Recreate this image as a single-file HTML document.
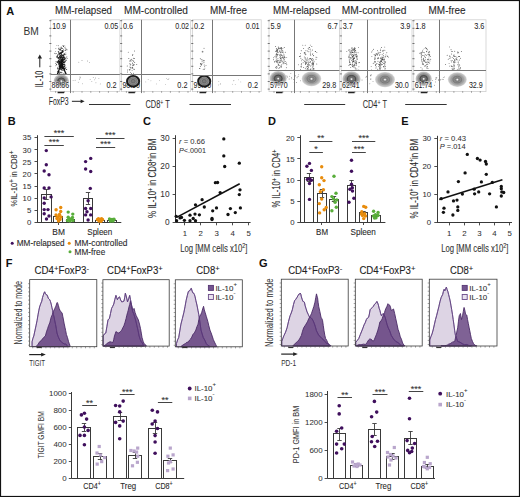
<!DOCTYPE html>
<html><head><meta charset="utf-8"><style>
html,body{margin:0;padding:0;background:#fff;}
svg{display:block;font-family:"Liberation Sans", sans-serif;}
</style></head><body>
<svg width="520" height="497" viewBox="0 0 520 497">
<defs>
<radialGradient id="gL"><stop offset="0" stop-color="#8a8a8a"/><stop offset="0.4" stop-color="#666"/><stop offset="0.75" stop-color="#9a9a9a"/><stop offset="1" stop-color="#d8d8d8"/></radialGradient>
<radialGradient id="gL2"><stop offset="0" stop-color="#999"/><stop offset="0.4" stop-color="#8a8a8a"/><stop offset="0.75" stop-color="#b0b0b0"/><stop offset="1" stop-color="#dcdcdc"/></radialGradient>
<radialGradient id="gD"><stop offset="0" stop-color="#777"/><stop offset="0.5" stop-color="#8a8a8a"/><stop offset="1" stop-color="#9a9a9a"/></radialGradient>
</defs>
<rect x="0" y="0" width="520" height="497" fill="#fff"/>
<text x="6.3" y="14.8" font-size="11" fill="#111" text-anchor="start" font-weight="bold" >A</text>
<text x="7.8" y="124.6" font-size="11" fill="#111" text-anchor="start" font-weight="bold" >B</text>
<text x="143" y="125.4" font-size="11" fill="#111" text-anchor="start" font-weight="bold" >C</text>
<text x="268" y="125.4" font-size="11" fill="#111" text-anchor="start" font-weight="bold" >D</text>
<text x="401.2" y="124.6" font-size="11" fill="#111" text-anchor="start" font-weight="bold" >E</text>
<text x="5.8" y="267" font-size="11" fill="#111" text-anchor="start" font-weight="bold" >F</text>
<text x="259" y="266.8" font-size="11" fill="#111" text-anchor="start" font-weight="bold" >G</text>
<text x="83.5" y="14.2" font-size="10.2" fill="#2a2a2a" text-anchor="middle" stroke="#2a2a2a" stroke-width="0.1" textLength="57" lengthAdjust="spacingAndGlyphs" >MM-relapsed</text>
<text x="156" y="14.2" font-size="10.2" fill="#2a2a2a" text-anchor="middle" stroke="#2a2a2a" stroke-width="0.1" textLength="64" lengthAdjust="spacingAndGlyphs" >MM-controlled</text>
<text x="228.6" y="14.2" font-size="10.2" fill="#2a2a2a" text-anchor="middle" stroke="#2a2a2a" stroke-width="0.1" textLength="37" lengthAdjust="spacingAndGlyphs" >MM-free</text>
<text x="301.7" y="14.2" font-size="10.2" fill="#2a2a2a" text-anchor="middle" stroke="#2a2a2a" stroke-width="0.1" textLength="57.3" lengthAdjust="spacingAndGlyphs" >MM-relapsed</text>
<text x="374.1" y="14.2" font-size="10.2" fill="#2a2a2a" text-anchor="middle" stroke="#2a2a2a" stroke-width="0.1" textLength="64.7" lengthAdjust="spacingAndGlyphs" >MM-controlled</text>
<text x="447.1" y="14.2" font-size="10.2" fill="#2a2a2a" text-anchor="middle" stroke="#2a2a2a" stroke-width="0.1" textLength="37.1" lengthAdjust="spacingAndGlyphs" >MM-free</text>
<text x="23.4" y="35.1" font-size="10.4" fill="#333" text-anchor="start" textLength="15.3" lengthAdjust="spacingAndGlyphs" >BM</text>
<text x="42.9" y="87.2" font-size="10" fill="#2a2a2a" text-anchor="start" stroke="#2a2a2a" stroke-width="0.05" textLength="16.6" lengthAdjust="spacingAndGlyphs" transform="rotate(-90 42.9 87.2)" >IL-10</text>
<line x1="39.8" y1="67.3" x2="39.8" y2="57.5" stroke="#222" stroke-width="1"/>
<path d="M37.6 58.6 L39.8 54.6 L42 58.6 Z" fill="#222"/>
<text x="48.7" y="104.5" font-size="10" fill="#2a2a2a" text-anchor="start" stroke="#2a2a2a" stroke-width="0.05" textLength="19.9" lengthAdjust="spacingAndGlyphs" >FoxP3</text>
<line x1="71.9" y1="101.3" x2="82" y2="101.3" stroke="#222" stroke-width="1"/>
<path d="M80.6 99.4 L84.6 101.3 L80.6 103.2 Z" fill="#222"/>
<line x1="89" y1="104.5" x2="130.4" y2="104.5" stroke="#333" stroke-width="1"/>
<line x1="189.5" y1="104.5" x2="231" y2="104.5" stroke="#333" stroke-width="1"/>
<line x1="304.2" y1="104.5" x2="345.2" y2="104.5" stroke="#333" stroke-width="1"/>
<line x1="405.2" y1="104.5" x2="446.7" y2="104.5" stroke="#333" stroke-width="1"/>
<text x="145.4" y="107.7" font-size="10" fill="#2a2a2a" text-anchor="start" stroke="#2a2a2a" stroke-width="0.05" textLength="24.4" lengthAdjust="spacingAndGlyphs" >CD8<tspan font-size="7" dy="-2.6">+</tspan><tspan dy="2.6"> T</tspan></text>
<text x="362.7" y="107.7" font-size="10" fill="#2a2a2a" text-anchor="start" stroke="#2a2a2a" stroke-width="0.05" textLength="24.2" lengthAdjust="spacingAndGlyphs" >CD4<tspan font-size="7" dy="-2.6">+</tspan><tspan dy="2.6"> T</tspan></text>
<rect x="50.6" y="19.8" width="69.3" height="71.8" fill="none" stroke="#cfcfcf" stroke-width="0.8"/>
<line x1="49.3" y1="89.1" x2="51.4" y2="89.1" stroke="#444" stroke-width="0.7"/>
<line x1="49.3" y1="81.5" x2="51.4" y2="81.5" stroke="#444" stroke-width="0.7"/>
<line x1="49.3" y1="73.9" x2="51.4" y2="73.9" stroke="#444" stroke-width="0.7"/>
<line x1="49.3" y1="66.3" x2="51.4" y2="66.3" stroke="#444" stroke-width="0.7"/>
<line x1="49.3" y1="58.7" x2="51.4" y2="58.7" stroke="#444" stroke-width="0.7"/>
<line x1="49.3" y1="51.1" x2="51.4" y2="51.1" stroke="#444" stroke-width="0.7"/>
<line x1="49.3" y1="43.5" x2="51.4" y2="43.5" stroke="#444" stroke-width="0.7"/>
<line x1="49.3" y1="35.9" x2="51.4" y2="35.9" stroke="#444" stroke-width="0.7"/>
<line x1="49.3" y1="28.3" x2="51.4" y2="28.3" stroke="#444" stroke-width="0.7"/>
<line x1="49.3" y1="20.7" x2="51.4" y2="20.7" stroke="#444" stroke-width="0.7"/>
<line x1="55.6" y1="91" x2="55.6" y2="92.9" stroke="#777" stroke-width="0.6"/>
<line x1="64.4" y1="91" x2="64.4" y2="92.9" stroke="#777" stroke-width="0.6"/>
<line x1="73.2" y1="91" x2="73.2" y2="92.9" stroke="#777" stroke-width="0.6"/>
<line x1="82" y1="91" x2="82" y2="92.9" stroke="#777" stroke-width="0.6"/>
<line x1="90.8" y1="91" x2="90.8" y2="92.9" stroke="#777" stroke-width="0.6"/>
<line x1="99.6" y1="91" x2="99.6" y2="92.9" stroke="#777" stroke-width="0.6"/>
<line x1="108.4" y1="91" x2="108.4" y2="92.9" stroke="#777" stroke-width="0.6"/>
<line x1="117.2" y1="91" x2="117.2" y2="92.9" stroke="#777" stroke-width="0.6"/>
<line x1="57.6" y1="92.5" x2="64.1" y2="92.5" stroke="#222" stroke-width="1.5"/>
<g fill="#333"><circle cx="60.73" cy="59.58" r="0.42"/><circle cx="60.82" cy="53.79" r="0.42"/><circle cx="58.71" cy="54.51" r="0.42"/><circle cx="64.84" cy="58.97" r="0.42"/><circle cx="64.61" cy="57.74" r="0.42"/><circle cx="62.68" cy="57.3" r="0.42"/><circle cx="56.5" cy="61.99" r="0.42"/><circle cx="63.02" cy="59.49" r="0.42"/><circle cx="58.83" cy="52.72" r="0.42"/><circle cx="62.42" cy="55.68" r="0.42"/><circle cx="63.06" cy="51.5" r="0.42"/><circle cx="62.43" cy="58.76" r="0.42"/><circle cx="59.52" cy="68.02" r="0.42"/><circle cx="63.17" cy="64.38" r="0.42"/><circle cx="59.64" cy="50.82" r="0.42"/><circle cx="60.47" cy="55.26" r="0.42"/><circle cx="63.4" cy="57.74" r="0.42"/><circle cx="60.16" cy="49.3" r="0.42"/><circle cx="59.94" cy="64.55" r="0.42"/><circle cx="59.08" cy="57.71" r="0.42"/><circle cx="62.78" cy="45.57" r="0.42"/><circle cx="61.65" cy="65.14" r="0.42"/><circle cx="55.46" cy="53.75" r="0.42"/><circle cx="61.18" cy="50.28" r="0.42"/><circle cx="62.99" cy="55.56" r="0.42"/><circle cx="57.11" cy="61.79" r="0.42"/><circle cx="63.51" cy="62.62" r="0.42"/><circle cx="65.82" cy="58.54" r="0.42"/><circle cx="61.86" cy="46.91" r="0.42"/><circle cx="63.35" cy="51.72" r="0.42"/><circle cx="60.14" cy="47.15" r="0.42"/><circle cx="58.6" cy="52.28" r="0.42"/><circle cx="57.13" cy="57.68" r="0.42"/><circle cx="65.83" cy="60.05" r="0.42"/><circle cx="62.57" cy="50.85" r="0.42"/><circle cx="58.14" cy="62.84" r="0.42"/><circle cx="64.81" cy="57.1" r="0.42"/><circle cx="62.24" cy="59.04" r="0.42"/><circle cx="66.28" cy="60.33" r="0.42"/><circle cx="63.06" cy="59.83" r="0.42"/><circle cx="56.8" cy="64.97" r="0.42"/><circle cx="64.37" cy="59.71" r="0.42"/><circle cx="55.58" cy="51.56" r="0.42"/><circle cx="60.95" cy="63.14" r="0.42"/><circle cx="57.57" cy="67.27" r="0.42"/><circle cx="63.16" cy="54.95" r="0.42"/><circle cx="62.47" cy="60.55" r="0.42"/><circle cx="61.86" cy="64.02" r="0.42"/><circle cx="59.52" cy="53.1" r="0.42"/><circle cx="64.63" cy="56.19" r="0.42"/><circle cx="58.86" cy="62.63" r="0.42"/><circle cx="65.9" cy="52.89" r="0.42"/><circle cx="57.36" cy="55.06" r="0.42"/><circle cx="61.05" cy="53.91" r="0.42"/><circle cx="65.71" cy="48.81" r="0.42"/><circle cx="65.28" cy="47.12" r="0.42"/><circle cx="59.14" cy="60.42" r="0.42"/><circle cx="64.89" cy="62.01" r="0.42"/><circle cx="62.54" cy="57" r="0.42"/><circle cx="61.96" cy="60.03" r="0.42"/><circle cx="60.97" cy="57.94" r="0.42"/><circle cx="63.22" cy="56.01" r="0.42"/><circle cx="63.79" cy="59.96" r="0.42"/><circle cx="67.53" cy="58.27" r="0.42"/><circle cx="60.22" cy="53.39" r="0.42"/><circle cx="61.46" cy="62.47" r="0.42"/><circle cx="60.49" cy="58.7" r="0.42"/><circle cx="58.13" cy="57.71" r="0.42"/><circle cx="62.7" cy="57.67" r="0.42"/><circle cx="60.21" cy="60.59" r="0.42"/><circle cx="62.35" cy="52.35" r="0.42"/><circle cx="59.84" cy="55.3" r="0.42"/><circle cx="60.82" cy="55.56" r="0.42"/><circle cx="64.53" cy="47.82" r="0.42"/><circle cx="61.3" cy="62.67" r="0.42"/><circle cx="64.07" cy="66.44" r="0.42"/><circle cx="56.4" cy="53.53" r="0.42"/><circle cx="60.48" cy="60.36" r="0.42"/><circle cx="64.77" cy="45.87" r="0.42"/><circle cx="63.55" cy="45.56" r="0.42"/><circle cx="62.03" cy="64.36" r="0.42"/><circle cx="61.05" cy="57.34" r="0.42"/><circle cx="63.89" cy="56.99" r="0.42"/><circle cx="61.23" cy="66.73" r="0.42"/><circle cx="64.65" cy="53.94" r="0.42"/><circle cx="64.24" cy="54.14" r="0.42"/><circle cx="61.9" cy="60.94" r="0.42"/><circle cx="62.17" cy="60.47" r="0.42"/><circle cx="56.92" cy="45.43" r="0.42"/><circle cx="63.34" cy="49.26" r="0.42"/><circle cx="58.42" cy="45.71" r="0.42"/><circle cx="65.3" cy="61.23" r="0.42"/><circle cx="65.92" cy="49.44" r="0.42"/><circle cx="61.5" cy="48.02" r="0.42"/><circle cx="63.8" cy="67.13" r="0.42"/><circle cx="58.83" cy="66.92" r="0.42"/><circle cx="64.46" cy="54.76" r="0.42"/><circle cx="55.58" cy="65.85" r="0.42"/><circle cx="61.21" cy="51.78" r="0.42"/><circle cx="62.7" cy="58.87" r="0.42"/><circle cx="65.99" cy="48.86" r="0.42"/><circle cx="64.91" cy="66.41" r="0.42"/><circle cx="65.86" cy="54.74" r="0.42"/><circle cx="59.27" cy="63.13" r="0.42"/><circle cx="61.85" cy="56.87" r="0.42"/><circle cx="65.77" cy="54.16" r="0.42"/><circle cx="54.61" cy="53.29" r="0.42"/><circle cx="55.94" cy="61.73" r="0.42"/><circle cx="62.45" cy="51.72" r="0.42"/><circle cx="61.47" cy="61.83" r="0.42"/><circle cx="61.74" cy="65.29" r="0.42"/><circle cx="61.32" cy="63.28" r="0.42"/><circle cx="65.97" cy="67.27" r="0.42"/><circle cx="59.48" cy="62.16" r="0.42"/><circle cx="55.87" cy="48.42" r="0.42"/><circle cx="55.61" cy="63.48" r="0.42"/><circle cx="57.8" cy="55.91" r="0.42"/><circle cx="60.92" cy="55.8" r="0.42"/><circle cx="59.73" cy="57.64" r="0.42"/><circle cx="66.87" cy="56.31" r="0.42"/></g>
<g fill="#111"><circle cx="62.36" cy="68.5" r="0.5"/><circle cx="60.9" cy="53.81" r="0.5"/><circle cx="60.19" cy="68.98" r="0.5"/><circle cx="58.01" cy="58.11" r="0.5"/><circle cx="63.31" cy="67.15" r="0.5"/><circle cx="61.32" cy="67.23" r="0.5"/><circle cx="61.63" cy="54.34" r="0.5"/><circle cx="58.17" cy="57.85" r="0.5"/><circle cx="63.15" cy="58.32" r="0.5"/><circle cx="59.5" cy="56.99" r="0.5"/><circle cx="58.24" cy="61.24" r="0.5"/><circle cx="58.94" cy="64.37" r="0.5"/><circle cx="56.58" cy="64.13" r="0.5"/><circle cx="60.02" cy="49.38" r="0.5"/><circle cx="62.75" cy="60.21" r="0.5"/><circle cx="56.84" cy="56.31" r="0.5"/><circle cx="61.88" cy="59.02" r="0.5"/><circle cx="62.86" cy="66.86" r="0.5"/><circle cx="62.63" cy="64.12" r="0.5"/><circle cx="63.97" cy="66.29" r="0.5"/><circle cx="62.2" cy="48.45" r="0.5"/><circle cx="63.09" cy="70.51" r="0.5"/><circle cx="60.71" cy="58.95" r="0.5"/><circle cx="65.18" cy="50.57" r="0.5"/><circle cx="59.44" cy="66.48" r="0.5"/><circle cx="65.07" cy="61.22" r="0.5"/><circle cx="62.42" cy="67.87" r="0.5"/><circle cx="59.49" cy="61.42" r="0.5"/><circle cx="61.89" cy="67.37" r="0.5"/><circle cx="61.23" cy="60.73" r="0.5"/><circle cx="59.27" cy="59.67" r="0.5"/><circle cx="63.08" cy="62.66" r="0.5"/><circle cx="59.59" cy="56.53" r="0.5"/><circle cx="66.63" cy="69.41" r="0.5"/><circle cx="62.54" cy="65.12" r="0.5"/><circle cx="64.67" cy="64.78" r="0.5"/><circle cx="61.17" cy="65.4" r="0.5"/><circle cx="57.41" cy="68.72" r="0.5"/><circle cx="61.95" cy="57.44" r="0.5"/><circle cx="63.95" cy="73.76" r="0.5"/><circle cx="58.5" cy="57.67" r="0.5"/><circle cx="61.88" cy="63.19" r="0.5"/><circle cx="60.5" cy="55.67" r="0.5"/><circle cx="65.54" cy="68.74" r="0.5"/><circle cx="58.91" cy="53.26" r="0.5"/><circle cx="64.71" cy="68.43" r="0.5"/><circle cx="64.94" cy="67.27" r="0.5"/><circle cx="59.56" cy="63.69" r="0.5"/><circle cx="56.98" cy="57.14" r="0.5"/><circle cx="61.18" cy="65.4" r="0.5"/><circle cx="59.84" cy="61.19" r="0.5"/><circle cx="62.22" cy="64.45" r="0.5"/><circle cx="62.58" cy="63.36" r="0.5"/><circle cx="60.65" cy="67.13" r="0.5"/><circle cx="61.4" cy="56.63" r="0.5"/><circle cx="60.05" cy="62" r="0.5"/><circle cx="61.08" cy="63.02" r="0.5"/><circle cx="61.3" cy="63.14" r="0.5"/><circle cx="61.03" cy="53.82" r="0.5"/><circle cx="62.14" cy="68.85" r="0.5"/><circle cx="62.17" cy="60.77" r="0.5"/><circle cx="62.19" cy="55.72" r="0.5"/><circle cx="57.51" cy="62.39" r="0.5"/><circle cx="59.44" cy="66.81" r="0.5"/><circle cx="59.22" cy="72.26" r="0.5"/><circle cx="60.54" cy="53.1" r="0.5"/><circle cx="59.77" cy="65.39" r="0.5"/><circle cx="62.29" cy="63.15" r="0.5"/><circle cx="64.27" cy="66.59" r="0.5"/><circle cx="61.26" cy="65.88" r="0.5"/><circle cx="64.61" cy="68.31" r="0.5"/><circle cx="63.35" cy="54.96" r="0.5"/><circle cx="61" cy="66.74" r="0.5"/><circle cx="60.71" cy="68.95" r="0.5"/><circle cx="62.49" cy="67.9" r="0.5"/><circle cx="63.78" cy="60.6" r="0.5"/><circle cx="60.61" cy="67.68" r="0.5"/><circle cx="63.26" cy="62.04" r="0.5"/><circle cx="58.97" cy="63.22" r="0.5"/><circle cx="62.02" cy="69.34" r="0.5"/><circle cx="62.87" cy="62.16" r="0.5"/><circle cx="63.01" cy="65.51" r="0.5"/><circle cx="61.71" cy="62.36" r="0.5"/><circle cx="60.81" cy="66.46" r="0.5"/><circle cx="59.19" cy="57.91" r="0.5"/><circle cx="61.31" cy="52.48" r="0.5"/><circle cx="60.43" cy="48.94" r="0.5"/><circle cx="59.93" cy="65.69" r="0.5"/><circle cx="62.43" cy="61.65" r="0.5"/><circle cx="60.84" cy="52.79" r="0.5"/><circle cx="64.96" cy="65.35" r="0.5"/><circle cx="63.49" cy="56.26" r="0.5"/><circle cx="60.93" cy="50.17" r="0.5"/><circle cx="62.86" cy="68.08" r="0.5"/><circle cx="57.51" cy="61.66" r="0.5"/><circle cx="62.56" cy="50.55" r="0.5"/><circle cx="57.65" cy="55.08" r="0.5"/><circle cx="60.04" cy="52.88" r="0.5"/><circle cx="61.36" cy="63.62" r="0.5"/><circle cx="62.57" cy="66.56" r="0.5"/><circle cx="64.31" cy="69.57" r="0.5"/><circle cx="58.68" cy="58.71" r="0.5"/><circle cx="59.18" cy="55" r="0.5"/><circle cx="61.14" cy="62.04" r="0.5"/><circle cx="62.28" cy="51.69" r="0.5"/><circle cx="58.82" cy="61.85" r="0.5"/><circle cx="60.9" cy="59.98" r="0.5"/><circle cx="61.17" cy="57.06" r="0.5"/><circle cx="62.7" cy="64.3" r="0.5"/><circle cx="61.12" cy="57.63" r="0.5"/><circle cx="59.34" cy="62.24" r="0.5"/><circle cx="58.29" cy="63.3" r="0.5"/><circle cx="61.59" cy="53.05" r="0.5"/><circle cx="60.8" cy="59.96" r="0.5"/><circle cx="62.22" cy="65.98" r="0.5"/><circle cx="61.23" cy="56.47" r="0.5"/><circle cx="61.01" cy="61.57" r="0.5"/><circle cx="62.77" cy="63.91" r="0.5"/><circle cx="59.85" cy="53.2" r="0.5"/><circle cx="60.55" cy="57.19" r="0.5"/><circle cx="59.08" cy="61.25" r="0.5"/><circle cx="60.32" cy="62.69" r="0.5"/><circle cx="62.35" cy="59.32" r="0.5"/><circle cx="65.95" cy="59.91" r="0.5"/><circle cx="63.5" cy="62.79" r="0.5"/><circle cx="63.53" cy="46.56" r="0.5"/><circle cx="59.8" cy="63.61" r="0.5"/><circle cx="61.95" cy="70.32" r="0.5"/><circle cx="62.83" cy="68.16" r="0.5"/><circle cx="62.32" cy="60.99" r="0.5"/><circle cx="62.32" cy="54.99" r="0.5"/><circle cx="63.66" cy="55.39" r="0.5"/><circle cx="60.85" cy="62.13" r="0.5"/><circle cx="63.63" cy="62.17" r="0.5"/><circle cx="59.68" cy="63.68" r="0.5"/><circle cx="62.46" cy="66.62" r="0.5"/><circle cx="59.75" cy="73.39" r="0.5"/><circle cx="64.63" cy="62.12" r="0.5"/><circle cx="61.84" cy="59.21" r="0.5"/><circle cx="64.13" cy="57.42" r="0.5"/><circle cx="62.65" cy="58.88" r="0.5"/><circle cx="59.91" cy="66.67" r="0.5"/><circle cx="63.97" cy="61.93" r="0.5"/><circle cx="59.95" cy="67.27" r="0.5"/><circle cx="61.2" cy="64.02" r="0.5"/><circle cx="64.35" cy="69.36" r="0.5"/><circle cx="61.31" cy="67.11" r="0.5"/><circle cx="60.01" cy="61.71" r="0.5"/><circle cx="57.8" cy="73.61" r="0.5"/><circle cx="64.03" cy="54.1" r="0.5"/><circle cx="58.29" cy="51.46" r="0.5"/><circle cx="63.65" cy="59.01" r="0.5"/><circle cx="61.18" cy="59.97" r="0.5"/><circle cx="61.06" cy="54.93" r="0.5"/><circle cx="61.35" cy="52.65" r="0.5"/><circle cx="61.16" cy="64.01" r="0.5"/><circle cx="62.24" cy="60.49" r="0.5"/><circle cx="59.49" cy="63.04" r="0.5"/><circle cx="60.33" cy="72.18" r="0.5"/><circle cx="62.84" cy="61.25" r="0.5"/><circle cx="60.36" cy="57.43" r="0.5"/><circle cx="59.43" cy="59.71" r="0.5"/><circle cx="61.89" cy="65.35" r="0.5"/><circle cx="59.89" cy="62.08" r="0.5"/><circle cx="66.89" cy="49.86" r="0.5"/><circle cx="60.26" cy="63.1" r="0.5"/><circle cx="61.61" cy="64.65" r="0.5"/><circle cx="60.82" cy="64.38" r="0.5"/><circle cx="61.41" cy="67.01" r="0.5"/><circle cx="57.51" cy="56.25" r="0.5"/><circle cx="61.3" cy="55.29" r="0.5"/><circle cx="59.21" cy="66.08" r="0.5"/><circle cx="60" cy="66.13" r="0.5"/><circle cx="62.79" cy="63.99" r="0.5"/><circle cx="62.32" cy="61.32" r="0.5"/><circle cx="58.48" cy="61.8" r="0.5"/><circle cx="62.21" cy="58.56" r="0.5"/><circle cx="61.1" cy="66.87" r="0.5"/><circle cx="59.54" cy="66.16" r="0.5"/><circle cx="65.03" cy="58.4" r="0.5"/><circle cx="61.59" cy="61.02" r="0.5"/><circle cx="64.38" cy="64.06" r="0.5"/><circle cx="63.1" cy="57.51" r="0.5"/><circle cx="61.27" cy="61.94" r="0.5"/><circle cx="57.75" cy="71.37" r="0.5"/><circle cx="63.1" cy="50.63" r="0.5"/><circle cx="62.79" cy="61.15" r="0.5"/><circle cx="62.2" cy="64.38" r="0.5"/><circle cx="58.3" cy="60.62" r="0.5"/><circle cx="64.29" cy="58.26" r="0.5"/><circle cx="59.25" cy="53.16" r="0.5"/><circle cx="58.86" cy="64.18" r="0.5"/><circle cx="64.69" cy="64.79" r="0.5"/><circle cx="60.26" cy="57.62" r="0.5"/><circle cx="62.36" cy="65.57" r="0.5"/><circle cx="59.27" cy="54.4" r="0.5"/><circle cx="61.88" cy="63.61" r="0.5"/><circle cx="58.69" cy="60.69" r="0.5"/><circle cx="60.21" cy="64.99" r="0.5"/><circle cx="61.07" cy="61.44" r="0.5"/><circle cx="60.59" cy="68.85" r="0.5"/><circle cx="64.08" cy="59.61" r="0.5"/><circle cx="62.99" cy="57.08" r="0.5"/><circle cx="61.44" cy="66.87" r="0.5"/><circle cx="64.33" cy="59.51" r="0.5"/><circle cx="61.15" cy="63.28" r="0.5"/><circle cx="58.3" cy="62.1" r="0.5"/><circle cx="59.95" cy="64.41" r="0.5"/><circle cx="59.04" cy="49.15" r="0.5"/><circle cx="61.38" cy="63.69" r="0.5"/><circle cx="60.2" cy="67.78" r="0.5"/><circle cx="60.75" cy="58.06" r="0.5"/><circle cx="62.26" cy="51.81" r="0.5"/><circle cx="59.95" cy="61.86" r="0.5"/><circle cx="63" cy="60.94" r="0.5"/><circle cx="61.92" cy="57.74" r="0.5"/><circle cx="61.9" cy="72.81" r="0.5"/><circle cx="60.01" cy="62.11" r="0.5"/><circle cx="61.65" cy="68.66" r="0.5"/><circle cx="58.83" cy="48.35" r="0.5"/><circle cx="62.51" cy="67.17" r="0.5"/><circle cx="61.71" cy="63.65" r="0.5"/><circle cx="63.16" cy="64.4" r="0.5"/><circle cx="64.63" cy="53.95" r="0.5"/><circle cx="62.92" cy="59.58" r="0.5"/><circle cx="61.29" cy="60.35" r="0.5"/><circle cx="60.3" cy="56.55" r="0.5"/><circle cx="60.04" cy="66.16" r="0.5"/><circle cx="61.37" cy="62.43" r="0.5"/><circle cx="60.95" cy="67.94" r="0.5"/><circle cx="62.29" cy="61.08" r="0.5"/><circle cx="62.63" cy="61.01" r="0.5"/><circle cx="58.99" cy="71.46" r="0.5"/><circle cx="62.23" cy="55.78" r="0.5"/><circle cx="63.46" cy="64.24" r="0.5"/><circle cx="58.17" cy="72.46" r="0.5"/><circle cx="61.97" cy="67.79" r="0.5"/><circle cx="61.7" cy="61.03" r="0.5"/><circle cx="58.2" cy="68.32" r="0.5"/><circle cx="61.36" cy="60.14" r="0.5"/><circle cx="62" cy="62.51" r="0.5"/><circle cx="62.65" cy="59.59" r="0.5"/><circle cx="61.23" cy="48.1" r="0.5"/><circle cx="60.45" cy="66.39" r="0.5"/><circle cx="63.97" cy="59.63" r="0.5"/><circle cx="61.06" cy="72.29" r="0.5"/><circle cx="60.65" cy="66.77" r="0.5"/><circle cx="64.66" cy="62.26" r="0.5"/><circle cx="63.75" cy="57.38" r="0.5"/><circle cx="61.72" cy="61.5" r="0.5"/><circle cx="61.53" cy="69.34" r="0.5"/><circle cx="66.08" cy="57.67" r="0.5"/><circle cx="60.15" cy="65.23" r="0.5"/><circle cx="59.19" cy="65.23" r="0.5"/><circle cx="62.44" cy="60.2" r="0.5"/><circle cx="62.36" cy="51.93" r="0.5"/><circle cx="62.82" cy="51.96" r="0.5"/><circle cx="59.91" cy="58.38" r="0.5"/><circle cx="60.5" cy="67.58" r="0.5"/><circle cx="61.46" cy="59.42" r="0.5"/></g>
<path d="M57.3 74.6 L61.3 63.5 L66.2 74.3" stroke="#111" stroke-width="1.3" fill="none"/>
<ellipse cx="61.3" cy="81.1" rx="7.8" ry="6.8" fill="url(#gL)"/>
<ellipse cx="61.3" cy="81.1" rx="6.63" ry="5.78" fill="none" stroke="#bbb" stroke-width="0.5"/>
<ellipse cx="61.3" cy="81.1" rx="5.07" ry="4.42" fill="none" stroke="#999" stroke-width="0.5"/>
<ellipse cx="61.3" cy="81.1" rx="3.51" ry="3.06" fill="none" stroke="#444" stroke-width="0.9"/>
<ellipse cx="61.3" cy="81.1" rx="1.95" ry="1.7" fill="none" stroke="#666" stroke-width="0.5"/>
<circle cx="61.3" cy="81.1" r="0.9" fill="#f4f4f4"/>
<g fill="#666"><circle cx="78.31" cy="82.15" r="0.42"/><circle cx="79.91" cy="76.99" r="0.42"/><circle cx="73.08" cy="80.64" r="0.42"/><circle cx="82.42" cy="83.85" r="0.42"/><circle cx="100.27" cy="83.91" r="0.42"/><circle cx="80.48" cy="77.13" r="0.42"/><circle cx="75.09" cy="80.24" r="0.42"/><circle cx="94.71" cy="79.85" r="0.42"/><circle cx="79.49" cy="79.63" r="0.42"/><circle cx="91.85" cy="81.56" r="0.42"/><circle cx="95.94" cy="82.85" r="0.42"/><circle cx="93.26" cy="77.41" r="0.42"/><circle cx="98.91" cy="78.7" r="0.42"/><circle cx="90.14" cy="79.3" r="0.42"/><circle cx="95.62" cy="77.99" r="0.42"/><circle cx="79.92" cy="78.34" r="0.42"/></g>
<g fill="#666"><circle cx="78.8" cy="62.2" r="0.42"/><circle cx="87.5" cy="61" r="0.42"/><circle cx="89.6" cy="62.6" r="0.42"/><circle cx="82" cy="60.5" r="0.42"/></g>
<line x1="50.6" y1="74.5" x2="119.9" y2="74.5" stroke="#777" stroke-width="1"/>
<line x1="70.5" y1="19.8" x2="70.5" y2="93.1" stroke="#777" stroke-width="1"/>
<text x="52.2" y="29.1" font-size="8.6" fill="#222" text-anchor="start" stroke="#222" stroke-width="0.02" textLength="13.9" lengthAdjust="spacingAndGlyphs" >10.9</text>
<text x="118.3" y="29.1" font-size="8.6" fill="#222" text-anchor="end" stroke="#222" stroke-width="0.02" textLength="13.9" lengthAdjust="spacingAndGlyphs" >0.05</text>
<text x="51.6" y="88" font-size="8.6" fill="#222" text-anchor="start" textLength="17.6" lengthAdjust="spacingAndGlyphs" stroke="#fff" stroke-width="1.2" paint-order="stroke" stroke-opacity="0.8">88.86</text>
<text x="116.7" y="88" font-size="8.6" fill="#222" text-anchor="end" stroke="#222" stroke-width="0.02" textLength="10.2" lengthAdjust="spacingAndGlyphs" >0.2</text>
<rect x="121.4" y="19.8" width="69.3" height="71.8" fill="none" stroke="#cfcfcf" stroke-width="0.8"/>
<line x1="120.1" y1="89.1" x2="122.2" y2="89.1" stroke="#444" stroke-width="0.7"/>
<line x1="120.1" y1="81.5" x2="122.2" y2="81.5" stroke="#444" stroke-width="0.7"/>
<line x1="120.1" y1="73.9" x2="122.2" y2="73.9" stroke="#444" stroke-width="0.7"/>
<line x1="120.1" y1="66.3" x2="122.2" y2="66.3" stroke="#444" stroke-width="0.7"/>
<line x1="120.1" y1="58.7" x2="122.2" y2="58.7" stroke="#444" stroke-width="0.7"/>
<line x1="120.1" y1="51.1" x2="122.2" y2="51.1" stroke="#444" stroke-width="0.7"/>
<line x1="120.1" y1="43.5" x2="122.2" y2="43.5" stroke="#444" stroke-width="0.7"/>
<line x1="120.1" y1="35.9" x2="122.2" y2="35.9" stroke="#444" stroke-width="0.7"/>
<line x1="120.1" y1="28.3" x2="122.2" y2="28.3" stroke="#444" stroke-width="0.7"/>
<line x1="120.1" y1="20.7" x2="122.2" y2="20.7" stroke="#444" stroke-width="0.7"/>
<line x1="126.4" y1="91" x2="126.4" y2="92.9" stroke="#777" stroke-width="0.6"/>
<line x1="135.2" y1="91" x2="135.2" y2="92.9" stroke="#777" stroke-width="0.6"/>
<line x1="144" y1="91" x2="144" y2="92.9" stroke="#777" stroke-width="0.6"/>
<line x1="152.8" y1="91" x2="152.8" y2="92.9" stroke="#777" stroke-width="0.6"/>
<line x1="161.6" y1="91" x2="161.6" y2="92.9" stroke="#777" stroke-width="0.6"/>
<line x1="170.4" y1="91" x2="170.4" y2="92.9" stroke="#777" stroke-width="0.6"/>
<line x1="179.2" y1="91" x2="179.2" y2="92.9" stroke="#777" stroke-width="0.6"/>
<line x1="188" y1="91" x2="188" y2="92.9" stroke="#777" stroke-width="0.6"/>
<line x1="128.4" y1="92.5" x2="134.9" y2="92.5" stroke="#222" stroke-width="1.5"/>
<text x="122.4" y="88" font-size="8.6" fill="#222" text-anchor="start" stroke="#222" stroke-width="0.02" textLength="17.6" lengthAdjust="spacingAndGlyphs" >98.90</text>
<g fill="#222"><circle cx="129.72" cy="61.06" r="0.45"/><circle cx="129.86" cy="63.77" r="0.45"/><circle cx="132.85" cy="54.49" r="0.45"/><circle cx="132.71" cy="63.82" r="0.45"/><circle cx="127.22" cy="66.04" r="0.45"/><circle cx="134.47" cy="50.93" r="0.45"/><circle cx="133.54" cy="65.46" r="0.45"/><circle cx="132.74" cy="67.09" r="0.45"/><circle cx="134.73" cy="62.43" r="0.45"/><circle cx="133.7" cy="61.13" r="0.45"/><circle cx="133.35" cy="58.3" r="0.45"/><circle cx="132.67" cy="62.89" r="0.45"/><circle cx="128.85" cy="58.47" r="0.45"/><circle cx="132.06" cy="70.58" r="0.45"/><circle cx="132.62" cy="67.67" r="0.45"/><circle cx="131.5" cy="73.46" r="0.45"/><circle cx="130.66" cy="60.15" r="0.45"/><circle cx="133.73" cy="64.45" r="0.45"/><circle cx="130.93" cy="59.97" r="0.45"/><circle cx="130.98" cy="68.36" r="0.45"/><circle cx="132.45" cy="55.53" r="0.45"/><circle cx="132.62" cy="65.25" r="0.45"/><circle cx="129.2" cy="69.41" r="0.45"/><circle cx="130.93" cy="61.65" r="0.45"/><circle cx="133.51" cy="73.24" r="0.45"/><circle cx="129.95" cy="67.07" r="0.45"/><circle cx="130.41" cy="72.36" r="0.45"/><circle cx="130.05" cy="69.68" r="0.45"/><circle cx="130.56" cy="67.5" r="0.45"/><circle cx="131.38" cy="59.32" r="0.45"/><circle cx="136.77" cy="64.56" r="0.45"/><circle cx="127.65" cy="69.98" r="0.45"/><circle cx="127.47" cy="72.06" r="0.45"/><circle cx="130.21" cy="65.01" r="0.45"/><circle cx="134.63" cy="64.83" r="0.45"/><circle cx="128.26" cy="52.13" r="0.45"/><circle cx="134.44" cy="69.18" r="0.45"/><circle cx="129.64" cy="70.02" r="0.45"/><circle cx="132.79" cy="68.53" r="0.45"/><circle cx="133.76" cy="69.13" r="0.45"/><circle cx="132.01" cy="67.45" r="0.45"/><circle cx="130.81" cy="64.25" r="0.45"/><circle cx="133.73" cy="60.9" r="0.45"/><circle cx="134.35" cy="58.48" r="0.45"/><circle cx="132.24" cy="60.31" r="0.45"/></g>
<ellipse cx="133.1" cy="81.2" rx="6.1" ry="5.3" fill="url(#gD)" stroke="#1a1a1a" stroke-width="1.9"/>
<ellipse cx="133.1" cy="81.2" rx="3.96" ry="3.44" fill="none" stroke="#666" stroke-width="0.6"/>
<ellipse cx="133.1" cy="81.2" rx="1.95" ry="1.7" fill="none" stroke="#555" stroke-width="0.6"/>
<g fill="#777"><circle cx="167.39" cy="79.55" r="0.38"/><circle cx="156.33" cy="83.92" r="0.38"/><circle cx="168.65" cy="79.28" r="0.38"/><circle cx="150.93" cy="80.8" r="0.38"/><circle cx="159.62" cy="80.69" r="0.38"/><circle cx="148.17" cy="79.73" r="0.38"/><circle cx="165.62" cy="84.28" r="0.38"/><circle cx="145.79" cy="81.94" r="0.38"/><circle cx="166.57" cy="78.27" r="0.38"/><circle cx="168.91" cy="78.82" r="0.38"/></g>
<line x1="121.4" y1="74.5" x2="190.7" y2="74.5" stroke="#777" stroke-width="1"/>
<line x1="141.5" y1="19.8" x2="141.5" y2="93.1" stroke="#777" stroke-width="1"/>
<text x="123" y="29.1" font-size="8.6" fill="#222" text-anchor="start" stroke="#222" stroke-width="0.02" textLength="10.2" lengthAdjust="spacingAndGlyphs" >0.6</text>
<text x="189.1" y="29.1" font-size="8.6" fill="#222" text-anchor="end" stroke="#222" stroke-width="0.02" textLength="13.9" lengthAdjust="spacingAndGlyphs" >0.02</text>
<text x="187.5" y="88" font-size="8.6" fill="#222" text-anchor="end" stroke="#222" stroke-width="0.02" textLength="10.2" lengthAdjust="spacingAndGlyphs" >0.2</text>
<rect x="192.5" y="19.8" width="68.7" height="71.8" fill="none" stroke="#cfcfcf" stroke-width="0.8"/>
<line x1="191.2" y1="89.1" x2="193.3" y2="89.1" stroke="#444" stroke-width="0.7"/>
<line x1="191.2" y1="81.5" x2="193.3" y2="81.5" stroke="#444" stroke-width="0.7"/>
<line x1="191.2" y1="73.9" x2="193.3" y2="73.9" stroke="#444" stroke-width="0.7"/>
<line x1="191.2" y1="66.3" x2="193.3" y2="66.3" stroke="#444" stroke-width="0.7"/>
<line x1="191.2" y1="58.7" x2="193.3" y2="58.7" stroke="#444" stroke-width="0.7"/>
<line x1="191.2" y1="51.1" x2="193.3" y2="51.1" stroke="#444" stroke-width="0.7"/>
<line x1="191.2" y1="43.5" x2="193.3" y2="43.5" stroke="#444" stroke-width="0.7"/>
<line x1="191.2" y1="35.9" x2="193.3" y2="35.9" stroke="#444" stroke-width="0.7"/>
<line x1="191.2" y1="28.3" x2="193.3" y2="28.3" stroke="#444" stroke-width="0.7"/>
<line x1="191.2" y1="20.7" x2="193.3" y2="20.7" stroke="#444" stroke-width="0.7"/>
<line x1="197.5" y1="91" x2="197.5" y2="92.9" stroke="#777" stroke-width="0.6"/>
<line x1="206.3" y1="91" x2="206.3" y2="92.9" stroke="#777" stroke-width="0.6"/>
<line x1="215.1" y1="91" x2="215.1" y2="92.9" stroke="#777" stroke-width="0.6"/>
<line x1="223.9" y1="91" x2="223.9" y2="92.9" stroke="#777" stroke-width="0.6"/>
<line x1="232.7" y1="91" x2="232.7" y2="92.9" stroke="#777" stroke-width="0.6"/>
<line x1="241.5" y1="91" x2="241.5" y2="92.9" stroke="#777" stroke-width="0.6"/>
<line x1="250.3" y1="91" x2="250.3" y2="92.9" stroke="#777" stroke-width="0.6"/>
<line x1="259.1" y1="91" x2="259.1" y2="92.9" stroke="#777" stroke-width="0.6"/>
<line x1="199.5" y1="92.5" x2="206" y2="92.5" stroke="#222" stroke-width="1.5"/>
<text x="193.5" y="88" font-size="8.6" fill="#222" text-anchor="start" stroke="#222" stroke-width="0.02" textLength="17.6" lengthAdjust="spacingAndGlyphs" >99.00</text>
<g fill="#222"><circle cx="200.24" cy="58.82" r="0.45"/><circle cx="201.27" cy="59.71" r="0.45"/><circle cx="199.92" cy="68.45" r="0.45"/><circle cx="199.56" cy="68.62" r="0.45"/><circle cx="200.26" cy="66.47" r="0.45"/><circle cx="206" cy="65.42" r="0.45"/><circle cx="200.95" cy="64.34" r="0.45"/><circle cx="203.06" cy="51.86" r="0.45"/><circle cx="201.24" cy="65.14" r="0.45"/><circle cx="201.57" cy="64.56" r="0.45"/><circle cx="204.46" cy="69.37" r="0.45"/><circle cx="204.87" cy="68.12" r="0.45"/><circle cx="202.01" cy="63.87" r="0.45"/><circle cx="202.05" cy="61.81" r="0.45"/><circle cx="202.27" cy="51.93" r="0.45"/><circle cx="201.9" cy="63.83" r="0.45"/><circle cx="200.36" cy="63.83" r="0.45"/><circle cx="203.94" cy="62.85" r="0.45"/><circle cx="202.2" cy="51.22" r="0.45"/><circle cx="203.95" cy="61.88" r="0.45"/><circle cx="204.02" cy="48.3" r="0.45"/><circle cx="204.74" cy="66.6" r="0.45"/><circle cx="202.75" cy="59.89" r="0.45"/><circle cx="204.23" cy="60.6" r="0.45"/><circle cx="203.24" cy="60.43" r="0.45"/><circle cx="203.19" cy="69.28" r="0.45"/><circle cx="200.6" cy="63.77" r="0.45"/><circle cx="204.18" cy="65.02" r="0.45"/></g>
<ellipse cx="204.2" cy="81.2" rx="6.1" ry="5.3" fill="url(#gD)" stroke="#1a1a1a" stroke-width="1.9"/>
<ellipse cx="204.2" cy="81.2" rx="3.96" ry="3.44" fill="none" stroke="#666" stroke-width="0.6"/>
<ellipse cx="204.2" cy="81.2" rx="1.95" ry="1.7" fill="none" stroke="#555" stroke-width="0.6"/>
<g fill="#777"><circle cx="220.18" cy="84.55" r="0.38"/><circle cx="235.21" cy="84.27" r="0.38"/><circle cx="220.39" cy="83.49" r="0.38"/><circle cx="218.84" cy="81.72" r="0.38"/><circle cx="233.95" cy="80.52" r="0.38"/><circle cx="240.82" cy="81.89" r="0.38"/><circle cx="232.32" cy="84.18" r="0.38"/><circle cx="218.53" cy="84.95" r="0.38"/><circle cx="233.76" cy="80.76" r="0.38"/><circle cx="238.63" cy="79.85" r="0.38"/></g>
<line x1="192.5" y1="75.5" x2="261.2" y2="75.5" stroke="#777" stroke-width="1"/>
<line x1="212.5" y1="19.8" x2="212.5" y2="93.1" stroke="#777" stroke-width="1"/>
<text x="194.1" y="29.1" font-size="8.6" fill="#222" text-anchor="start" stroke="#222" stroke-width="0.02" textLength="10.2" lengthAdjust="spacingAndGlyphs" >0.2</text>
<text x="259.6" y="29.1" font-size="8.6" fill="#222" text-anchor="end" stroke="#222" stroke-width="0.02" textLength="13.9" lengthAdjust="spacingAndGlyphs" >0.01</text>
<text x="258" y="88" font-size="8.6" fill="#222" text-anchor="end" stroke="#222" stroke-width="0.02" textLength="10.2" lengthAdjust="spacingAndGlyphs" >0.2</text>
<rect x="269" y="19.8" width="70.4" height="71.8" fill="none" stroke="#cfcfcf" stroke-width="0.8"/>
<line x1="267.7" y1="89.1" x2="269.8" y2="89.1" stroke="#444" stroke-width="0.7"/>
<line x1="267.7" y1="81.5" x2="269.8" y2="81.5" stroke="#444" stroke-width="0.7"/>
<line x1="267.7" y1="73.9" x2="269.8" y2="73.9" stroke="#444" stroke-width="0.7"/>
<line x1="267.7" y1="66.3" x2="269.8" y2="66.3" stroke="#444" stroke-width="0.7"/>
<line x1="267.7" y1="58.7" x2="269.8" y2="58.7" stroke="#444" stroke-width="0.7"/>
<line x1="267.7" y1="51.1" x2="269.8" y2="51.1" stroke="#444" stroke-width="0.7"/>
<line x1="267.7" y1="43.5" x2="269.8" y2="43.5" stroke="#444" stroke-width="0.7"/>
<line x1="267.7" y1="35.9" x2="269.8" y2="35.9" stroke="#444" stroke-width="0.7"/>
<line x1="267.7" y1="28.3" x2="269.8" y2="28.3" stroke="#444" stroke-width="0.7"/>
<line x1="267.7" y1="20.7" x2="269.8" y2="20.7" stroke="#444" stroke-width="0.7"/>
<line x1="274" y1="91" x2="274" y2="92.9" stroke="#777" stroke-width="0.6"/>
<line x1="282.8" y1="91" x2="282.8" y2="92.9" stroke="#777" stroke-width="0.6"/>
<line x1="291.6" y1="91" x2="291.6" y2="92.9" stroke="#777" stroke-width="0.6"/>
<line x1="300.4" y1="91" x2="300.4" y2="92.9" stroke="#777" stroke-width="0.6"/>
<line x1="309.2" y1="91" x2="309.2" y2="92.9" stroke="#777" stroke-width="0.6"/>
<line x1="318" y1="91" x2="318" y2="92.9" stroke="#777" stroke-width="0.6"/>
<line x1="326.8" y1="91" x2="326.8" y2="92.9" stroke="#777" stroke-width="0.6"/>
<line x1="335.6" y1="91" x2="335.6" y2="92.9" stroke="#777" stroke-width="0.6"/>
<line x1="276" y1="92.5" x2="282.5" y2="92.5" stroke="#222" stroke-width="1.5"/>
<g fill="#222"><circle cx="284.59" cy="56.41" r="0.45"/><circle cx="276.2" cy="66.82" r="0.45"/><circle cx="277.96" cy="58.66" r="0.45"/><circle cx="279.96" cy="54.64" r="0.45"/><circle cx="281.14" cy="51.81" r="0.45"/><circle cx="275.57" cy="51.31" r="0.45"/><circle cx="279.92" cy="57.41" r="0.45"/><circle cx="281.95" cy="57.9" r="0.45"/><circle cx="277.22" cy="51.68" r="0.45"/><circle cx="281.7" cy="60.97" r="0.45"/><circle cx="279.58" cy="55.69" r="0.45"/><circle cx="283.28" cy="57.12" r="0.45"/><circle cx="282.58" cy="61.37" r="0.45"/><circle cx="280.75" cy="66.8" r="0.45"/><circle cx="278" cy="54.31" r="0.45"/><circle cx="277.17" cy="51.02" r="0.45"/><circle cx="285.45" cy="70.19" r="0.45"/><circle cx="280.08" cy="61.26" r="0.45"/><circle cx="284.11" cy="63.06" r="0.45"/><circle cx="284.22" cy="47.53" r="0.45"/><circle cx="277.76" cy="60.39" r="0.45"/><circle cx="285.02" cy="57.78" r="0.45"/><circle cx="277" cy="54.34" r="0.45"/><circle cx="277.69" cy="50.56" r="0.45"/><circle cx="285.25" cy="52.31" r="0.45"/><circle cx="284.15" cy="59.52" r="0.45"/><circle cx="277.86" cy="60.08" r="0.45"/><circle cx="285.68" cy="61.67" r="0.45"/><circle cx="284.42" cy="57.74" r="0.45"/><circle cx="281.81" cy="55.49" r="0.45"/><circle cx="281.49" cy="66.75" r="0.45"/><circle cx="274.99" cy="56.53" r="0.45"/><circle cx="280.84" cy="52.72" r="0.45"/><circle cx="278.92" cy="62.9" r="0.45"/><circle cx="286.75" cy="57.58" r="0.45"/><circle cx="279.88" cy="48.61" r="0.45"/><circle cx="279.8" cy="48.78" r="0.45"/><circle cx="280.25" cy="60.5" r="0.45"/><circle cx="280.11" cy="59.1" r="0.45"/><circle cx="277.02" cy="67.72" r="0.45"/><circle cx="279.34" cy="51.27" r="0.45"/><circle cx="276.47" cy="54.34" r="0.45"/><circle cx="281.02" cy="48.14" r="0.45"/><circle cx="279.52" cy="67.7" r="0.45"/><circle cx="282.39" cy="55.86" r="0.45"/><circle cx="280.45" cy="56.1" r="0.45"/><circle cx="279.83" cy="62.49" r="0.45"/><circle cx="279.92" cy="50.33" r="0.45"/><circle cx="282.28" cy="52.42" r="0.45"/><circle cx="276.34" cy="48.57" r="0.45"/><circle cx="273.43" cy="59.73" r="0.45"/><circle cx="274.81" cy="61.63" r="0.45"/><circle cx="277.29" cy="54.25" r="0.45"/><circle cx="281.16" cy="67.17" r="0.45"/><circle cx="286.79" cy="64.74" r="0.45"/><circle cx="280.5" cy="58.38" r="0.45"/><circle cx="286.31" cy="67.71" r="0.45"/><circle cx="278.91" cy="60.43" r="0.45"/><circle cx="281" cy="57.39" r="0.45"/><circle cx="278.25" cy="47.05" r="0.45"/><circle cx="284.28" cy="61.02" r="0.45"/><circle cx="275.78" cy="67.47" r="0.45"/><circle cx="286.44" cy="63.07" r="0.45"/><circle cx="281.86" cy="60.17" r="0.45"/><circle cx="280.71" cy="58.28" r="0.45"/><circle cx="275.65" cy="46.54" r="0.45"/><circle cx="278.05" cy="52.46" r="0.45"/><circle cx="281.29" cy="59" r="0.45"/><circle cx="280.11" cy="51.93" r="0.45"/><circle cx="278.45" cy="64.14" r="0.45"/><circle cx="282.67" cy="57.76" r="0.45"/><circle cx="278.87" cy="68.65" r="0.45"/><circle cx="277.92" cy="61.86" r="0.45"/><circle cx="284.04" cy="55.01" r="0.45"/><circle cx="282.89" cy="48.63" r="0.45"/><circle cx="283.54" cy="58.5" r="0.45"/><circle cx="274.45" cy="62.02" r="0.45"/><circle cx="276.88" cy="66.61" r="0.45"/><circle cx="277.62" cy="55.76" r="0.45"/><circle cx="280.99" cy="54.51" r="0.45"/><circle cx="280.91" cy="52.85" r="0.45"/><circle cx="282.35" cy="57.04" r="0.45"/><circle cx="284.06" cy="57.24" r="0.45"/><circle cx="273.76" cy="57.72" r="0.45"/><circle cx="281.64" cy="65.03" r="0.45"/><circle cx="276.21" cy="68.6" r="0.45"/><circle cx="279.49" cy="62.1" r="0.45"/><circle cx="278.72" cy="48.63" r="0.45"/><circle cx="283.84" cy="63.8" r="0.45"/><circle cx="285.38" cy="63.43" r="0.45"/><circle cx="277.72" cy="51.94" r="0.45"/><circle cx="277.15" cy="61.37" r="0.45"/><circle cx="281.15" cy="54.98" r="0.45"/><circle cx="280.6" cy="55.91" r="0.45"/><circle cx="280.74" cy="62.64" r="0.45"/></g>
<g fill="#222"><circle cx="312.8" cy="53.86" r="0.45"/><circle cx="300.47" cy="69.71" r="0.45"/><circle cx="308.57" cy="67.29" r="0.45"/><circle cx="299.78" cy="56.53" r="0.45"/><circle cx="308.14" cy="48.19" r="0.45"/><circle cx="305.42" cy="64.43" r="0.45"/><circle cx="303.68" cy="48.49" r="0.45"/><circle cx="310.6" cy="66.05" r="0.45"/><circle cx="308.97" cy="49.24" r="0.45"/><circle cx="311.91" cy="64.94" r="0.45"/><circle cx="310.77" cy="55.35" r="0.45"/><circle cx="309.52" cy="64.93" r="0.45"/><circle cx="305.21" cy="45.17" r="0.45"/><circle cx="309.64" cy="62.61" r="0.45"/><circle cx="308.07" cy="65.67" r="0.45"/><circle cx="305.07" cy="58.38" r="0.45"/><circle cx="306.47" cy="63.29" r="0.45"/><circle cx="315.98" cy="57.12" r="0.45"/><circle cx="311.95" cy="63.4" r="0.45"/><circle cx="316.85" cy="57.65" r="0.45"/><circle cx="307.44" cy="51.03" r="0.45"/><circle cx="310.36" cy="69.09" r="0.45"/><circle cx="310.66" cy="62.17" r="0.45"/><circle cx="307" cy="60.27" r="0.45"/><circle cx="300.87" cy="66.87" r="0.45"/><circle cx="305.95" cy="50.72" r="0.45"/><circle cx="304.24" cy="52.82" r="0.45"/><circle cx="312.28" cy="66.94" r="0.45"/><circle cx="301.21" cy="65.95" r="0.45"/><circle cx="312.44" cy="54.65" r="0.45"/><circle cx="300.57" cy="53.41" r="0.45"/><circle cx="304.83" cy="61.57" r="0.45"/><circle cx="309.17" cy="47.49" r="0.45"/><circle cx="312.53" cy="49.95" r="0.45"/><circle cx="304.54" cy="52.59" r="0.45"/><circle cx="305.29" cy="68.74" r="0.45"/><circle cx="312.26" cy="63.51" r="0.45"/><circle cx="309.6" cy="47.39" r="0.45"/><circle cx="305.4" cy="54.86" r="0.45"/><circle cx="303.11" cy="62.82" r="0.45"/><circle cx="304.29" cy="53.68" r="0.45"/><circle cx="310.98" cy="68.98" r="0.45"/><circle cx="308.87" cy="51.68" r="0.45"/><circle cx="314.08" cy="61.23" r="0.45"/><circle cx="312.64" cy="70.09" r="0.45"/><circle cx="313.63" cy="55.69" r="0.45"/><circle cx="313.26" cy="64.82" r="0.45"/><circle cx="300.31" cy="55.96" r="0.45"/><circle cx="300.88" cy="58.18" r="0.45"/><circle cx="310.89" cy="50.99" r="0.45"/><circle cx="309.88" cy="70.03" r="0.45"/><circle cx="301.38" cy="66.95" r="0.45"/><circle cx="306.95" cy="61.02" r="0.45"/><circle cx="307.23" cy="66.49" r="0.45"/><circle cx="313.19" cy="59.65" r="0.45"/><circle cx="301.2" cy="64.56" r="0.45"/><circle cx="305.65" cy="63.72" r="0.45"/><circle cx="313.69" cy="55.62" r="0.45"/><circle cx="305.31" cy="62.25" r="0.45"/><circle cx="313.95" cy="68.43" r="0.45"/><circle cx="310.59" cy="49.1" r="0.45"/><circle cx="301.7" cy="60.86" r="0.45"/><circle cx="303.69" cy="67.53" r="0.45"/><circle cx="311.85" cy="46.46" r="0.45"/><circle cx="303.91" cy="60.25" r="0.45"/><circle cx="305.53" cy="57.84" r="0.45"/><circle cx="310.35" cy="52.93" r="0.45"/><circle cx="310.33" cy="54.23" r="0.45"/><circle cx="305.28" cy="63.03" r="0.45"/><circle cx="305.13" cy="61.15" r="0.45"/><circle cx="316" cy="59.2" r="0.45"/><circle cx="307.27" cy="64.51" r="0.45"/><circle cx="306.17" cy="67.12" r="0.45"/><circle cx="301.59" cy="63.64" r="0.45"/><circle cx="305.44" cy="53.01" r="0.45"/><circle cx="316.85" cy="52.62" r="0.45"/><circle cx="316.78" cy="63.94" r="0.45"/><circle cx="315.27" cy="51.67" r="0.45"/><circle cx="313.99" cy="69.93" r="0.45"/><circle cx="307.42" cy="58.03" r="0.45"/><circle cx="305.89" cy="54.28" r="0.45"/><circle cx="310.23" cy="61.48" r="0.45"/><circle cx="306.36" cy="62.55" r="0.45"/><circle cx="315.3" cy="51.47" r="0.45"/><circle cx="301.23" cy="50.77" r="0.45"/><circle cx="302.81" cy="45.15" r="0.45"/><circle cx="310.26" cy="45.08" r="0.45"/><circle cx="310.49" cy="69.9" r="0.45"/><circle cx="299.92" cy="56.63" r="0.45"/><circle cx="298.41" cy="64.84" r="0.45"/><circle cx="304.31" cy="57.01" r="0.45"/><circle cx="308.27" cy="63.09" r="0.45"/><circle cx="306.27" cy="59.11" r="0.45"/><circle cx="305.27" cy="59.86" r="0.45"/><circle cx="302.14" cy="59.48" r="0.45"/></g>
<g fill="#222"><circle cx="276.16" cy="54.73" r="0.45"/><circle cx="281.53" cy="49.58" r="0.45"/><circle cx="278.23" cy="48.75" r="0.45"/><circle cx="276.7" cy="61.34" r="0.45"/><circle cx="277.31" cy="50.06" r="0.45"/><circle cx="276.44" cy="50.01" r="0.45"/><circle cx="278.66" cy="64.79" r="0.45"/><circle cx="276.12" cy="57.77" r="0.45"/><circle cx="278.88" cy="47.79" r="0.45"/><circle cx="282.2" cy="50.63" r="0.45"/><circle cx="276.1" cy="55.15" r="0.45"/><circle cx="275.77" cy="60.92" r="0.45"/><circle cx="281.6" cy="50.11" r="0.45"/><circle cx="276.31" cy="62.11" r="0.45"/><circle cx="276.72" cy="56.5" r="0.45"/><circle cx="280.83" cy="48.77" r="0.45"/><circle cx="278.18" cy="65.13" r="0.45"/><circle cx="281.63" cy="48.45" r="0.45"/><circle cx="282.86" cy="51.02" r="0.45"/><circle cx="279.08" cy="65.57" r="0.45"/><circle cx="282.95" cy="52.18" r="0.45"/><circle cx="281.55" cy="47.83" r="0.45"/><circle cx="276.49" cy="50.31" r="0.45"/><circle cx="276.57" cy="51.5" r="0.45"/><circle cx="277.19" cy="49.46" r="0.45"/><circle cx="283.27" cy="62.5" r="0.45"/><circle cx="281.24" cy="47.66" r="0.45"/><circle cx="277.67" cy="62.66" r="0.45"/><circle cx="276.28" cy="54.08" r="0.45"/><circle cx="276.25" cy="61.83" r="0.45"/><circle cx="277.64" cy="49.92" r="0.45"/><circle cx="276.6" cy="53.37" r="0.45"/><circle cx="280.48" cy="48.03" r="0.45"/><circle cx="276.72" cy="60.02" r="0.45"/></g>
<ellipse cx="280" cy="57" rx="3.8" ry="8.8" fill="none" stroke="#999" stroke-width="0.4"/>
<g fill="#222"><circle cx="312.75" cy="58.45" r="0.45"/><circle cx="310.17" cy="58.78" r="0.45"/><circle cx="311.98" cy="60.15" r="0.45"/><circle cx="308.36" cy="70.04" r="0.45"/><circle cx="308.03" cy="66.07" r="0.45"/><circle cx="313.42" cy="65.9" r="0.45"/><circle cx="312.55" cy="62.31" r="0.45"/><circle cx="308.93" cy="64.26" r="0.45"/><circle cx="312.96" cy="60.44" r="0.45"/><circle cx="307.16" cy="66.78" r="0.45"/><circle cx="310.58" cy="58.5" r="0.45"/><circle cx="313.57" cy="69.17" r="0.45"/><circle cx="307.06" cy="69.15" r="0.45"/><circle cx="307.39" cy="68.53" r="0.45"/><circle cx="308.37" cy="64.09" r="0.45"/><circle cx="307.21" cy="68.94" r="0.45"/><circle cx="309.9" cy="58.52" r="0.45"/><circle cx="312.54" cy="64.12" r="0.45"/><circle cx="311.36" cy="59.87" r="0.45"/><circle cx="313.77" cy="62.78" r="0.45"/><circle cx="311.18" cy="59.07" r="0.45"/><circle cx="313.32" cy="68.54" r="0.45"/><circle cx="308.01" cy="59.21" r="0.45"/><circle cx="312.84" cy="64.23" r="0.45"/><circle cx="310.3" cy="58.52" r="0.45"/><circle cx="311.39" cy="59.8" r="0.45"/><circle cx="313.06" cy="63.81" r="0.45"/><circle cx="307.98" cy="62.15" r="0.45"/><circle cx="313.22" cy="63.93" r="0.45"/><circle cx="313.58" cy="63.48" r="0.45"/></g>
<path d="M308.4 70.6 L308.4 62 Q310.6 55 312.8 62 L312.8 70.6" fill="none" stroke="#999" stroke-width="0.5"/>
<ellipse cx="278.2" cy="78.6" rx="8.6" ry="7.6" fill="url(#gL)"/>
<ellipse cx="278.2" cy="78.6" rx="7.31" ry="6.46" fill="none" stroke="#bbb" stroke-width="0.5"/>
<ellipse cx="278.2" cy="78.6" rx="5.59" ry="4.94" fill="none" stroke="#999" stroke-width="0.5"/>
<ellipse cx="278.2" cy="78.6" rx="3.87" ry="3.42" fill="none" stroke="#444" stroke-width="0.9"/>
<ellipse cx="278.2" cy="78.6" rx="2.15" ry="1.9" fill="none" stroke="#666" stroke-width="0.5"/>
<circle cx="278.2" cy="78.6" r="0.9" fill="#f4f4f4"/>
<ellipse cx="311.5" cy="78.8" rx="9.8" ry="7.4" fill="url(#gL2)"/>
<ellipse cx="311.5" cy="78.8" rx="8.33" ry="6.29" fill="none" stroke="#bbb" stroke-width="0.5"/>
<ellipse cx="311.5" cy="78.8" rx="6.37" ry="4.81" fill="none" stroke="#999" stroke-width="0.5"/>
<ellipse cx="311.5" cy="78.8" rx="4.41" ry="3.33" fill="none" stroke="#777" stroke-width="0.9"/>
<ellipse cx="311.5" cy="78.8" rx="2.45" ry="1.85" fill="none" stroke="#666" stroke-width="0.5"/>
<circle cx="311.5" cy="78.8" r="0.9" fill="#f4f4f4"/>
<g fill="#444"><circle cx="291.52" cy="77.63" r="0.42"/><circle cx="298.71" cy="74.85" r="0.42"/><circle cx="290.86" cy="73.43" r="0.42"/><circle cx="293.44" cy="79.36" r="0.42"/><circle cx="287.66" cy="77.02" r="0.42"/><circle cx="296.44" cy="82.46" r="0.42"/><circle cx="297.06" cy="77.74" r="0.42"/><circle cx="289.69" cy="76.16" r="0.42"/><circle cx="291.74" cy="78.87" r="0.42"/><circle cx="294.2" cy="82.67" r="0.42"/><circle cx="295.55" cy="75.82" r="0.42"/><circle cx="300.58" cy="80.87" r="0.42"/><circle cx="294.8" cy="76.7" r="0.42"/><circle cx="286.92" cy="75.94" r="0.42"/><circle cx="298.05" cy="76.49" r="0.42"/><circle cx="289.12" cy="78.99" r="0.42"/></g>
<line x1="269" y1="70.5" x2="339.4" y2="70.5" stroke="#777" stroke-width="1"/>
<line x1="294.5" y1="19.8" x2="294.5" y2="93.1" stroke="#777" stroke-width="1"/>
<text x="270.6" y="29.1" font-size="8.6" fill="#222" text-anchor="start" stroke="#222" stroke-width="0.02" textLength="10.2" lengthAdjust="spacingAndGlyphs" >5.9</text>
<text x="337.8" y="29.1" font-size="8.6" fill="#222" text-anchor="end" stroke="#222" stroke-width="0.02" textLength="10.2" lengthAdjust="spacingAndGlyphs" >6.7</text>
<text x="270" y="88" font-size="8.6" fill="#222" text-anchor="start" textLength="17.6" lengthAdjust="spacingAndGlyphs" stroke="#fff" stroke-width="1.2" paint-order="stroke" stroke-opacity="0.8">57.70</text>
<text x="336.2" y="88" font-size="8.6" fill="#222" text-anchor="end" stroke="#222" stroke-width="0.02" textLength="13.9" lengthAdjust="spacingAndGlyphs" >29.8</text>
<rect x="341.1" y="19.8" width="70.9" height="71.8" fill="none" stroke="#cfcfcf" stroke-width="0.8"/>
<line x1="339.8" y1="89.1" x2="341.9" y2="89.1" stroke="#444" stroke-width="0.7"/>
<line x1="339.8" y1="81.5" x2="341.9" y2="81.5" stroke="#444" stroke-width="0.7"/>
<line x1="339.8" y1="73.9" x2="341.9" y2="73.9" stroke="#444" stroke-width="0.7"/>
<line x1="339.8" y1="66.3" x2="341.9" y2="66.3" stroke="#444" stroke-width="0.7"/>
<line x1="339.8" y1="58.7" x2="341.9" y2="58.7" stroke="#444" stroke-width="0.7"/>
<line x1="339.8" y1="51.1" x2="341.9" y2="51.1" stroke="#444" stroke-width="0.7"/>
<line x1="339.8" y1="43.5" x2="341.9" y2="43.5" stroke="#444" stroke-width="0.7"/>
<line x1="339.8" y1="35.9" x2="341.9" y2="35.9" stroke="#444" stroke-width="0.7"/>
<line x1="339.8" y1="28.3" x2="341.9" y2="28.3" stroke="#444" stroke-width="0.7"/>
<line x1="339.8" y1="20.7" x2="341.9" y2="20.7" stroke="#444" stroke-width="0.7"/>
<line x1="346.1" y1="91" x2="346.1" y2="92.9" stroke="#777" stroke-width="0.6"/>
<line x1="354.9" y1="91" x2="354.9" y2="92.9" stroke="#777" stroke-width="0.6"/>
<line x1="363.7" y1="91" x2="363.7" y2="92.9" stroke="#777" stroke-width="0.6"/>
<line x1="372.5" y1="91" x2="372.5" y2="92.9" stroke="#777" stroke-width="0.6"/>
<line x1="381.3" y1="91" x2="381.3" y2="92.9" stroke="#777" stroke-width="0.6"/>
<line x1="390.1" y1="91" x2="390.1" y2="92.9" stroke="#777" stroke-width="0.6"/>
<line x1="398.9" y1="91" x2="398.9" y2="92.9" stroke="#777" stroke-width="0.6"/>
<line x1="407.7" y1="91" x2="407.7" y2="92.9" stroke="#777" stroke-width="0.6"/>
<line x1="348.1" y1="92.5" x2="354.6" y2="92.5" stroke="#222" stroke-width="1.5"/>
<g fill="#222"><circle cx="353.68" cy="61.55" r="0.45"/><circle cx="355" cy="67.57" r="0.45"/><circle cx="350.21" cy="64.34" r="0.45"/><circle cx="349.74" cy="62.2" r="0.45"/><circle cx="353.47" cy="58.82" r="0.45"/><circle cx="356" cy="56.87" r="0.45"/><circle cx="356.46" cy="63.57" r="0.45"/><circle cx="353.33" cy="52.75" r="0.45"/><circle cx="350.49" cy="53.04" r="0.45"/><circle cx="352.25" cy="56.81" r="0.45"/><circle cx="355.36" cy="50.55" r="0.45"/><circle cx="350.63" cy="54.61" r="0.45"/><circle cx="353.51" cy="49.23" r="0.45"/><circle cx="358.06" cy="52.78" r="0.45"/><circle cx="352.88" cy="59.08" r="0.45"/><circle cx="353.51" cy="61.51" r="0.45"/><circle cx="353.8" cy="58.22" r="0.45"/><circle cx="346.84" cy="51.65" r="0.45"/><circle cx="353.88" cy="55.54" r="0.45"/><circle cx="350.27" cy="52.64" r="0.45"/><circle cx="358.81" cy="69.98" r="0.45"/><circle cx="352.71" cy="66.66" r="0.45"/><circle cx="351.35" cy="50.44" r="0.45"/><circle cx="351.11" cy="58.41" r="0.45"/><circle cx="353.06" cy="59.07" r="0.45"/><circle cx="352.79" cy="63.98" r="0.45"/><circle cx="358.58" cy="47.67" r="0.45"/><circle cx="353.42" cy="55.01" r="0.45"/><circle cx="354.58" cy="58.44" r="0.45"/><circle cx="351.7" cy="51.34" r="0.45"/><circle cx="348.38" cy="50.13" r="0.45"/><circle cx="355.13" cy="61.08" r="0.45"/><circle cx="352.83" cy="60.86" r="0.45"/><circle cx="350.97" cy="57.53" r="0.45"/><circle cx="353.03" cy="61.16" r="0.45"/><circle cx="352.68" cy="55.93" r="0.45"/><circle cx="352.47" cy="52.16" r="0.45"/><circle cx="355.13" cy="63.28" r="0.45"/><circle cx="358.93" cy="66.87" r="0.45"/><circle cx="355.37" cy="48.17" r="0.45"/><circle cx="350.11" cy="59.02" r="0.45"/><circle cx="354.52" cy="49.34" r="0.45"/><circle cx="351.67" cy="54" r="0.45"/><circle cx="353.09" cy="59.52" r="0.45"/><circle cx="351.98" cy="47.72" r="0.45"/><circle cx="356.88" cy="68.97" r="0.45"/><circle cx="352.56" cy="64.69" r="0.45"/><circle cx="354.32" cy="61.95" r="0.45"/><circle cx="354.44" cy="51.28" r="0.45"/><circle cx="354.74" cy="64.58" r="0.45"/><circle cx="359.27" cy="62.57" r="0.45"/><circle cx="351.82" cy="52.5" r="0.45"/><circle cx="350.3" cy="57.87" r="0.45"/><circle cx="352.79" cy="62.03" r="0.45"/><circle cx="355.06" cy="60.57" r="0.45"/><circle cx="353.78" cy="55.43" r="0.45"/><circle cx="352.51" cy="50.82" r="0.45"/><circle cx="353.47" cy="56.82" r="0.45"/><circle cx="353.92" cy="50.59" r="0.45"/><circle cx="353.03" cy="57.36" r="0.45"/><circle cx="354.83" cy="49.03" r="0.45"/><circle cx="354.24" cy="64.37" r="0.45"/><circle cx="354.81" cy="54.24" r="0.45"/><circle cx="351.33" cy="55.23" r="0.45"/><circle cx="355.23" cy="68.65" r="0.45"/><circle cx="352.39" cy="52.18" r="0.45"/><circle cx="354.1" cy="58.53" r="0.45"/><circle cx="349.99" cy="51.47" r="0.45"/><circle cx="352.57" cy="62.04" r="0.45"/><circle cx="349.08" cy="49.36" r="0.45"/><circle cx="354.5" cy="47.81" r="0.45"/><circle cx="353.25" cy="59.64" r="0.45"/><circle cx="352.54" cy="49.36" r="0.45"/><circle cx="352.71" cy="54.51" r="0.45"/><circle cx="353.98" cy="50.71" r="0.45"/><circle cx="352.34" cy="57.06" r="0.45"/><circle cx="355.98" cy="52.44" r="0.45"/><circle cx="354.65" cy="52.75" r="0.45"/><circle cx="355.26" cy="70.03" r="0.45"/><circle cx="351.62" cy="60.32" r="0.45"/><circle cx="349.93" cy="64.3" r="0.45"/><circle cx="356.77" cy="57.26" r="0.45"/><circle cx="349.27" cy="60.02" r="0.45"/><circle cx="356.58" cy="65.17" r="0.45"/><circle cx="350.72" cy="67.66" r="0.45"/><circle cx="348.98" cy="65.49" r="0.45"/><circle cx="358.92" cy="62.71" r="0.45"/><circle cx="356.48" cy="54.5" r="0.45"/><circle cx="348.98" cy="56.23" r="0.45"/><circle cx="352.26" cy="56.64" r="0.45"/><circle cx="355.13" cy="55.92" r="0.45"/><circle cx="353.51" cy="60.18" r="0.45"/><circle cx="354.32" cy="57.63" r="0.45"/><circle cx="352.24" cy="52.31" r="0.45"/><circle cx="357.2" cy="58.13" r="0.45"/></g>
<g fill="#222"><circle cx="375.15" cy="54.78" r="0.45"/><circle cx="379.39" cy="55.66" r="0.45"/><circle cx="384.88" cy="50.29" r="0.45"/><circle cx="382.21" cy="60.08" r="0.45"/><circle cx="374.7" cy="59.36" r="0.45"/><circle cx="379.58" cy="62.76" r="0.45"/><circle cx="377.97" cy="61.27" r="0.45"/><circle cx="372.51" cy="50.87" r="0.45"/><circle cx="383.53" cy="66.81" r="0.45"/><circle cx="379.94" cy="54.51" r="0.45"/><circle cx="376.4" cy="64.04" r="0.45"/><circle cx="382.94" cy="51.26" r="0.45"/><circle cx="371.51" cy="69.89" r="0.45"/><circle cx="380.69" cy="52.28" r="0.45"/><circle cx="380.25" cy="65.76" r="0.45"/><circle cx="385.13" cy="61.99" r="0.45"/><circle cx="380.02" cy="66.85" r="0.45"/><circle cx="377.12" cy="53.71" r="0.45"/><circle cx="378.33" cy="58.45" r="0.45"/><circle cx="375.13" cy="62.63" r="0.45"/><circle cx="382.44" cy="59.54" r="0.45"/><circle cx="387.65" cy="56.54" r="0.45"/><circle cx="385.88" cy="54.9" r="0.45"/><circle cx="380.89" cy="57.68" r="0.45"/><circle cx="377.77" cy="54.42" r="0.45"/><circle cx="378.44" cy="53.6" r="0.45"/><circle cx="377.53" cy="55.07" r="0.45"/><circle cx="375.24" cy="57.98" r="0.45"/><circle cx="383.53" cy="57.12" r="0.45"/><circle cx="377.78" cy="69.18" r="0.45"/><circle cx="384.4" cy="65.91" r="0.45"/><circle cx="385.2" cy="56.55" r="0.45"/><circle cx="379.42" cy="67.35" r="0.45"/><circle cx="377.51" cy="58.1" r="0.45"/><circle cx="381.7" cy="61.8" r="0.45"/><circle cx="378.76" cy="66.38" r="0.45"/><circle cx="379.2" cy="64.44" r="0.45"/><circle cx="384.82" cy="63.94" r="0.45"/><circle cx="383.3" cy="50.3" r="0.45"/><circle cx="374.1" cy="54.36" r="0.45"/><circle cx="382.14" cy="70.26" r="0.45"/><circle cx="374.5" cy="61.3" r="0.45"/><circle cx="376.16" cy="53.51" r="0.45"/><circle cx="378.76" cy="64.19" r="0.45"/><circle cx="380.96" cy="67.85" r="0.45"/><circle cx="375.56" cy="65.67" r="0.45"/><circle cx="384.19" cy="59.52" r="0.45"/><circle cx="382.15" cy="54.78" r="0.45"/><circle cx="375.1" cy="55.96" r="0.45"/><circle cx="380.91" cy="61.34" r="0.45"/><circle cx="383.35" cy="53.16" r="0.45"/><circle cx="384.12" cy="61.82" r="0.45"/><circle cx="373.18" cy="63.51" r="0.45"/><circle cx="382.49" cy="62.4" r="0.45"/><circle cx="387.13" cy="55.89" r="0.45"/><circle cx="382.3" cy="64.61" r="0.45"/><circle cx="375.95" cy="68" r="0.45"/><circle cx="373.47" cy="49.25" r="0.45"/><circle cx="382.35" cy="50.83" r="0.45"/><circle cx="380.31" cy="50.5" r="0.45"/><circle cx="381.54" cy="47.51" r="0.45"/><circle cx="382.02" cy="57" r="0.45"/><circle cx="380.29" cy="58.49" r="0.45"/><circle cx="380.59" cy="49.09" r="0.45"/><circle cx="375.79" cy="55.59" r="0.45"/><circle cx="376.57" cy="54.42" r="0.45"/><circle cx="375.24" cy="61.45" r="0.45"/><circle cx="379.37" cy="52.84" r="0.45"/><circle cx="375.57" cy="65.05" r="0.45"/><circle cx="377.03" cy="63.39" r="0.45"/><circle cx="375.12" cy="59.02" r="0.45"/><circle cx="381.54" cy="64.85" r="0.45"/><circle cx="383.61" cy="66.76" r="0.45"/><circle cx="378.32" cy="57.42" r="0.45"/><circle cx="383.49" cy="55.81" r="0.45"/><circle cx="384.76" cy="47.08" r="0.45"/><circle cx="382.94" cy="57.7" r="0.45"/><circle cx="371.15" cy="66.35" r="0.45"/><circle cx="381.4" cy="59.16" r="0.45"/><circle cx="375.16" cy="55.51" r="0.45"/><circle cx="386.8" cy="52.8" r="0.45"/><circle cx="374.6" cy="58.01" r="0.45"/><circle cx="378.23" cy="52.16" r="0.45"/><circle cx="376.21" cy="66.86" r="0.45"/><circle cx="377.55" cy="50.8" r="0.45"/><circle cx="383.54" cy="63.23" r="0.45"/><circle cx="375.31" cy="64.62" r="0.45"/><circle cx="371.72" cy="52.07" r="0.45"/><circle cx="385.07" cy="57.08" r="0.45"/><circle cx="374.14" cy="62.85" r="0.45"/><circle cx="384.13" cy="58.83" r="0.45"/><circle cx="371.87" cy="56.4" r="0.45"/><circle cx="381.88" cy="64.77" r="0.45"/><circle cx="388.34" cy="57.1" r="0.45"/><circle cx="377.83" cy="58.71" r="0.45"/></g>
<g fill="#222"><circle cx="355.71" cy="50.43" r="0.45"/><circle cx="357.29" cy="56.04" r="0.45"/><circle cx="354.97" cy="65.18" r="0.45"/><circle cx="349.02" cy="57.08" r="0.45"/><circle cx="349.79" cy="50.1" r="0.45"/><circle cx="356.8" cy="56.51" r="0.45"/><circle cx="349.6" cy="61.26" r="0.45"/><circle cx="351.87" cy="48.63" r="0.45"/><circle cx="354.45" cy="49.01" r="0.45"/><circle cx="353.58" cy="65.51" r="0.45"/><circle cx="352.13" cy="65.37" r="0.45"/><circle cx="356.44" cy="56.56" r="0.45"/><circle cx="356.26" cy="64.07" r="0.45"/><circle cx="356.28" cy="62.81" r="0.45"/><circle cx="349.25" cy="54.99" r="0.45"/><circle cx="354.37" cy="48.6" r="0.45"/><circle cx="353.07" cy="48.93" r="0.45"/><circle cx="350.66" cy="64.56" r="0.45"/><circle cx="356.69" cy="61.81" r="0.45"/><circle cx="350.1" cy="64.5" r="0.45"/><circle cx="357.18" cy="59.53" r="0.45"/><circle cx="356.13" cy="55.05" r="0.45"/><circle cx="354.03" cy="66.38" r="0.45"/><circle cx="354.92" cy="51.06" r="0.45"/><circle cx="354.28" cy="49.53" r="0.45"/><circle cx="355.55" cy="54.8" r="0.45"/><circle cx="352.46" cy="66.6" r="0.45"/><circle cx="353.24" cy="67" r="0.45"/><circle cx="349.02" cy="57.45" r="0.45"/><circle cx="354.55" cy="65.28" r="0.45"/><circle cx="356.67" cy="56.15" r="0.45"/><circle cx="355.42" cy="62.82" r="0.45"/><circle cx="349.85" cy="62.27" r="0.45"/><circle cx="354.51" cy="49.36" r="0.45"/></g>
<ellipse cx="352.9" cy="57" rx="3.8" ry="8.8" fill="none" stroke="#999" stroke-width="0.4"/>
<g fill="#222"><circle cx="380.05" cy="64.25" r="0.45"/><circle cx="379.38" cy="68.82" r="0.45"/><circle cx="379.89" cy="64.7" r="0.45"/><circle cx="380.75" cy="61.34" r="0.45"/><circle cx="382.54" cy="57.86" r="0.45"/><circle cx="379.49" cy="65.61" r="0.45"/><circle cx="381.8" cy="59.38" r="0.45"/><circle cx="385.21" cy="68.74" r="0.45"/><circle cx="382.69" cy="59.42" r="0.45"/><circle cx="381.09" cy="61.36" r="0.45"/><circle cx="381.41" cy="60.44" r="0.45"/><circle cx="380.42" cy="62.95" r="0.45"/><circle cx="382.34" cy="58.48" r="0.45"/><circle cx="384.31" cy="63.3" r="0.45"/><circle cx="383.05" cy="59.42" r="0.45"/><circle cx="380.14" cy="68.45" r="0.45"/><circle cx="380.88" cy="60.2" r="0.45"/><circle cx="382.8" cy="59.37" r="0.45"/><circle cx="381.21" cy="61.17" r="0.45"/><circle cx="380.89" cy="63.44" r="0.45"/><circle cx="379.81" cy="62.05" r="0.45"/><circle cx="385.62" cy="62.01" r="0.45"/><circle cx="379.83" cy="65.9" r="0.45"/><circle cx="383.96" cy="59.98" r="0.45"/><circle cx="381.37" cy="58.27" r="0.45"/><circle cx="380.73" cy="61.7" r="0.45"/><circle cx="383.88" cy="59.84" r="0.45"/><circle cx="385.41" cy="66.41" r="0.45"/><circle cx="379.91" cy="69.17" r="0.45"/><circle cx="380" cy="64.16" r="0.45"/></g>
<path d="M380.4 70.6 L380.4 62 Q382.6 55 384.8 62 L384.8 70.6" fill="none" stroke="#999" stroke-width="0.5"/>
<ellipse cx="351.5" cy="79.1" rx="9.2" ry="7.8" fill="url(#gL)"/>
<ellipse cx="351.5" cy="79.1" rx="7.82" ry="6.63" fill="none" stroke="#bbb" stroke-width="0.5"/>
<ellipse cx="351.5" cy="79.1" rx="5.98" ry="5.07" fill="none" stroke="#999" stroke-width="0.5"/>
<ellipse cx="351.5" cy="79.1" rx="4.14" ry="3.51" fill="none" stroke="#444" stroke-width="0.9"/>
<ellipse cx="351.5" cy="79.1" rx="2.3" ry="1.95" fill="none" stroke="#666" stroke-width="0.5"/>
<circle cx="351.5" cy="79.1" r="0.9" fill="#f4f4f4"/>
<ellipse cx="385" cy="79.6" rx="10" ry="7.6" fill="url(#gL2)"/>
<ellipse cx="385" cy="79.6" rx="8.5" ry="6.46" fill="none" stroke="#bbb" stroke-width="0.5"/>
<ellipse cx="385" cy="79.6" rx="6.5" ry="4.94" fill="none" stroke="#999" stroke-width="0.5"/>
<ellipse cx="385" cy="79.6" rx="4.5" ry="3.42" fill="none" stroke="#777" stroke-width="0.9"/>
<ellipse cx="385" cy="79.6" rx="2.5" ry="1.9" fill="none" stroke="#666" stroke-width="0.5"/>
<circle cx="385" cy="79.6" r="0.9" fill="#f4f4f4"/>
<g fill="#444"><circle cx="370.95" cy="79.03" r="0.42"/><circle cx="365.97" cy="77.3" r="0.42"/><circle cx="370.37" cy="75.75" r="0.42"/><circle cx="366.96" cy="76.63" r="0.42"/><circle cx="362.03" cy="80.01" r="0.42"/><circle cx="367.5" cy="78.59" r="0.42"/><circle cx="371.1" cy="74.77" r="0.42"/><circle cx="367.33" cy="79.22" r="0.42"/><circle cx="370.93" cy="75.79" r="0.42"/><circle cx="370.46" cy="79.05" r="0.42"/><circle cx="373.02" cy="81.35" r="0.42"/><circle cx="369.8" cy="83.87" r="0.42"/><circle cx="367.59" cy="77.44" r="0.42"/><circle cx="366.24" cy="76.15" r="0.42"/><circle cx="367.48" cy="73.8" r="0.42"/><circle cx="367.26" cy="79.56" r="0.42"/></g>
<line x1="341.1" y1="70.5" x2="412" y2="70.5" stroke="#777" stroke-width="1"/>
<line x1="367.5" y1="19.8" x2="367.5" y2="93.1" stroke="#777" stroke-width="1"/>
<text x="342.7" y="29.1" font-size="8.6" fill="#222" text-anchor="start" stroke="#222" stroke-width="0.02" textLength="10.2" lengthAdjust="spacingAndGlyphs" >3.7</text>
<text x="410.4" y="29.1" font-size="8.6" fill="#222" text-anchor="end" stroke="#222" stroke-width="0.02" textLength="10.2" lengthAdjust="spacingAndGlyphs" >3.9</text>
<text x="342.1" y="88" font-size="8.6" fill="#222" text-anchor="start" textLength="17.6" lengthAdjust="spacingAndGlyphs" stroke="#fff" stroke-width="1.2" paint-order="stroke" stroke-opacity="0.8">62.41</text>
<text x="408.8" y="88" font-size="8.6" fill="#222" text-anchor="end" stroke="#222" stroke-width="0.02" textLength="13.9" lengthAdjust="spacingAndGlyphs" >30.0</text>
<rect x="413.7" y="19.8" width="72.3" height="71.8" fill="none" stroke="#cfcfcf" stroke-width="0.8"/>
<line x1="412.4" y1="89.1" x2="414.5" y2="89.1" stroke="#444" stroke-width="0.7"/>
<line x1="412.4" y1="81.5" x2="414.5" y2="81.5" stroke="#444" stroke-width="0.7"/>
<line x1="412.4" y1="73.9" x2="414.5" y2="73.9" stroke="#444" stroke-width="0.7"/>
<line x1="412.4" y1="66.3" x2="414.5" y2="66.3" stroke="#444" stroke-width="0.7"/>
<line x1="412.4" y1="58.7" x2="414.5" y2="58.7" stroke="#444" stroke-width="0.7"/>
<line x1="412.4" y1="51.1" x2="414.5" y2="51.1" stroke="#444" stroke-width="0.7"/>
<line x1="412.4" y1="43.5" x2="414.5" y2="43.5" stroke="#444" stroke-width="0.7"/>
<line x1="412.4" y1="35.9" x2="414.5" y2="35.9" stroke="#444" stroke-width="0.7"/>
<line x1="412.4" y1="28.3" x2="414.5" y2="28.3" stroke="#444" stroke-width="0.7"/>
<line x1="412.4" y1="20.7" x2="414.5" y2="20.7" stroke="#444" stroke-width="0.7"/>
<line x1="418.7" y1="91" x2="418.7" y2="92.9" stroke="#777" stroke-width="0.6"/>
<line x1="427.5" y1="91" x2="427.5" y2="92.9" stroke="#777" stroke-width="0.6"/>
<line x1="436.3" y1="91" x2="436.3" y2="92.9" stroke="#777" stroke-width="0.6"/>
<line x1="445.1" y1="91" x2="445.1" y2="92.9" stroke="#777" stroke-width="0.6"/>
<line x1="453.9" y1="91" x2="453.9" y2="92.9" stroke="#777" stroke-width="0.6"/>
<line x1="462.7" y1="91" x2="462.7" y2="92.9" stroke="#777" stroke-width="0.6"/>
<line x1="471.5" y1="91" x2="471.5" y2="92.9" stroke="#777" stroke-width="0.6"/>
<line x1="480.3" y1="91" x2="480.3" y2="92.9" stroke="#777" stroke-width="0.6"/>
<line x1="420.7" y1="92.5" x2="427.2" y2="92.5" stroke="#222" stroke-width="1.5"/>
<g fill="#222"><circle cx="428.4" cy="54.4" r="0.45"/><circle cx="429.7" cy="52.12" r="0.45"/><circle cx="422.66" cy="51.06" r="0.45"/><circle cx="429.93" cy="60.88" r="0.45"/><circle cx="421.62" cy="60.91" r="0.45"/><circle cx="426.69" cy="55.29" r="0.45"/><circle cx="425.22" cy="54.76" r="0.45"/><circle cx="424.86" cy="66.41" r="0.45"/><circle cx="429.73" cy="54.96" r="0.45"/><circle cx="422.76" cy="55.45" r="0.45"/><circle cx="428.02" cy="59.57" r="0.45"/><circle cx="423.28" cy="59.65" r="0.45"/><circle cx="424.49" cy="60.77" r="0.45"/><circle cx="425.34" cy="62.56" r="0.45"/><circle cx="421.61" cy="56.21" r="0.45"/><circle cx="427.95" cy="54.26" r="0.45"/><circle cx="427.8" cy="64.51" r="0.45"/><circle cx="422.13" cy="68.93" r="0.45"/><circle cx="419.87" cy="53.21" r="0.45"/><circle cx="427.51" cy="66.71" r="0.45"/><circle cx="422.19" cy="52.15" r="0.45"/><circle cx="427.19" cy="61.08" r="0.45"/><circle cx="423.73" cy="60.92" r="0.45"/><circle cx="427.62" cy="59.25" r="0.45"/><circle cx="426.81" cy="68.03" r="0.45"/><circle cx="423.63" cy="58.18" r="0.45"/><circle cx="423.49" cy="64.53" r="0.45"/><circle cx="423.86" cy="60.45" r="0.45"/><circle cx="425.58" cy="57.48" r="0.45"/><circle cx="430.6" cy="56.38" r="0.45"/><circle cx="429.65" cy="63" r="0.45"/><circle cx="429.34" cy="55.8" r="0.45"/><circle cx="428.09" cy="62.49" r="0.45"/><circle cx="423.2" cy="58.95" r="0.45"/><circle cx="424.74" cy="56.74" r="0.45"/><circle cx="429.27" cy="51.78" r="0.45"/><circle cx="423.72" cy="52.33" r="0.45"/><circle cx="425.2" cy="61.1" r="0.45"/><circle cx="430.72" cy="59.24" r="0.45"/><circle cx="426.62" cy="51.68" r="0.45"/><circle cx="426.98" cy="66.83" r="0.45"/><circle cx="427.96" cy="68.46" r="0.45"/><circle cx="424.18" cy="61.25" r="0.45"/><circle cx="426.46" cy="51.14" r="0.45"/><circle cx="422.34" cy="63.98" r="0.45"/><circle cx="420.94" cy="67.36" r="0.45"/><circle cx="425.21" cy="59.17" r="0.45"/><circle cx="420.94" cy="52.7" r="0.45"/><circle cx="421.3" cy="57.31" r="0.45"/><circle cx="426.67" cy="62.29" r="0.45"/><circle cx="423.98" cy="55.5" r="0.45"/><circle cx="424.41" cy="52.85" r="0.45"/></g>
<g fill="#222"><circle cx="454.75" cy="60.14" r="0.45"/><circle cx="451.07" cy="60.81" r="0.45"/><circle cx="453.64" cy="58.45" r="0.45"/><circle cx="454.75" cy="51.32" r="0.45"/><circle cx="452.37" cy="69.8" r="0.45"/><circle cx="449.17" cy="58.28" r="0.45"/><circle cx="451.23" cy="65.84" r="0.45"/><circle cx="449.61" cy="46.88" r="0.45"/><circle cx="455.85" cy="56.45" r="0.45"/><circle cx="452.37" cy="66.78" r="0.45"/><circle cx="449.99" cy="56.31" r="0.45"/><circle cx="454.32" cy="61.98" r="0.45"/><circle cx="451.54" cy="66.45" r="0.45"/><circle cx="459.58" cy="56.52" r="0.45"/><circle cx="454.27" cy="56.55" r="0.45"/><circle cx="451.04" cy="49.8" r="0.45"/><circle cx="452.05" cy="68.34" r="0.45"/><circle cx="458.46" cy="56.49" r="0.45"/><circle cx="451.49" cy="53.94" r="0.45"/><circle cx="456.47" cy="59.84" r="0.45"/><circle cx="451.65" cy="51.64" r="0.45"/><circle cx="459.2" cy="64.62" r="0.45"/><circle cx="449.72" cy="66.12" r="0.45"/><circle cx="449.08" cy="63.62" r="0.45"/><circle cx="449.69" cy="56.02" r="0.45"/><circle cx="455.77" cy="62.11" r="0.45"/><circle cx="457.92" cy="52.97" r="0.45"/><circle cx="460.29" cy="68.68" r="0.45"/><circle cx="453.66" cy="62.35" r="0.45"/><circle cx="450.45" cy="57.9" r="0.45"/><circle cx="448.18" cy="59.64" r="0.45"/><circle cx="454.53" cy="68.67" r="0.45"/><circle cx="457.66" cy="64.87" r="0.45"/><circle cx="452.19" cy="57.38" r="0.45"/><circle cx="452.28" cy="60.6" r="0.45"/><circle cx="445.64" cy="64.55" r="0.45"/><circle cx="447.16" cy="55.29" r="0.45"/><circle cx="453.79" cy="55.3" r="0.45"/><circle cx="460.64" cy="58.3" r="0.45"/><circle cx="460.26" cy="67.45" r="0.45"/><circle cx="451.62" cy="61.89" r="0.45"/><circle cx="459.12" cy="56.6" r="0.45"/><circle cx="454.07" cy="54.98" r="0.45"/><circle cx="453.95" cy="56.45" r="0.45"/><circle cx="454.05" cy="66.21" r="0.45"/><circle cx="459.52" cy="59.96" r="0.45"/><circle cx="454.54" cy="65.16" r="0.45"/><circle cx="452.49" cy="51.38" r="0.45"/><circle cx="458.34" cy="52.27" r="0.45"/><circle cx="457.59" cy="52.05" r="0.45"/><circle cx="461.34" cy="51.48" r="0.45"/><circle cx="457.25" cy="69.8" r="0.45"/></g>
<g fill="#222"><circle cx="423.04" cy="63.65" r="0.45"/><circle cx="427.33" cy="49.4" r="0.45"/><circle cx="425.59" cy="47.72" r="0.45"/><circle cx="428.82" cy="59.26" r="0.45"/><circle cx="421.42" cy="54" r="0.45"/><circle cx="428.54" cy="52.52" r="0.45"/><circle cx="425.65" cy="65.81" r="0.45"/><circle cx="421.74" cy="52.68" r="0.45"/><circle cx="428.33" cy="62.39" r="0.45"/><circle cx="421.19" cy="54.88" r="0.45"/><circle cx="422.85" cy="64.09" r="0.45"/><circle cx="420.93" cy="53.84" r="0.45"/><circle cx="429.4" cy="54.2" r="0.45"/><circle cx="426.47" cy="64.3" r="0.45"/><circle cx="426.71" cy="48.53" r="0.45"/><circle cx="426.6" cy="48.27" r="0.45"/><circle cx="421.72" cy="59.34" r="0.45"/><circle cx="422.49" cy="62" r="0.45"/></g>
<ellipse cx="425.15" cy="57" rx="3.8" ry="8.8" fill="none" stroke="#999" stroke-width="0.4"/>
<g fill="#222"><circle cx="453.22" cy="68.13" r="0.45"/><circle cx="459.01" cy="66.58" r="0.45"/><circle cx="453.36" cy="65.02" r="0.45"/><circle cx="456.66" cy="59.31" r="0.45"/><circle cx="452.9" cy="70.12" r="0.45"/><circle cx="451.89" cy="70.27" r="0.45"/><circle cx="453.78" cy="69.6" r="0.45"/><circle cx="454.25" cy="62.23" r="0.45"/><circle cx="453.7" cy="61.49" r="0.45"/><circle cx="459.4" cy="68.97" r="0.45"/><circle cx="457" cy="57.61" r="0.45"/><circle cx="458.1" cy="62.15" r="0.45"/><circle cx="454.87" cy="60.74" r="0.45"/><circle cx="459.76" cy="65.59" r="0.45"/><circle cx="454.64" cy="59.82" r="0.45"/><circle cx="456.08" cy="58.19" r="0.45"/></g>
<path d="M454.1 70.6 L454.1 62 Q456.3 55 458.5 62 L458.5 70.6" fill="none" stroke="#999" stroke-width="0.5"/>
<ellipse cx="423.7" cy="78.8" rx="8.2" ry="7.3" fill="url(#gL)"/>
<ellipse cx="423.7" cy="78.8" rx="6.97" ry="6.21" fill="none" stroke="#bbb" stroke-width="0.5"/>
<ellipse cx="423.7" cy="78.8" rx="5.33" ry="4.75" fill="none" stroke="#999" stroke-width="0.5"/>
<ellipse cx="423.7" cy="78.8" rx="3.69" ry="3.29" fill="none" stroke="#444" stroke-width="0.9"/>
<ellipse cx="423.7" cy="78.8" rx="2.05" ry="1.82" fill="none" stroke="#666" stroke-width="0.5"/>
<circle cx="423.7" cy="78.8" r="0.9" fill="#f4f4f4"/>
<ellipse cx="457.3" cy="79.6" rx="9.5" ry="7.3" fill="url(#gL2)"/>
<ellipse cx="457.3" cy="79.6" rx="8.07" ry="6.21" fill="none" stroke="#bbb" stroke-width="0.5"/>
<ellipse cx="457.3" cy="79.6" rx="6.17" ry="4.75" fill="none" stroke="#999" stroke-width="0.5"/>
<ellipse cx="457.3" cy="79.6" rx="4.28" ry="3.29" fill="none" stroke="#777" stroke-width="0.9"/>
<ellipse cx="457.3" cy="79.6" rx="2.38" ry="1.82" fill="none" stroke="#666" stroke-width="0.5"/>
<circle cx="457.3" cy="79.6" r="0.9" fill="#f4f4f4"/>
<g fill="#444"><circle cx="436.02" cy="77.7" r="0.42"/><circle cx="443.27" cy="79.34" r="0.42"/><circle cx="434.6" cy="85.19" r="0.42"/><circle cx="436.1" cy="78.78" r="0.42"/><circle cx="440.02" cy="80.33" r="0.42"/><circle cx="438.64" cy="79.6" r="0.42"/><circle cx="435.74" cy="79.29" r="0.42"/><circle cx="436.82" cy="77.61" r="0.42"/><circle cx="440.62" cy="79.31" r="0.42"/><circle cx="438.81" cy="80.54" r="0.42"/><circle cx="439.16" cy="75.37" r="0.42"/><circle cx="443.27" cy="77.63" r="0.42"/><circle cx="444.56" cy="76.93" r="0.42"/><circle cx="442.1" cy="79.26" r="0.42"/><circle cx="435.6" cy="81.88" r="0.42"/><circle cx="432.65" cy="80.69" r="0.42"/></g>
<line x1="413.7" y1="70.5" x2="486" y2="70.5" stroke="#777" stroke-width="1"/>
<line x1="439.5" y1="19.8" x2="439.5" y2="93.1" stroke="#777" stroke-width="1"/>
<text x="415.3" y="29.1" font-size="8.6" fill="#222" text-anchor="start" stroke="#222" stroke-width="0.02" textLength="10.2" lengthAdjust="spacingAndGlyphs" >1.8</text>
<text x="484.4" y="29.1" font-size="8.6" fill="#222" text-anchor="end" stroke="#222" stroke-width="0.02" textLength="10.2" lengthAdjust="spacingAndGlyphs" >3.6</text>
<text x="414.7" y="88" font-size="8.6" fill="#222" text-anchor="start" textLength="17.6" lengthAdjust="spacingAndGlyphs" stroke="#fff" stroke-width="1.2" paint-order="stroke" stroke-opacity="0.8">61.74</text>
<text x="482.8" y="88" font-size="8.6" fill="#222" text-anchor="end" stroke="#222" stroke-width="0.02" textLength="13.9" lengthAdjust="spacingAndGlyphs" >32.9</text>
<line x1="37.5" y1="135.2" x2="37.5" y2="222.8" stroke="#3a3a3a" stroke-width="1"/>
<line x1="34.5" y1="222.5" x2="37.5" y2="222.5" stroke="#3a3a3a" stroke-width="0.9"/>
<text x="31.3" y="225" font-size="7.8" fill="#333" text-anchor="end" stroke="#333" stroke-width="0.05" >0</text>
<line x1="34.5" y1="210.5" x2="37.5" y2="210.5" stroke="#3a3a3a" stroke-width="0.9"/>
<text x="31.3" y="212.92" font-size="7.8" fill="#333" text-anchor="end" stroke="#333" stroke-width="0.05" >5</text>
<line x1="34.5" y1="198.5" x2="37.5" y2="198.5" stroke="#3a3a3a" stroke-width="0.9"/>
<text x="31.3" y="200.84" font-size="7.8" fill="#333" text-anchor="end" stroke="#333" stroke-width="0.05" >10</text>
<line x1="34.5" y1="186.5" x2="37.5" y2="186.5" stroke="#3a3a3a" stroke-width="0.9"/>
<text x="31.3" y="188.76" font-size="7.8" fill="#333" text-anchor="end" stroke="#333" stroke-width="0.05" >15</text>
<line x1="34.5" y1="173.5" x2="37.5" y2="173.5" stroke="#3a3a3a" stroke-width="0.9"/>
<text x="31.3" y="176.68" font-size="7.8" fill="#333" text-anchor="end" stroke="#333" stroke-width="0.05" >20</text>
<line x1="34.5" y1="161.5" x2="37.5" y2="161.5" stroke="#3a3a3a" stroke-width="0.9"/>
<text x="31.3" y="164.6" font-size="7.8" fill="#333" text-anchor="end" stroke="#333" stroke-width="0.05" >25</text>
<line x1="34.5" y1="149.5" x2="37.5" y2="149.5" stroke="#3a3a3a" stroke-width="0.9"/>
<text x="31.3" y="152.52" font-size="7.8" fill="#333" text-anchor="end" stroke="#333" stroke-width="0.05" >30</text>
<line x1="34.5" y1="137.5" x2="37.5" y2="137.5" stroke="#3a3a3a" stroke-width="0.9"/>
<text x="31.3" y="140.44" font-size="7.8" fill="#333" text-anchor="end" stroke="#333" stroke-width="0.05" >35</text>
<line x1="37.5" y1="222.5" x2="121.3" y2="222.5" stroke="#3a3a3a" stroke-width="1"/>
<line x1="58.5" y1="222.3" x2="58.5" y2="225" stroke="#3a3a3a" stroke-width="0.9"/>
<line x1="99.5" y1="222.3" x2="99.5" y2="225" stroke="#3a3a3a" stroke-width="0.9"/>
<rect x="41.5" y="194.5" width="10" height="28" fill="#fff" stroke="#3a3a3a" stroke-width="1"/>
<line x1="46.5" y1="189.5" x2="46.5" y2="199" stroke="#3a3a3a" stroke-width="0.9"/>
<line x1="44.3" y1="189.5" x2="48.7" y2="189.5" stroke="#3a3a3a" stroke-width="0.9"/>
<line x1="44.3" y1="199.5" x2="48.7" y2="199.5" stroke="#3a3a3a" stroke-width="0.9"/>
<rect x="53.5" y="216.5" width="9" height="6" fill="#fff" stroke="#3a3a3a" stroke-width="1"/>
<rect x="66.5" y="219.5" width="8" height="3" fill="#fff" stroke="#3a3a3a" stroke-width="1"/>
<rect x="83.5" y="198.5" width="9" height="24" fill="#fff" stroke="#3a3a3a" stroke-width="1"/>
<line x1="88.5" y1="192.7" x2="88.5" y2="204" stroke="#3a3a3a" stroke-width="0.9"/>
<line x1="85.8" y1="192.5" x2="90.2" y2="192.5" stroke="#3a3a3a" stroke-width="0.9"/>
<line x1="85.8" y1="204.5" x2="90.2" y2="204.5" stroke="#3a3a3a" stroke-width="0.9"/>
<rect x="95.5" y="220.5" width="9" height="2" fill="#fff" stroke="#3a3a3a" stroke-width="1"/>
<rect x="107.5" y="220.5" width="9" height="2" fill="#fff" stroke="#3a3a3a" stroke-width="1"/>
<circle cx="56.1" cy="209.8" r="1.7" fill="#e88c0c"/>
<circle cx="60.7" cy="207.5" r="1.7" fill="#e88c0c"/>
<circle cx="60.7" cy="211.5" r="1.7" fill="#e88c0c"/>
<circle cx="56" cy="215" r="1.7" fill="#e88c0c"/>
<circle cx="59" cy="216" r="1.7" fill="#e88c0c"/>
<circle cx="61" cy="217" r="1.7" fill="#e88c0c"/>
<circle cx="57" cy="218.5" r="1.7" fill="#e88c0c"/>
<circle cx="60" cy="219.5" r="1.7" fill="#e88c0c"/>
<circle cx="58.5" cy="221" r="1.7" fill="#e88c0c"/>
<circle cx="57.5" cy="217.5" r="1.7" fill="#e88c0c"/>
<circle cx="59.5" cy="214.5" r="1.7" fill="#e88c0c"/>
<circle cx="97.5" cy="219.5" r="1.7" fill="#e88c0c"/>
<circle cx="100" cy="220" r="1.7" fill="#e88c0c"/>
<circle cx="102.5" cy="219.5" r="1.7" fill="#e88c0c"/>
<circle cx="99" cy="221" r="1.7" fill="#e88c0c"/>
<circle cx="101" cy="221.2" r="1.7" fill="#e88c0c"/>
<circle cx="98.5" cy="218.8" r="1.7" fill="#e88c0c"/>
<circle cx="101.5" cy="218.6" r="1.7" fill="#e88c0c"/>
<circle cx="68.2" cy="212.1" r="1.7" fill="#58ad3a"/>
<circle cx="72.8" cy="214.1" r="1.7" fill="#58ad3a"/>
<circle cx="68.2" cy="217.3" r="1.7" fill="#58ad3a"/>
<circle cx="72.5" cy="217.5" r="1.7" fill="#58ad3a"/>
<circle cx="67.5" cy="220.5" r="1.7" fill="#58ad3a"/>
<circle cx="70" cy="221" r="1.7" fill="#58ad3a"/>
<circle cx="73" cy="220.5" r="1.7" fill="#58ad3a"/>
<circle cx="71" cy="219" r="1.7" fill="#58ad3a"/>
<circle cx="69" cy="219" r="1.7" fill="#58ad3a"/>
<circle cx="109.5" cy="219" r="1.7" fill="#58ad3a"/>
<circle cx="112" cy="219.5" r="1.7" fill="#58ad3a"/>
<circle cx="114" cy="219.2" r="1.7" fill="#58ad3a"/>
<circle cx="110.5" cy="221" r="1.7" fill="#58ad3a"/>
<circle cx="113" cy="221" r="1.7" fill="#58ad3a"/>
<circle cx="111.5" cy="220.5" r="1.7" fill="#58ad3a"/>
<circle cx="46.3" cy="150.6" r="1.7" fill="#3f0f5c"/>
<circle cx="46.3" cy="164.7" r="1.7" fill="#3f0f5c"/>
<circle cx="44.2" cy="171" r="1.7" fill="#3f0f5c"/>
<circle cx="49" cy="174.7" r="1.7" fill="#3f0f5c"/>
<circle cx="44.2" cy="188" r="1.7" fill="#3f0f5c"/>
<circle cx="49" cy="188" r="1.7" fill="#3f0f5c"/>
<circle cx="51.1" cy="196.9" r="1.7" fill="#3f0f5c"/>
<circle cx="44.2" cy="198" r="1.7" fill="#3f0f5c"/>
<circle cx="44.2" cy="203.2" r="1.7" fill="#3f0f5c"/>
<circle cx="44.2" cy="209.6" r="1.7" fill="#3f0f5c"/>
<circle cx="48" cy="209.6" r="1.7" fill="#3f0f5c"/>
<circle cx="44.2" cy="213.8" r="1.7" fill="#3f0f5c"/>
<circle cx="49" cy="216" r="1.7" fill="#3f0f5c"/>
<circle cx="46.5" cy="219" r="1.7" fill="#3f0f5c"/>
<circle cx="90.7" cy="158.4" r="1.7" fill="#3f0f5c"/>
<circle cx="85.6" cy="161.6" r="1.7" fill="#3f0f5c"/>
<circle cx="85.6" cy="169" r="1.7" fill="#3f0f5c"/>
<circle cx="90.7" cy="171.5" r="1.7" fill="#3f0f5c"/>
<circle cx="90.3" cy="188.4" r="1.7" fill="#3f0f5c"/>
<circle cx="88.1" cy="200.7" r="1.7" fill="#3f0f5c"/>
<circle cx="85.6" cy="208.5" r="1.7" fill="#3f0f5c"/>
<circle cx="90.7" cy="208.5" r="1.7" fill="#3f0f5c"/>
<circle cx="87" cy="211.7" r="1.7" fill="#3f0f5c"/>
<circle cx="85.6" cy="214.9" r="1.7" fill="#3f0f5c"/>
<circle cx="90.7" cy="214.9" r="1.7" fill="#3f0f5c"/>
<circle cx="88.1" cy="220" r="1.7" fill="#3f0f5c"/>
<line x1="44.4" y1="136.5" x2="73.8" y2="136.5" stroke="#444" stroke-width="1"/>
<text x="59.1" y="135.7" font-size="9" fill="#333" text-anchor="middle" stroke="#333" stroke-width="0.1" >***</text>
<line x1="44.4" y1="145.5" x2="63.8" y2="145.5" stroke="#444" stroke-width="1"/>
<text x="54.1" y="144.7" font-size="9" fill="#333" text-anchor="middle" stroke="#333" stroke-width="0.1" >***</text>
<line x1="96" y1="138.5" x2="124.5" y2="138.5" stroke="#444" stroke-width="1"/>
<text x="110.25" y="137.7" font-size="9" fill="#333" text-anchor="middle" stroke="#333" stroke-width="0.1" >***</text>
<line x1="96" y1="147.5" x2="115.2" y2="147.5" stroke="#444" stroke-width="1"/>
<text x="105.6" y="146.7" font-size="9" fill="#333" text-anchor="middle" stroke="#333" stroke-width="0.1" >***</text>
<text x="52.3" y="235.2" font-size="8.6" fill="#2a2a2a" text-anchor="start" stroke="#2a2a2a" stroke-width="0.1" textLength="12.6" lengthAdjust="spacingAndGlyphs" >BM</text>
<text x="87.3" y="235.2" font-size="8.6" fill="#2a2a2a" text-anchor="start" stroke="#2a2a2a" stroke-width="0.1" textLength="25" lengthAdjust="spacingAndGlyphs" >Spleen</text>
<text x="16.9" y="206.4" font-size="9.4" fill="#2a2a2a" text-anchor="start" stroke="#2a2a2a" stroke-width="0.05" textLength="55.8" lengthAdjust="spacingAndGlyphs" transform="rotate(-90 16.9 206.4)" >%IL-10<tspan font-size="8" dy="-3.4">+</tspan><tspan dy="3.4"> in CD8</tspan><tspan font-size="8" dy="-3.4">+</tspan></text>
<circle cx="12.2" cy="243.3" r="1.5" fill="#3f0f5c"/>
<text x="16.8" y="245.9" font-size="8.6" fill="#2a2a2a" text-anchor="start" stroke="#2a2a2a" stroke-width="0.1" textLength="47.8" lengthAdjust="spacingAndGlyphs" >MM-relapsed</text>
<circle cx="69.2" cy="243.3" r="1.5" fill="#e88c0c"/>
<text x="74.6" y="245.9" font-size="8.6" fill="#2a2a2a" text-anchor="start" stroke="#2a2a2a" stroke-width="0.1" textLength="52.9" lengthAdjust="spacingAndGlyphs" >MM-controlled</text>
<circle cx="70" cy="251.8" r="1.5" fill="#58ad3a"/>
<text x="74.6" y="254.5" font-size="8.6" fill="#2a2a2a" text-anchor="start" stroke="#2a2a2a" stroke-width="0.1" textLength="30.7" lengthAdjust="spacingAndGlyphs" >MM-free</text>
<line x1="175.5" y1="135.2" x2="175.5" y2="222.8" stroke="#3a3a3a" stroke-width="1"/>
<line x1="172.6" y1="222.5" x2="175.6" y2="222.5" stroke="#3a3a3a" stroke-width="0.9"/>
<text x="169.6" y="225.2" font-size="8.3" fill="#333" text-anchor="end" stroke="#333" stroke-width="0.05" >0</text>
<line x1="172.6" y1="194.5" x2="175.6" y2="194.5" stroke="#3a3a3a" stroke-width="0.9"/>
<text x="169.6" y="197.25" font-size="8.3" fill="#333" text-anchor="end" stroke="#333" stroke-width="0.05" >10</text>
<line x1="172.6" y1="166.5" x2="175.6" y2="166.5" stroke="#3a3a3a" stroke-width="0.9"/>
<text x="169.6" y="169.3" font-size="8.3" fill="#333" text-anchor="end" stroke="#333" stroke-width="0.05" >20</text>
<line x1="172.6" y1="138.5" x2="175.6" y2="138.5" stroke="#3a3a3a" stroke-width="0.9"/>
<text x="169.6" y="141.35" font-size="8.3" fill="#333" text-anchor="end" stroke="#333" stroke-width="0.05" >30</text>
<line x1="175.6" y1="222.5" x2="250.6" y2="222.5" stroke="#3a3a3a" stroke-width="1"/>
<line x1="184.5" y1="222.3" x2="184.5" y2="225.3" stroke="#3a3a3a" stroke-width="0.9"/>
<text x="184.8" y="235.6" font-size="7.8" fill="#333" text-anchor="middle" stroke="#333" stroke-width="0.05" >1</text>
<line x1="200.5" y1="222.3" x2="200.5" y2="225.3" stroke="#3a3a3a" stroke-width="0.9"/>
<text x="200.75" y="235.6" font-size="7.8" fill="#333" text-anchor="middle" stroke="#333" stroke-width="0.05" >2</text>
<line x1="216.5" y1="222.3" x2="216.5" y2="225.3" stroke="#3a3a3a" stroke-width="0.9"/>
<text x="216.7" y="235.6" font-size="7.8" fill="#333" text-anchor="middle" stroke="#333" stroke-width="0.05" >3</text>
<line x1="232.5" y1="222.3" x2="232.5" y2="225.3" stroke="#3a3a3a" stroke-width="0.9"/>
<text x="232.65" y="235.6" font-size="7.8" fill="#333" text-anchor="middle" stroke="#333" stroke-width="0.05" >4</text>
<line x1="248.5" y1="222.3" x2="248.5" y2="225.3" stroke="#3a3a3a" stroke-width="0.9"/>
<text x="248.6" y="235.6" font-size="7.8" fill="#333" text-anchor="middle" stroke="#333" stroke-width="0.05" >5</text>
<circle cx="223.8" cy="138.9" r="1.65" fill="#111"/>
<circle cx="223.8" cy="155.9" r="1.65" fill="#111"/>
<circle cx="224.7" cy="166.5" r="1.65" fill="#111"/>
<circle cx="239.3" cy="163.2" r="1.65" fill="#111"/>
<circle cx="215.4" cy="182.7" r="1.65" fill="#111"/>
<circle cx="217.6" cy="182.5" r="1.65" fill="#111"/>
<circle cx="220.2" cy="192.6" r="1.65" fill="#111"/>
<circle cx="240" cy="189.8" r="1.65" fill="#111"/>
<circle cx="239.3" cy="194.6" r="1.65" fill="#111"/>
<circle cx="202.1" cy="199.7" r="1.65" fill="#111"/>
<circle cx="195.5" cy="204.8" r="1.65" fill="#111"/>
<circle cx="204.3" cy="207" r="1.65" fill="#111"/>
<circle cx="216.5" cy="207.9" r="1.65" fill="#111"/>
<circle cx="230.4" cy="208.6" r="1.65" fill="#111"/>
<circle cx="240.4" cy="207.9" r="1.65" fill="#111"/>
<circle cx="212.7" cy="210.8" r="1.65" fill="#111"/>
<circle cx="228" cy="214.5" r="1.65" fill="#111"/>
<circle cx="235.3" cy="212.6" r="1.65" fill="#111"/>
<circle cx="199.4" cy="214.8" r="1.65" fill="#111"/>
<circle cx="195" cy="214.1" r="1.65" fill="#111"/>
<circle cx="176.2" cy="216.3" r="1.65" fill="#111"/>
<circle cx="180" cy="217.9" r="1.65" fill="#111"/>
<circle cx="181.5" cy="217.4" r="1.65" fill="#111"/>
<circle cx="190" cy="215.2" r="1.65" fill="#111"/>
<circle cx="193.2" cy="218.5" r="1.65" fill="#111"/>
<circle cx="184.4" cy="220.3" r="1.65" fill="#111"/>
<circle cx="190" cy="220.7" r="1.65" fill="#111"/>
<circle cx="195.5" cy="220.7" r="1.65" fill="#111"/>
<circle cx="212" cy="218.5" r="1.65" fill="#111"/>
<circle cx="212" cy="219.6" r="1.65" fill="#111"/>
<circle cx="176.6" cy="220.7" r="1.65" fill="#111"/>
<line x1="176.6" y1="217.4" x2="239.7" y2="183.8" stroke="#111" stroke-width="1.55"/>
<text x="179" y="144.2" font-size="7.6" fill="#333" text-anchor="start" stroke="#333" stroke-width="0.05" textLength="26" lengthAdjust="spacingAndGlyphs" ><tspan font-style="italic">r</tspan> = 0.66</text>
<text x="179" y="152.7" font-size="7.6" fill="#333" text-anchor="start" stroke="#333" stroke-width="0.05" textLength="27" lengthAdjust="spacingAndGlyphs" ><tspan font-style="italic">P</tspan>&lt;.0001</text>
<text x="156" y="218" font-size="10.5" fill="#2a2a2a" text-anchor="start" stroke="#2a2a2a" stroke-width="0.1" textLength="79.4" lengthAdjust="spacingAndGlyphs" transform="rotate(-90 156 218)" >% IL-10<tspan font-size="7" dy="-3.2">+</tspan><tspan dy="3.2"> in CD8</tspan><tspan font-size="7" dy="-3.2">+</tspan><tspan dy="3.2">in BM</tspan></text>
<text x="180.2" y="251.9" font-size="10" fill="#333" text-anchor="start" stroke="#333" stroke-width="0.1" textLength="67.3" lengthAdjust="spacingAndGlyphs" >Log [MM cells x10<tspan font-size="7" dy="-3.5">2</tspan><tspan dy="3.5">]</tspan></text>
<line x1="300.5" y1="135.2" x2="300.5" y2="222.7" stroke="#3a3a3a" stroke-width="1"/>
<line x1="297.3" y1="222.5" x2="300.3" y2="222.5" stroke="#3a3a3a" stroke-width="0.9"/>
<text x="294.6" y="224.9" font-size="7.8" fill="#333" text-anchor="end" stroke="#333" stroke-width="0.05" >0</text>
<line x1="297.3" y1="201.5" x2="300.3" y2="201.5" stroke="#3a3a3a" stroke-width="0.9"/>
<text x="294.6" y="203.83" font-size="7.8" fill="#333" text-anchor="end" stroke="#333" stroke-width="0.05" >5</text>
<line x1="297.3" y1="180.5" x2="300.3" y2="180.5" stroke="#3a3a3a" stroke-width="0.9"/>
<text x="294.6" y="182.76" font-size="7.8" fill="#333" text-anchor="end" stroke="#333" stroke-width="0.05" >10</text>
<line x1="297.3" y1="158.5" x2="300.3" y2="158.5" stroke="#3a3a3a" stroke-width="0.9"/>
<text x="294.6" y="161.69" font-size="7.8" fill="#333" text-anchor="end" stroke="#333" stroke-width="0.05" >15</text>
<line x1="297.3" y1="137.5" x2="300.3" y2="137.5" stroke="#3a3a3a" stroke-width="0.9"/>
<text x="294.6" y="140.62" font-size="7.8" fill="#333" text-anchor="end" stroke="#333" stroke-width="0.05" >20</text>
<line x1="300.3" y1="222.5" x2="385.4" y2="222.5" stroke="#3a3a3a" stroke-width="1"/>
<line x1="321.5" y1="222.2" x2="321.5" y2="225" stroke="#3a3a3a" stroke-width="0.9"/>
<line x1="363.5" y1="222.2" x2="363.5" y2="225" stroke="#3a3a3a" stroke-width="0.9"/>
<rect x="304.5" y="177.5" width="9" height="45" fill="#fff" stroke="#3a3a3a" stroke-width="1"/>
<line x1="309.5" y1="173.4" x2="309.5" y2="181.4" stroke="#3a3a3a" stroke-width="0.9"/>
<line x1="306.8" y1="173.5" x2="311.2" y2="173.5" stroke="#3a3a3a" stroke-width="0.9"/>
<line x1="306.8" y1="181.5" x2="311.2" y2="181.5" stroke="#3a3a3a" stroke-width="0.9"/>
<rect x="317.5" y="193.5" width="9" height="29" fill="#fff" stroke="#3a3a3a" stroke-width="1"/>
<line x1="322.5" y1="189.6" x2="322.5" y2="197.4" stroke="#3a3a3a" stroke-width="0.9"/>
<line x1="319.8" y1="189.5" x2="324.2" y2="189.5" stroke="#3a3a3a" stroke-width="0.9"/>
<line x1="319.8" y1="197.5" x2="324.2" y2="197.5" stroke="#3a3a3a" stroke-width="0.9"/>
<rect x="329.5" y="199.5" width="9" height="23" fill="#fff" stroke="#3a3a3a" stroke-width="1"/>
<line x1="334.5" y1="196.6" x2="334.5" y2="201" stroke="#3a3a3a" stroke-width="0.9"/>
<line x1="331.8" y1="196.5" x2="336.2" y2="196.5" stroke="#3a3a3a" stroke-width="0.9"/>
<line x1="331.8" y1="201.5" x2="336.2" y2="201.5" stroke="#3a3a3a" stroke-width="0.9"/>
<rect x="347.5" y="185.5" width="8" height="37" fill="#fff" stroke="#3a3a3a" stroke-width="1"/>
<line x1="351.5" y1="180.2" x2="351.5" y2="188.4" stroke="#3a3a3a" stroke-width="0.9"/>
<line x1="349.3" y1="180.5" x2="353.7" y2="180.5" stroke="#3a3a3a" stroke-width="0.9"/>
<line x1="349.3" y1="188.5" x2="353.7" y2="188.5" stroke="#3a3a3a" stroke-width="0.9"/>
<rect x="359.5" y="212.5" width="8" height="10" fill="#fff" stroke="#3a3a3a" stroke-width="1"/>
<line x1="363.5" y1="211.5" x2="363.5" y2="214.5" stroke="#3a3a3a" stroke-width="0.9"/>
<line x1="361.3" y1="211.5" x2="365.7" y2="211.5" stroke="#3a3a3a" stroke-width="0.9"/>
<line x1="361.3" y1="214.5" x2="365.7" y2="214.5" stroke="#3a3a3a" stroke-width="0.9"/>
<rect x="371.5" y="215.5" width="9" height="7" fill="#fff" stroke="#3a3a3a" stroke-width="1"/>
<line x1="376.5" y1="214.2" x2="376.5" y2="216.5" stroke="#3a3a3a" stroke-width="0.9"/>
<line x1="373.8" y1="214.5" x2="378.2" y2="214.5" stroke="#3a3a3a" stroke-width="0.9"/>
<line x1="373.8" y1="216.5" x2="378.2" y2="216.5" stroke="#3a3a3a" stroke-width="0.9"/>
<circle cx="321.7" cy="166.7" r="1.7" fill="#e88c0c"/>
<circle cx="321.7" cy="177.8" r="1.7" fill="#e88c0c"/>
<circle cx="324" cy="180.6" r="1.7" fill="#e88c0c"/>
<circle cx="319.3" cy="184.7" r="1.7" fill="#e88c0c"/>
<circle cx="323.4" cy="189.7" r="1.7" fill="#e88c0c"/>
<circle cx="320.4" cy="191.7" r="1.7" fill="#e88c0c"/>
<circle cx="321.7" cy="199" r="1.7" fill="#e88c0c"/>
<circle cx="319.3" cy="203.6" r="1.7" fill="#e88c0c"/>
<circle cx="326.2" cy="207.5" r="1.7" fill="#e88c0c"/>
<circle cx="324.2" cy="209.7" r="1.7" fill="#e88c0c"/>
<circle cx="319.6" cy="212.9" r="1.7" fill="#e88c0c"/>
<circle cx="363.7" cy="206.4" r="1.7" fill="#e88c0c"/>
<circle cx="365.7" cy="207.2" r="1.7" fill="#e88c0c"/>
<circle cx="361.8" cy="211.8" r="1.7" fill="#e88c0c"/>
<circle cx="364.6" cy="213.7" r="1.7" fill="#e88c0c"/>
<circle cx="362.5" cy="215.5" r="1.7" fill="#e88c0c"/>
<circle cx="363.7" cy="218.6" r="1.7" fill="#e88c0c"/>
<circle cx="365.5" cy="216" r="1.7" fill="#e88c0c"/>
<circle cx="361.5" cy="214" r="1.7" fill="#e88c0c"/>
<circle cx="334" cy="176.2" r="1.7" fill="#58ad3a"/>
<circle cx="336" cy="193.3" r="1.7" fill="#58ad3a"/>
<circle cx="331.9" cy="196.6" r="1.7" fill="#58ad3a"/>
<circle cx="333.5" cy="199" r="1.7" fill="#58ad3a"/>
<circle cx="336.8" cy="199.9" r="1.7" fill="#58ad3a"/>
<circle cx="335.1" cy="202.3" r="1.7" fill="#58ad3a"/>
<circle cx="336.3" cy="207.2" r="1.7" fill="#58ad3a"/>
<circle cx="331.9" cy="210.8" r="1.7" fill="#58ad3a"/>
<circle cx="373.6" cy="211.3" r="1.7" fill="#58ad3a"/>
<circle cx="378.1" cy="212.4" r="1.7" fill="#58ad3a"/>
<circle cx="375.5" cy="214.6" r="1.7" fill="#58ad3a"/>
<circle cx="376" cy="217.8" r="1.7" fill="#58ad3a"/>
<circle cx="373.5" cy="216" r="1.7" fill="#58ad3a"/>
<circle cx="378" cy="215.5" r="1.7" fill="#58ad3a"/>
<circle cx="374.5" cy="218" r="1.7" fill="#58ad3a"/>
<circle cx="309.5" cy="163.4" r="1.7" fill="#3f0f5c"/>
<circle cx="306.9" cy="166.3" r="1.7" fill="#3f0f5c"/>
<circle cx="311.4" cy="170.4" r="1.7" fill="#3f0f5c"/>
<circle cx="307.4" cy="179.4" r="1.7" fill="#3f0f5c"/>
<circle cx="309.5" cy="178.6" r="1.7" fill="#3f0f5c"/>
<circle cx="311.4" cy="180.2" r="1.7" fill="#3f0f5c"/>
<circle cx="309.5" cy="183.5" r="1.7" fill="#3f0f5c"/>
<circle cx="309.5" cy="199.4" r="1.7" fill="#3f0f5c"/>
<circle cx="351.5" cy="160.3" r="1.7" fill="#3f0f5c"/>
<circle cx="351.5" cy="171.2" r="1.7" fill="#3f0f5c"/>
<circle cx="351.5" cy="184.3" r="1.7" fill="#3f0f5c"/>
<circle cx="352.3" cy="187.6" r="1.7" fill="#3f0f5c"/>
<circle cx="349.9" cy="189.2" r="1.7" fill="#3f0f5c"/>
<circle cx="353.9" cy="198.2" r="1.7" fill="#3f0f5c"/>
<circle cx="349" cy="202.3" r="1.7" fill="#3f0f5c"/>
<circle cx="352.5" cy="191" r="1.7" fill="#3f0f5c"/>
<line x1="309.3" y1="141.5" x2="332.4" y2="141.5" stroke="#444" stroke-width="1"/>
<text x="320.85" y="140.7" font-size="9" fill="#333" text-anchor="middle" stroke="#333" stroke-width="0.1" >**</text>
<line x1="309.3" y1="152.5" x2="322.9" y2="152.5" stroke="#444" stroke-width="1"/>
<text x="316.1" y="151.7" font-size="9" fill="#333" text-anchor="middle" stroke="#333" stroke-width="0.1" >*</text>
<line x1="352" y1="141.5" x2="375.3" y2="141.5" stroke="#444" stroke-width="1"/>
<text x="363.65" y="140.7" font-size="9" fill="#333" text-anchor="middle" stroke="#333" stroke-width="0.1" >***</text>
<line x1="352" y1="152.5" x2="365.8" y2="152.5" stroke="#444" stroke-width="1"/>
<text x="358.9" y="151.7" font-size="9" fill="#333" text-anchor="middle" stroke="#333" stroke-width="0.1" >***</text>
<text x="316.1" y="235.3" font-size="8.6" fill="#2a2a2a" text-anchor="start" stroke="#2a2a2a" stroke-width="0.1" textLength="12" lengthAdjust="spacingAndGlyphs" >BM</text>
<text x="350.6" y="235.3" font-size="8.6" fill="#2a2a2a" text-anchor="start" stroke="#2a2a2a" stroke-width="0.1" textLength="25.3" lengthAdjust="spacingAndGlyphs" >Spleen</text>
<text x="280.1" y="207.6" font-size="10" fill="#2a2a2a" text-anchor="start" stroke="#2a2a2a" stroke-width="0.1" textLength="58" lengthAdjust="spacingAndGlyphs" transform="rotate(-90 280.1 207.6)" >% IL-10<tspan font-size="7" dy="-3.2">+</tspan><tspan dy="3.2"> in CD4</tspan><tspan font-size="7" dy="-3.2">+</tspan></text>
<line x1="437.5" y1="135.8" x2="437.5" y2="222.9" stroke="#3a3a3a" stroke-width="1"/>
<line x1="434.3" y1="222.5" x2="437.3" y2="222.5" stroke="#3a3a3a" stroke-width="0.9"/>
<text x="431.2" y="225.1" font-size="7.8" fill="#333" text-anchor="end" stroke="#333" stroke-width="0.05" >0</text>
<line x1="434.3" y1="194.5" x2="437.3" y2="194.5" stroke="#3a3a3a" stroke-width="0.9"/>
<text x="431.2" y="197" font-size="7.8" fill="#333" text-anchor="end" stroke="#333" stroke-width="0.05" >10</text>
<line x1="434.3" y1="166.5" x2="437.3" y2="166.5" stroke="#3a3a3a" stroke-width="0.9"/>
<text x="431.2" y="168.9" font-size="7.8" fill="#333" text-anchor="end" stroke="#333" stroke-width="0.05" >20</text>
<line x1="434.3" y1="138.5" x2="437.3" y2="138.5" stroke="#3a3a3a" stroke-width="0.9"/>
<text x="431.2" y="140.8" font-size="7.8" fill="#333" text-anchor="end" stroke="#333" stroke-width="0.05" >30</text>
<line x1="437.3" y1="222.5" x2="512" y2="222.5" stroke="#3a3a3a" stroke-width="1"/>
<line x1="449.5" y1="222.4" x2="449.5" y2="225.4" stroke="#3a3a3a" stroke-width="0.9"/>
<text x="449.2" y="235.6" font-size="7.8" fill="#333" text-anchor="middle" stroke="#333" stroke-width="0.05" >1</text>
<line x1="464.5" y1="222.4" x2="464.5" y2="225.4" stroke="#3a3a3a" stroke-width="0.9"/>
<text x="464.3" y="235.6" font-size="7.8" fill="#333" text-anchor="middle" stroke="#333" stroke-width="0.05" >2</text>
<line x1="479.5" y1="222.4" x2="479.5" y2="225.4" stroke="#3a3a3a" stroke-width="0.9"/>
<text x="479.4" y="235.6" font-size="7.8" fill="#333" text-anchor="middle" stroke="#333" stroke-width="0.05" >3</text>
<line x1="494.5" y1="222.4" x2="494.5" y2="225.4" stroke="#3a3a3a" stroke-width="0.9"/>
<text x="494.5" y="235.6" font-size="7.8" fill="#333" text-anchor="middle" stroke="#333" stroke-width="0.05" >4</text>
<line x1="509.5" y1="222.4" x2="509.5" y2="225.4" stroke="#3a3a3a" stroke-width="0.9"/>
<text x="509.6" y="235.6" font-size="7.8" fill="#333" text-anchor="middle" stroke="#333" stroke-width="0.05" >5</text>
<circle cx="441.2" cy="198.7" r="1.65" fill="#111"/>
<circle cx="448" cy="191.9" r="1.65" fill="#111"/>
<circle cx="444" cy="208.2" r="1.65" fill="#111"/>
<circle cx="443.4" cy="212.3" r="1.65" fill="#111"/>
<circle cx="452.9" cy="215" r="1.65" fill="#111"/>
<circle cx="453.5" cy="200.9" r="1.65" fill="#111"/>
<circle cx="457" cy="200.1" r="1.65" fill="#111"/>
<circle cx="457.8" cy="206.9" r="1.65" fill="#111"/>
<circle cx="457.8" cy="210.4" r="1.65" fill="#111"/>
<circle cx="458.4" cy="181.6" r="1.65" fill="#111"/>
<circle cx="462.4" cy="194.1" r="1.65" fill="#111"/>
<circle cx="465.1" cy="172.9" r="1.65" fill="#111"/>
<circle cx="467.3" cy="154.4" r="1.65" fill="#111"/>
<circle cx="474.1" cy="189.2" r="1.65" fill="#111"/>
<circle cx="474.6" cy="193.8" r="1.65" fill="#111"/>
<circle cx="478.7" cy="191.9" r="1.65" fill="#111"/>
<circle cx="477.4" cy="158.5" r="1.65" fill="#111"/>
<circle cx="480.1" cy="160.1" r="1.65" fill="#111"/>
<circle cx="481.4" cy="181.9" r="1.65" fill="#111"/>
<circle cx="485.5" cy="161.5" r="1.65" fill="#111"/>
<circle cx="486.3" cy="164" r="1.65" fill="#111"/>
<circle cx="486.3" cy="174.3" r="1.65" fill="#111"/>
<circle cx="489.6" cy="193.8" r="1.65" fill="#111"/>
<circle cx="492.3" cy="182.4" r="1.65" fill="#111"/>
<circle cx="496.4" cy="206.9" r="1.65" fill="#111"/>
<circle cx="501.3" cy="186.5" r="1.65" fill="#111"/>
<circle cx="501.3" cy="188.7" r="1.65" fill="#111"/>
<circle cx="501.8" cy="191.9" r="1.65" fill="#111"/>
<circle cx="501.3" cy="196" r="1.65" fill="#111"/>
<circle cx="503.7" cy="192.5" r="1.65" fill="#111"/>
<line x1="439.3" y1="199.5" x2="502.4" y2="179.7" stroke="#111" stroke-width="1.55"/>
<text x="439.8" y="140.5" font-size="7.2" fill="#333" text-anchor="start" stroke="#333" stroke-width="0.05" textLength="26.3" lengthAdjust="spacingAndGlyphs" ><tspan font-style="italic">r</tspan> = 0.43</text>
<text x="439.8" y="148.6" font-size="7.2" fill="#333" text-anchor="start" stroke="#333" stroke-width="0.05" textLength="25.8" lengthAdjust="spacingAndGlyphs" ><tspan font-style="italic">P</tspan> =.014</text>
<text x="417.6" y="218.5" font-size="10.5" fill="#2a2a2a" text-anchor="start" stroke="#2a2a2a" stroke-width="0.1" textLength="79.6" lengthAdjust="spacingAndGlyphs" transform="rotate(-90 417.6 218.5)" >% IL-10<tspan font-size="7" dy="-3.2">+</tspan><tspan dy="3.2"> in CD4</tspan><tspan font-size="7" dy="-3.2">+</tspan><tspan dy="3.2">in BM</tspan></text>
<text x="441.2" y="251.9" font-size="10" fill="#333" text-anchor="start" stroke="#333" stroke-width="0.1" textLength="67.3" lengthAdjust="spacingAndGlyphs" >Log [MM cells x10<tspan font-size="7" dy="-3.5">2</tspan><tspan dy="3.5">]</tspan></text>
<path d="M32.06 346.7 L32.06 341.77 L32.93 338.26 L33.8 335.97 L34.88 330.88 L35.97 325.83 L37.06 320.59 L38.14 314.23 L38.87 310.29 L39.59 306.99 L40.68 303.75 L41.77 301.19 L42.49 297.62 L43.22 295.39 L43.94 293.11 L44.67 291.77 L45.03 292.53 L45.39 293.94 L46.12 294.59 L46.84 294.67 L47.57 296.08 L48.29 298.29 L49.01 298.87 L49.74 299.74 L50.46 301.49 L51.19 304.09 L51.91 307.49 L52.64 310.61 L53.36 314.38 L54.09 317.13 L54.81 320.96 L55.54 324.38 L56.26 328.3 L56.99 333.07 L58.07 336.3 L59.16 338.87 L60.25 340.97 L61.33 341.77 L62.78 343 L64.23 343.94 L65.68 344.08 L67.13 345.39 L67.13 346.7 Z" fill="#ddd4e4" stroke="#5f3f7f" stroke-width="0.9" stroke-linejoin="round"/>
<path d="M36.7 346.7 L36.7 345.83 L38.14 344.23 L39.59 341.77 L41.04 340.84 L42.49 338.87 L43.94 337.2 L45.39 335.97 L46.48 331.84 L47.57 328.72 L48.65 325.39 L49.74 322.93 L50.46 320.08 L51.19 317.13 L52.28 314.76 L53.36 311.33 L54.09 310.08 L54.81 308.43 L55.9 306.13 L56.99 302.64 L57.35 302.6 L57.71 303.36 L58.43 305.66 L59.16 308.43 L59.88 310.23 L60.61 311.33 L61.33 312.27 L62.06 312.78 L62.78 316.27 L63.51 320.03 L64.23 323.9 L64.96 327.28 L65.68 330.67 L66.41 334.52 L67.49 337.53 L68.58 341.77 L69.3 343.68 L70.03 345.83 L70.03 346.7 Z" fill="rgba(72,32,104,0.70)" stroke="#4b2a66" stroke-width="0.9" stroke-linejoin="round"/>
<path d="M32.06 346.7 L32.06 341.77 L32.93 338.26 L33.8 335.97 L34.88 330.88 L35.97 325.83 L37.06 320.59 L38.14 314.23 L38.87 310.29 L39.59 306.99 L40.68 303.75 L41.77 301.19 L42.49 297.62 L43.22 295.39 L43.94 293.11 L44.67 291.77 L45.03 292.53 L45.39 293.94 L46.12 294.59 L46.84 294.67 L47.57 296.08 L48.29 298.29 L49.01 298.87 L49.74 299.74 L50.46 301.49 L51.19 304.09 L51.91 307.49 L52.64 310.61 L53.36 314.38 L54.09 317.13 L54.81 320.96 L55.54 324.38 L56.26 328.3 L56.99 333.07 L58.07 336.3 L59.16 338.87 L60.25 340.97 L61.33 341.77 L62.78 343 L64.23 343.94 L65.68 344.08 L67.13 345.39 L67.13 346.7" fill="none" stroke="#5f3f7f" stroke-width="0.7" stroke-opacity="0.8" stroke-linejoin="round"/>
<rect x="29.7" y="279.6" width="67.1" height="67.1" fill="none" stroke="#3a3a3a" stroke-width="0.8"/>
<line x1="28.1" y1="345.2" x2="29.7" y2="345.2" stroke="#555" stroke-width="0.55"/>
<line x1="28.1" y1="341.1" x2="29.7" y2="341.1" stroke="#555" stroke-width="0.55"/>
<line x1="28.1" y1="337" x2="29.7" y2="337" stroke="#555" stroke-width="0.55"/>
<line x1="28.1" y1="332.9" x2="29.7" y2="332.9" stroke="#555" stroke-width="0.55"/>
<line x1="28.1" y1="328.8" x2="29.7" y2="328.8" stroke="#555" stroke-width="0.55"/>
<line x1="28.1" y1="324.7" x2="29.7" y2="324.7" stroke="#555" stroke-width="0.55"/>
<line x1="28.1" y1="320.6" x2="29.7" y2="320.6" stroke="#555" stroke-width="0.55"/>
<line x1="28.1" y1="316.5" x2="29.7" y2="316.5" stroke="#555" stroke-width="0.55"/>
<line x1="28.1" y1="312.4" x2="29.7" y2="312.4" stroke="#555" stroke-width="0.55"/>
<line x1="28.1" y1="308.3" x2="29.7" y2="308.3" stroke="#555" stroke-width="0.55"/>
<line x1="28.1" y1="304.2" x2="29.7" y2="304.2" stroke="#555" stroke-width="0.55"/>
<line x1="28.1" y1="300.1" x2="29.7" y2="300.1" stroke="#555" stroke-width="0.55"/>
<line x1="28.1" y1="296" x2="29.7" y2="296" stroke="#555" stroke-width="0.55"/>
<line x1="28.1" y1="291.9" x2="29.7" y2="291.9" stroke="#555" stroke-width="0.55"/>
<line x1="28.1" y1="287.8" x2="29.7" y2="287.8" stroke="#555" stroke-width="0.55"/>
<line x1="28.1" y1="283.7" x2="29.7" y2="283.7" stroke="#555" stroke-width="0.55"/>
<line x1="32.7" y1="346.7" x2="32.7" y2="348.3" stroke="#555" stroke-width="0.55"/>
<line x1="37.1" y1="346.7" x2="37.1" y2="348.3" stroke="#555" stroke-width="0.55"/>
<line x1="41.5" y1="346.7" x2="41.5" y2="348.3" stroke="#555" stroke-width="0.55"/>
<line x1="45.9" y1="346.7" x2="45.9" y2="348.3" stroke="#555" stroke-width="0.55"/>
<line x1="50.3" y1="346.7" x2="50.3" y2="348.3" stroke="#555" stroke-width="0.55"/>
<line x1="54.7" y1="346.7" x2="54.7" y2="348.3" stroke="#555" stroke-width="0.55"/>
<line x1="59.1" y1="346.7" x2="59.1" y2="348.3" stroke="#555" stroke-width="0.55"/>
<line x1="63.5" y1="346.7" x2="63.5" y2="348.3" stroke="#555" stroke-width="0.55"/>
<line x1="67.9" y1="346.7" x2="67.9" y2="348.3" stroke="#555" stroke-width="0.55"/>
<line x1="72.3" y1="346.7" x2="72.3" y2="348.3" stroke="#555" stroke-width="0.55"/>
<line x1="76.7" y1="346.7" x2="76.7" y2="348.3" stroke="#555" stroke-width="0.55"/>
<line x1="81.1" y1="346.7" x2="81.1" y2="348.3" stroke="#555" stroke-width="0.55"/>
<line x1="85.5" y1="346.7" x2="85.5" y2="348.3" stroke="#555" stroke-width="0.55"/>
<line x1="89.9" y1="346.7" x2="89.9" y2="348.3" stroke="#555" stroke-width="0.55"/>
<line x1="94.3" y1="346.7" x2="94.3" y2="348.3" stroke="#555" stroke-width="0.55"/>
<line x1="36.7" y1="347.5" x2="41.7" y2="347.5" stroke="#333" stroke-width="1.2"/>
<path d="M103.19 346.1 L103.19 335.95 L104.49 333.86 L105.79 333.05 L106.88 326.71 L107.97 320.01 L108.69 319.05 L109.42 318.56 L110.5 313.48 L111.59 308.42 L112.68 306.39 L113.76 304.08 L114.85 299.39 L115.94 295.38 L116.66 297.51 L117.38 299.73 L118.47 297.6 L119.56 296.83 L120.64 299.96 L121.73 301.9 L122.82 301.63 L123.9 301.18 L124.63 297.88 L125.35 293.21 L126.44 296.94 L127.52 301.9 L128.61 298.8 L129.7 295.38 L130.42 299.32 L131.15 302.63 L131.87 306.73 L132.59 311.32 L133.68 313.65 L134.77 317.11 L135.85 320.98 L136.94 325.81 L138.03 330.38 L139.11 335.95 L140.2 339.22 L141.29 341.74 L142.37 342.98 L143.46 345.36 L143.46 346.1 Z" fill="#ddd4e4" stroke="#5f3f7f" stroke-width="0.9" stroke-linejoin="round"/>
<path d="M103.62 346.1 L103.62 346.09 L105.43 345.08 L107.24 343.19 L108.69 342.36 L110.14 341.74 L111.59 342.16 L113.04 342.46 L113.76 339.33 L114.49 335.95 L115.21 333.85 L115.94 331.6 L117.38 332.54 L118.83 333.05 L120.28 331.74 L121.73 330.15 L122.82 327.74 L123.9 325.81 L124.99 322.52 L126.08 318.56 L126.8 315.33 L127.52 312.77 L128.25 310.17 L128.97 306.97 L129.7 304.44 L130.42 301.18 L130.78 303.01 L131.15 304.08 L131.87 306.71 L132.59 309.87 L133.32 309.53 L134.04 308.42 L135.13 312.71 L136.22 315.66 L137.3 317.77 L138.39 320.01 L139.48 324.05 L140.56 328.7 L141.29 333.08 L142.01 337.39 L143.1 341.27 L144.18 343.91 L145.27 344.48 L146.36 346.09 L146.36 346.1 Z" fill="rgba(72,32,104,0.70)" stroke="#4b2a66" stroke-width="0.9" stroke-linejoin="round"/>
<path d="M103.19 346.1 L103.19 335.95 L104.49 333.86 L105.79 333.05 L106.88 326.71 L107.97 320.01 L108.69 319.05 L109.42 318.56 L110.5 313.48 L111.59 308.42 L112.68 306.39 L113.76 304.08 L114.85 299.39 L115.94 295.38 L116.66 297.51 L117.38 299.73 L118.47 297.6 L119.56 296.83 L120.64 299.96 L121.73 301.9 L122.82 301.63 L123.9 301.18 L124.63 297.88 L125.35 293.21 L126.44 296.94 L127.52 301.9 L128.61 298.8 L129.7 295.38 L130.42 299.32 L131.15 302.63 L131.87 306.73 L132.59 311.32 L133.68 313.65 L134.77 317.11 L135.85 320.98 L136.94 325.81 L138.03 330.38 L139.11 335.95 L140.2 339.22 L141.29 341.74 L142.37 342.98 L143.46 345.36 L143.46 346.1" fill="none" stroke="#5f3f7f" stroke-width="0.7" stroke-opacity="0.8" stroke-linejoin="round"/>
<rect x="102.9" y="279.7" width="66.3" height="66.4" fill="none" stroke="#3a3a3a" stroke-width="0.8"/>
<line x1="101.3" y1="344.6" x2="102.9" y2="344.6" stroke="#555" stroke-width="0.55"/>
<line x1="101.3" y1="340.5" x2="102.9" y2="340.5" stroke="#555" stroke-width="0.55"/>
<line x1="101.3" y1="336.4" x2="102.9" y2="336.4" stroke="#555" stroke-width="0.55"/>
<line x1="101.3" y1="332.3" x2="102.9" y2="332.3" stroke="#555" stroke-width="0.55"/>
<line x1="101.3" y1="328.2" x2="102.9" y2="328.2" stroke="#555" stroke-width="0.55"/>
<line x1="101.3" y1="324.1" x2="102.9" y2="324.1" stroke="#555" stroke-width="0.55"/>
<line x1="101.3" y1="320" x2="102.9" y2="320" stroke="#555" stroke-width="0.55"/>
<line x1="101.3" y1="315.9" x2="102.9" y2="315.9" stroke="#555" stroke-width="0.55"/>
<line x1="101.3" y1="311.8" x2="102.9" y2="311.8" stroke="#555" stroke-width="0.55"/>
<line x1="101.3" y1="307.7" x2="102.9" y2="307.7" stroke="#555" stroke-width="0.55"/>
<line x1="101.3" y1="303.6" x2="102.9" y2="303.6" stroke="#555" stroke-width="0.55"/>
<line x1="101.3" y1="299.5" x2="102.9" y2="299.5" stroke="#555" stroke-width="0.55"/>
<line x1="101.3" y1="295.4" x2="102.9" y2="295.4" stroke="#555" stroke-width="0.55"/>
<line x1="101.3" y1="291.3" x2="102.9" y2="291.3" stroke="#555" stroke-width="0.55"/>
<line x1="101.3" y1="287.2" x2="102.9" y2="287.2" stroke="#555" stroke-width="0.55"/>
<line x1="101.3" y1="283.1" x2="102.9" y2="283.1" stroke="#555" stroke-width="0.55"/>
<line x1="105.9" y1="346.1" x2="105.9" y2="347.7" stroke="#555" stroke-width="0.55"/>
<line x1="110.3" y1="346.1" x2="110.3" y2="347.7" stroke="#555" stroke-width="0.55"/>
<line x1="114.7" y1="346.1" x2="114.7" y2="347.7" stroke="#555" stroke-width="0.55"/>
<line x1="119.1" y1="346.1" x2="119.1" y2="347.7" stroke="#555" stroke-width="0.55"/>
<line x1="123.5" y1="346.1" x2="123.5" y2="347.7" stroke="#555" stroke-width="0.55"/>
<line x1="127.9" y1="346.1" x2="127.9" y2="347.7" stroke="#555" stroke-width="0.55"/>
<line x1="132.3" y1="346.1" x2="132.3" y2="347.7" stroke="#555" stroke-width="0.55"/>
<line x1="136.7" y1="346.1" x2="136.7" y2="347.7" stroke="#555" stroke-width="0.55"/>
<line x1="141.1" y1="346.1" x2="141.1" y2="347.7" stroke="#555" stroke-width="0.55"/>
<line x1="145.5" y1="346.1" x2="145.5" y2="347.7" stroke="#555" stroke-width="0.55"/>
<line x1="149.9" y1="346.1" x2="149.9" y2="347.7" stroke="#555" stroke-width="0.55"/>
<line x1="154.3" y1="346.1" x2="154.3" y2="347.7" stroke="#555" stroke-width="0.55"/>
<line x1="158.7" y1="346.1" x2="158.7" y2="347.7" stroke="#555" stroke-width="0.55"/>
<line x1="163.1" y1="346.1" x2="163.1" y2="347.7" stroke="#555" stroke-width="0.55"/>
<line x1="167.5" y1="346.1" x2="167.5" y2="347.7" stroke="#555" stroke-width="0.55"/>
<line x1="109.9" y1="347.5" x2="114.9" y2="347.5" stroke="#333" stroke-width="1.2"/>
<path d="M176.47 346.8 L176.47 343.52 L177.58 339.85 L178.7 337.56 L179.82 330.82 L180.93 324.16 L182.42 318.42 L183.91 312.25 L185.03 306.67 L186.15 300.33 L187.26 295.68 L188.38 291.4 L189.5 290.97 L190.61 289.17 L190.98 288.41 L191.36 288.42 L192.1 291.02 L192.85 292.89 L193.59 293.06 L194.33 294.38 L195.08 296.7 L195.82 300.33 L196.94 305.03 L198.06 310.76 L198.8 314.61 L199.55 319.69 L200.29 324.91 L201.04 330.11 L202.15 333.91 L203.27 337.56 L204.76 340.09 L206.25 343.52 L208.11 345.62 L209.97 346.49 L209.97 346.8 Z" fill="#ddd4e4" stroke="#5f3f7f" stroke-width="0.9" stroke-linejoin="round"/>
<path d="M180.93 346.8 L180.93 346.49 L183.17 344.82 L185.4 343.52 L186.89 342.28 L188.38 342.03 L189.5 340.09 L190.61 339.05 L191.73 337.15 L192.85 334.58 L194.33 332.94 L195.82 330.11 L196.94 326.66 L198.06 324.16 L198.8 319.78 L199.55 316.71 L200.66 314.87 L201.78 312.25 L202.67 308.91 L203.57 306.29 L204.31 309.94 L205.06 312.25 L206.4 316.71 L207.74 321.18 L208.85 325.84 L209.97 330.11 L211.09 332.87 L212.2 336.07 L213.32 339.47 L214.44 342.03 L215.55 344.2 L216.67 346.49 L216.67 346.8 Z" fill="rgba(72,32,104,0.70)" stroke="#4b2a66" stroke-width="0.9" stroke-linejoin="round"/>
<path d="M176.47 346.8 L176.47 343.52 L177.58 339.85 L178.7 337.56 L179.82 330.82 L180.93 324.16 L182.42 318.42 L183.91 312.25 L185.03 306.67 L186.15 300.33 L187.26 295.68 L188.38 291.4 L189.5 290.97 L190.61 289.17 L190.98 288.41 L191.36 288.42 L192.1 291.02 L192.85 292.89 L193.59 293.06 L194.33 294.38 L195.08 296.7 L195.82 300.33 L196.94 305.03 L198.06 310.76 L198.8 314.61 L199.55 319.69 L200.29 324.91 L201.04 330.11 L202.15 333.91 L203.27 337.56 L204.76 340.09 L206.25 343.52 L208.11 345.62 L209.97 346.49 L209.97 346.8" fill="none" stroke="#5f3f7f" stroke-width="0.7" stroke-opacity="0.8" stroke-linejoin="round"/>
<rect x="175.3" y="279.8" width="67" height="67" fill="none" stroke="#3a3a3a" stroke-width="0.8"/>
<line x1="173.7" y1="345.3" x2="175.3" y2="345.3" stroke="#555" stroke-width="0.55"/>
<line x1="173.7" y1="341.2" x2="175.3" y2="341.2" stroke="#555" stroke-width="0.55"/>
<line x1="173.7" y1="337.1" x2="175.3" y2="337.1" stroke="#555" stroke-width="0.55"/>
<line x1="173.7" y1="333" x2="175.3" y2="333" stroke="#555" stroke-width="0.55"/>
<line x1="173.7" y1="328.9" x2="175.3" y2="328.9" stroke="#555" stroke-width="0.55"/>
<line x1="173.7" y1="324.8" x2="175.3" y2="324.8" stroke="#555" stroke-width="0.55"/>
<line x1="173.7" y1="320.7" x2="175.3" y2="320.7" stroke="#555" stroke-width="0.55"/>
<line x1="173.7" y1="316.6" x2="175.3" y2="316.6" stroke="#555" stroke-width="0.55"/>
<line x1="173.7" y1="312.5" x2="175.3" y2="312.5" stroke="#555" stroke-width="0.55"/>
<line x1="173.7" y1="308.4" x2="175.3" y2="308.4" stroke="#555" stroke-width="0.55"/>
<line x1="173.7" y1="304.3" x2="175.3" y2="304.3" stroke="#555" stroke-width="0.55"/>
<line x1="173.7" y1="300.2" x2="175.3" y2="300.2" stroke="#555" stroke-width="0.55"/>
<line x1="173.7" y1="296.1" x2="175.3" y2="296.1" stroke="#555" stroke-width="0.55"/>
<line x1="173.7" y1="292" x2="175.3" y2="292" stroke="#555" stroke-width="0.55"/>
<line x1="173.7" y1="287.9" x2="175.3" y2="287.9" stroke="#555" stroke-width="0.55"/>
<line x1="173.7" y1="283.8" x2="175.3" y2="283.8" stroke="#555" stroke-width="0.55"/>
<line x1="178.3" y1="346.8" x2="178.3" y2="348.4" stroke="#555" stroke-width="0.55"/>
<line x1="182.7" y1="346.8" x2="182.7" y2="348.4" stroke="#555" stroke-width="0.55"/>
<line x1="187.1" y1="346.8" x2="187.1" y2="348.4" stroke="#555" stroke-width="0.55"/>
<line x1="191.5" y1="346.8" x2="191.5" y2="348.4" stroke="#555" stroke-width="0.55"/>
<line x1="195.9" y1="346.8" x2="195.9" y2="348.4" stroke="#555" stroke-width="0.55"/>
<line x1="200.3" y1="346.8" x2="200.3" y2="348.4" stroke="#555" stroke-width="0.55"/>
<line x1="204.7" y1="346.8" x2="204.7" y2="348.4" stroke="#555" stroke-width="0.55"/>
<line x1="209.1" y1="346.8" x2="209.1" y2="348.4" stroke="#555" stroke-width="0.55"/>
<line x1="213.5" y1="346.8" x2="213.5" y2="348.4" stroke="#555" stroke-width="0.55"/>
<line x1="217.9" y1="346.8" x2="217.9" y2="348.4" stroke="#555" stroke-width="0.55"/>
<line x1="222.3" y1="346.8" x2="222.3" y2="348.4" stroke="#555" stroke-width="0.55"/>
<line x1="226.7" y1="346.8" x2="226.7" y2="348.4" stroke="#555" stroke-width="0.55"/>
<line x1="231.1" y1="346.8" x2="231.1" y2="348.4" stroke="#555" stroke-width="0.55"/>
<line x1="235.5" y1="346.8" x2="235.5" y2="348.4" stroke="#555" stroke-width="0.55"/>
<line x1="239.9" y1="346.8" x2="239.9" y2="348.4" stroke="#555" stroke-width="0.55"/>
<line x1="182.3" y1="347.5" x2="187.3" y2="347.5" stroke="#333" stroke-width="1.2"/>
<path d="M281.77 346 L281.77 341.42 L282.91 338.15 L284.04 335.38 L285.55 332.17 L287.06 327.83 L288.57 321.24 L290.08 315.75 L291.21 313.06 L292.34 309.72 L293.47 304.58 L294.6 300.66 L295.74 299.35 L296.87 297.64 L298 295.62 L299.13 293.87 L299.74 294 L300.34 293.11 L300.87 294.38 L301.4 296.89 L302.15 299.24 L302.91 301.42 L303.66 301.67 L304.42 302.17 L305.17 305.78 L305.92 308.21 L307.06 311.85 L308.19 314.25 L308.94 315.93 L309.7 317.26 L310.83 317.63 L311.96 318.77 L313.09 320.69 L314.23 323.3 L315.36 326.74 L316.49 330.85 L317.62 333.02 L318.75 335.38 L320.26 336.51 L321.77 338.4 L323.28 339.49 L324.79 341.42 L326.3 342.91 L327.81 343.68 L329.32 344.86 L330.83 345.64 L330.83 346 Z" fill="#ddd4e4" stroke="#5f3f7f" stroke-width="0.9" stroke-linejoin="round"/>
<path d="M293.09 346 L293.09 345.64 L295.36 343.25 L297.62 341.42 L299.51 339.09 L301.4 335.38 L302.53 331.21 L303.66 327.83 L305.55 324.91 L307.43 321.79 L308.94 318.29 L310.45 315.75 L311.58 313.24 L312.72 309.72 L313.85 306.46 L314.98 302.17 L315.74 297.69 L316.49 293.87 L317.02 296.11 L317.55 297.64 L318.15 302.62 L318.75 306.7 L319.89 311.68 L321.02 317.26 L321.77 318.54 L322.53 320.28 L323.28 325.55 L324.04 330.85 L324.79 335.17 L325.55 338.4 L326.68 340.19 L327.81 342.92 L328.94 344.54 L330.08 345.64 L330.08 346 Z" fill="rgba(72,32,104,0.70)" stroke="#4b2a66" stroke-width="0.9" stroke-linejoin="round"/>
<path d="M281.77 346 L281.77 341.42 L282.91 338.15 L284.04 335.38 L285.55 332.17 L287.06 327.83 L288.57 321.24 L290.08 315.75 L291.21 313.06 L292.34 309.72 L293.47 304.58 L294.6 300.66 L295.74 299.35 L296.87 297.64 L298 295.62 L299.13 293.87 L299.74 294 L300.34 293.11 L300.87 294.38 L301.4 296.89 L302.15 299.24 L302.91 301.42 L303.66 301.67 L304.42 302.17 L305.17 305.78 L305.92 308.21 L307.06 311.85 L308.19 314.25 L308.94 315.93 L309.7 317.26 L310.83 317.63 L311.96 318.77 L313.09 320.69 L314.23 323.3 L315.36 326.74 L316.49 330.85 L317.62 333.02 L318.75 335.38 L320.26 336.51 L321.77 338.4 L323.28 339.49 L324.79 341.42 L326.3 342.91 L327.81 343.68 L329.32 344.86 L330.83 345.64 L330.83 346" fill="none" stroke="#5f3f7f" stroke-width="0.7" stroke-opacity="0.8" stroke-linejoin="round"/>
<rect x="281.3" y="279.2" width="66.9" height="66.8" fill="none" stroke="#3a3a3a" stroke-width="0.8"/>
<line x1="279.7" y1="344.5" x2="281.3" y2="344.5" stroke="#555" stroke-width="0.55"/>
<line x1="279.7" y1="340.4" x2="281.3" y2="340.4" stroke="#555" stroke-width="0.55"/>
<line x1="279.7" y1="336.3" x2="281.3" y2="336.3" stroke="#555" stroke-width="0.55"/>
<line x1="279.7" y1="332.2" x2="281.3" y2="332.2" stroke="#555" stroke-width="0.55"/>
<line x1="279.7" y1="328.1" x2="281.3" y2="328.1" stroke="#555" stroke-width="0.55"/>
<line x1="279.7" y1="324" x2="281.3" y2="324" stroke="#555" stroke-width="0.55"/>
<line x1="279.7" y1="319.9" x2="281.3" y2="319.9" stroke="#555" stroke-width="0.55"/>
<line x1="279.7" y1="315.8" x2="281.3" y2="315.8" stroke="#555" stroke-width="0.55"/>
<line x1="279.7" y1="311.7" x2="281.3" y2="311.7" stroke="#555" stroke-width="0.55"/>
<line x1="279.7" y1="307.6" x2="281.3" y2="307.6" stroke="#555" stroke-width="0.55"/>
<line x1="279.7" y1="303.5" x2="281.3" y2="303.5" stroke="#555" stroke-width="0.55"/>
<line x1="279.7" y1="299.4" x2="281.3" y2="299.4" stroke="#555" stroke-width="0.55"/>
<line x1="279.7" y1="295.3" x2="281.3" y2="295.3" stroke="#555" stroke-width="0.55"/>
<line x1="279.7" y1="291.2" x2="281.3" y2="291.2" stroke="#555" stroke-width="0.55"/>
<line x1="279.7" y1="287.1" x2="281.3" y2="287.1" stroke="#555" stroke-width="0.55"/>
<line x1="279.7" y1="283" x2="281.3" y2="283" stroke="#555" stroke-width="0.55"/>
<line x1="284.3" y1="346" x2="284.3" y2="347.6" stroke="#555" stroke-width="0.55"/>
<line x1="288.7" y1="346" x2="288.7" y2="347.6" stroke="#555" stroke-width="0.55"/>
<line x1="293.1" y1="346" x2="293.1" y2="347.6" stroke="#555" stroke-width="0.55"/>
<line x1="297.5" y1="346" x2="297.5" y2="347.6" stroke="#555" stroke-width="0.55"/>
<line x1="301.9" y1="346" x2="301.9" y2="347.6" stroke="#555" stroke-width="0.55"/>
<line x1="306.3" y1="346" x2="306.3" y2="347.6" stroke="#555" stroke-width="0.55"/>
<line x1="310.7" y1="346" x2="310.7" y2="347.6" stroke="#555" stroke-width="0.55"/>
<line x1="315.1" y1="346" x2="315.1" y2="347.6" stroke="#555" stroke-width="0.55"/>
<line x1="319.5" y1="346" x2="319.5" y2="347.6" stroke="#555" stroke-width="0.55"/>
<line x1="323.9" y1="346" x2="323.9" y2="347.6" stroke="#555" stroke-width="0.55"/>
<line x1="328.3" y1="346" x2="328.3" y2="347.6" stroke="#555" stroke-width="0.55"/>
<line x1="332.7" y1="346" x2="332.7" y2="347.6" stroke="#555" stroke-width="0.55"/>
<line x1="337.1" y1="346" x2="337.1" y2="347.6" stroke="#555" stroke-width="0.55"/>
<line x1="341.5" y1="346" x2="341.5" y2="347.6" stroke="#555" stroke-width="0.55"/>
<line x1="345.9" y1="346" x2="345.9" y2="347.6" stroke="#555" stroke-width="0.55"/>
<line x1="288.3" y1="347.5" x2="293.3" y2="347.5" stroke="#333" stroke-width="1.2"/>
<path d="M355.78 346 L355.78 342.2 L357.29 340.45 L358.8 338.42 L360.31 334.58 L361.82 330.87 L362.95 327.97 L364.08 324.83 L365.21 322.73 L366.35 319.55 L367.48 318.01 L368.61 317.28 L369.37 314.05 L370.12 309.73 L371.25 308.4 L372.39 307.47 L373.37 306.35 L374.35 304.45 L375.63 303.45 L376.92 301.43 L377.67 302.87 L378.43 305.2 L379.18 308.35 L379.94 310.49 L380.69 313.82 L381.45 315.77 L382.2 314.36 L382.96 313.51 L383.71 313.97 L384.47 315.77 L385.22 317.49 L385.98 320.3 L387.11 324.74 L388.24 327.85 L389.75 330.94 L391.26 335.4 L393.53 339 L395.79 341.45 L398.06 342.62 L400.32 344.77 L401.83 345.55 L403.34 345.67 L403.34 346 Z" fill="#ddd4e4" stroke="#5f3f7f" stroke-width="0.9" stroke-linejoin="round"/>
<path d="M356.53 346 L356.53 345.67 L358.8 344.66 L361.06 344.77 L363.33 344.15 L365.59 344.47 L367.1 342.46 L368.61 339.94 L369.74 338.98 L370.88 339.18 L372.01 340.09 L373.14 341.45 L374.27 339.77 L375.41 336.91 L376.54 334.2 L377.67 330.87 L378.8 326.88 L379.94 321.81 L381.07 320.98 L382.2 318.79 L383.33 315.12 L384.47 312.75 L385.22 310.12 L385.98 308.22 L386.96 306.37 L387.94 303.69 L388.85 304.71 L389.75 305.2 L390.51 307.2 L391.26 310.49 L392.4 309.74 L393.53 308.98 L394.66 313.51 L395.79 318.79 L396.93 323.98 L398.06 329.36 L399.19 332.59 L400.32 336.91 L401.46 339.26 L402.59 342.96 L403.72 345 L404.85 345.67 L404.85 346 Z" fill="rgba(72,32,104,0.70)" stroke="#4b2a66" stroke-width="0.9" stroke-linejoin="round"/>
<path d="M355.78 346 L355.78 342.2 L357.29 340.45 L358.8 338.42 L360.31 334.58 L361.82 330.87 L362.95 327.97 L364.08 324.83 L365.21 322.73 L366.35 319.55 L367.48 318.01 L368.61 317.28 L369.37 314.05 L370.12 309.73 L371.25 308.4 L372.39 307.47 L373.37 306.35 L374.35 304.45 L375.63 303.45 L376.92 301.43 L377.67 302.87 L378.43 305.2 L379.18 308.35 L379.94 310.49 L380.69 313.82 L381.45 315.77 L382.2 314.36 L382.96 313.51 L383.71 313.97 L384.47 315.77 L385.22 317.49 L385.98 320.3 L387.11 324.74 L388.24 327.85 L389.75 330.94 L391.26 335.4 L393.53 339 L395.79 341.45 L398.06 342.62 L400.32 344.77 L401.83 345.55 L403.34 345.67 L403.34 346" fill="none" stroke="#5f3f7f" stroke-width="0.7" stroke-opacity="0.8" stroke-linejoin="round"/>
<rect x="355.3" y="279.2" width="66.9" height="66.8" fill="none" stroke="#3a3a3a" stroke-width="0.8"/>
<line x1="353.7" y1="344.5" x2="355.3" y2="344.5" stroke="#555" stroke-width="0.55"/>
<line x1="353.7" y1="340.4" x2="355.3" y2="340.4" stroke="#555" stroke-width="0.55"/>
<line x1="353.7" y1="336.3" x2="355.3" y2="336.3" stroke="#555" stroke-width="0.55"/>
<line x1="353.7" y1="332.2" x2="355.3" y2="332.2" stroke="#555" stroke-width="0.55"/>
<line x1="353.7" y1="328.1" x2="355.3" y2="328.1" stroke="#555" stroke-width="0.55"/>
<line x1="353.7" y1="324" x2="355.3" y2="324" stroke="#555" stroke-width="0.55"/>
<line x1="353.7" y1="319.9" x2="355.3" y2="319.9" stroke="#555" stroke-width="0.55"/>
<line x1="353.7" y1="315.8" x2="355.3" y2="315.8" stroke="#555" stroke-width="0.55"/>
<line x1="353.7" y1="311.7" x2="355.3" y2="311.7" stroke="#555" stroke-width="0.55"/>
<line x1="353.7" y1="307.6" x2="355.3" y2="307.6" stroke="#555" stroke-width="0.55"/>
<line x1="353.7" y1="303.5" x2="355.3" y2="303.5" stroke="#555" stroke-width="0.55"/>
<line x1="353.7" y1="299.4" x2="355.3" y2="299.4" stroke="#555" stroke-width="0.55"/>
<line x1="353.7" y1="295.3" x2="355.3" y2="295.3" stroke="#555" stroke-width="0.55"/>
<line x1="353.7" y1="291.2" x2="355.3" y2="291.2" stroke="#555" stroke-width="0.55"/>
<line x1="353.7" y1="287.1" x2="355.3" y2="287.1" stroke="#555" stroke-width="0.55"/>
<line x1="353.7" y1="283" x2="355.3" y2="283" stroke="#555" stroke-width="0.55"/>
<line x1="358.3" y1="346" x2="358.3" y2="347.6" stroke="#555" stroke-width="0.55"/>
<line x1="362.7" y1="346" x2="362.7" y2="347.6" stroke="#555" stroke-width="0.55"/>
<line x1="367.1" y1="346" x2="367.1" y2="347.6" stroke="#555" stroke-width="0.55"/>
<line x1="371.5" y1="346" x2="371.5" y2="347.6" stroke="#555" stroke-width="0.55"/>
<line x1="375.9" y1="346" x2="375.9" y2="347.6" stroke="#555" stroke-width="0.55"/>
<line x1="380.3" y1="346" x2="380.3" y2="347.6" stroke="#555" stroke-width="0.55"/>
<line x1="384.7" y1="346" x2="384.7" y2="347.6" stroke="#555" stroke-width="0.55"/>
<line x1="389.1" y1="346" x2="389.1" y2="347.6" stroke="#555" stroke-width="0.55"/>
<line x1="393.5" y1="346" x2="393.5" y2="347.6" stroke="#555" stroke-width="0.55"/>
<line x1="397.9" y1="346" x2="397.9" y2="347.6" stroke="#555" stroke-width="0.55"/>
<line x1="402.3" y1="346" x2="402.3" y2="347.6" stroke="#555" stroke-width="0.55"/>
<line x1="406.7" y1="346" x2="406.7" y2="347.6" stroke="#555" stroke-width="0.55"/>
<line x1="411.1" y1="346" x2="411.1" y2="347.6" stroke="#555" stroke-width="0.55"/>
<line x1="415.5" y1="346" x2="415.5" y2="347.6" stroke="#555" stroke-width="0.55"/>
<line x1="419.9" y1="346" x2="419.9" y2="347.6" stroke="#555" stroke-width="0.55"/>
<line x1="362.3" y1="347.5" x2="367.3" y2="347.5" stroke="#333" stroke-width="1.2"/>
<path d="M429.78 346 L429.78 339.94 L430.91 336.66 L432.04 333.89 L433.17 329.89 L434.31 324.83 L435.44 319.77 L436.57 315.77 L437.7 311.23 L438.84 306.71 L439.97 301.67 L441.1 297.65 L441.86 296.04 L442.61 294.63 L443.37 291.54 L444.12 289.35 L444.5 290.36 L444.88 290.86 L445.63 288.48 L446.39 287.08 L447.14 289.68 L447.9 291.61 L448.65 294.63 L449.41 297.65 L450.16 300.88 L450.92 305.2 L451.67 309.53 L452.43 314.26 L453.18 319.54 L453.94 324.83 L454.69 330.71 L455.45 335.4 L456.58 338.21 L457.71 341.45 L459.98 342.18 L462.24 343.71 L464.51 344.74 L466.77 344.47 L469.04 345.61 L471.3 345.67 L471.3 346 Z" fill="#ddd4e4" stroke="#5f3f7f" stroke-width="0.9" stroke-linejoin="round"/>
<path d="M441.1 346 L441.1 345.67 L444.12 345.77 L447.14 345.22 L448.65 344.15 L450.16 343.71 L452.43 342.13 L454.69 341.45 L455.45 338.1 L456.2 335.4 L456.96 331.03 L457.71 327.85 L458.47 321.17 L459.22 315.77 L459.83 314.65 L460.43 313.51 L460.96 316.4 L461.49 319.55 L462.02 317.74 L462.54 315.77 L463.3 311.43 L464.05 307.47 L464.81 310.18 L465.57 314.26 L466.17 314.9 L466.77 315.02 L467.53 319.39 L468.28 323.32 L469.04 327.16 L469.79 330.87 L470.55 334.72 L471.3 338.42 L472.44 341.33 L473.57 343.71 L475.08 345.37 L476.59 345.67 L476.59 346 Z" fill="rgba(72,32,104,0.70)" stroke="#4b2a66" stroke-width="0.9" stroke-linejoin="round"/>
<path d="M429.78 346 L429.78 339.94 L430.91 336.66 L432.04 333.89 L433.17 329.89 L434.31 324.83 L435.44 319.77 L436.57 315.77 L437.7 311.23 L438.84 306.71 L439.97 301.67 L441.1 297.65 L441.86 296.04 L442.61 294.63 L443.37 291.54 L444.12 289.35 L444.5 290.36 L444.88 290.86 L445.63 288.48 L446.39 287.08 L447.14 289.68 L447.9 291.61 L448.65 294.63 L449.41 297.65 L450.16 300.88 L450.92 305.2 L451.67 309.53 L452.43 314.26 L453.18 319.54 L453.94 324.83 L454.69 330.71 L455.45 335.4 L456.58 338.21 L457.71 341.45 L459.98 342.18 L462.24 343.71 L464.51 344.74 L466.77 344.47 L469.04 345.61 L471.3 345.67 L471.3 346" fill="none" stroke="#5f3f7f" stroke-width="0.7" stroke-opacity="0.8" stroke-linejoin="round"/>
<rect x="429.3" y="279.2" width="67.7" height="66.8" fill="none" stroke="#3a3a3a" stroke-width="0.8"/>
<line x1="427.7" y1="344.5" x2="429.3" y2="344.5" stroke="#555" stroke-width="0.55"/>
<line x1="427.7" y1="340.4" x2="429.3" y2="340.4" stroke="#555" stroke-width="0.55"/>
<line x1="427.7" y1="336.3" x2="429.3" y2="336.3" stroke="#555" stroke-width="0.55"/>
<line x1="427.7" y1="332.2" x2="429.3" y2="332.2" stroke="#555" stroke-width="0.55"/>
<line x1="427.7" y1="328.1" x2="429.3" y2="328.1" stroke="#555" stroke-width="0.55"/>
<line x1="427.7" y1="324" x2="429.3" y2="324" stroke="#555" stroke-width="0.55"/>
<line x1="427.7" y1="319.9" x2="429.3" y2="319.9" stroke="#555" stroke-width="0.55"/>
<line x1="427.7" y1="315.8" x2="429.3" y2="315.8" stroke="#555" stroke-width="0.55"/>
<line x1="427.7" y1="311.7" x2="429.3" y2="311.7" stroke="#555" stroke-width="0.55"/>
<line x1="427.7" y1="307.6" x2="429.3" y2="307.6" stroke="#555" stroke-width="0.55"/>
<line x1="427.7" y1="303.5" x2="429.3" y2="303.5" stroke="#555" stroke-width="0.55"/>
<line x1="427.7" y1="299.4" x2="429.3" y2="299.4" stroke="#555" stroke-width="0.55"/>
<line x1="427.7" y1="295.3" x2="429.3" y2="295.3" stroke="#555" stroke-width="0.55"/>
<line x1="427.7" y1="291.2" x2="429.3" y2="291.2" stroke="#555" stroke-width="0.55"/>
<line x1="427.7" y1="287.1" x2="429.3" y2="287.1" stroke="#555" stroke-width="0.55"/>
<line x1="427.7" y1="283" x2="429.3" y2="283" stroke="#555" stroke-width="0.55"/>
<line x1="432.3" y1="346" x2="432.3" y2="347.6" stroke="#555" stroke-width="0.55"/>
<line x1="436.7" y1="346" x2="436.7" y2="347.6" stroke="#555" stroke-width="0.55"/>
<line x1="441.1" y1="346" x2="441.1" y2="347.6" stroke="#555" stroke-width="0.55"/>
<line x1="445.5" y1="346" x2="445.5" y2="347.6" stroke="#555" stroke-width="0.55"/>
<line x1="449.9" y1="346" x2="449.9" y2="347.6" stroke="#555" stroke-width="0.55"/>
<line x1="454.3" y1="346" x2="454.3" y2="347.6" stroke="#555" stroke-width="0.55"/>
<line x1="458.7" y1="346" x2="458.7" y2="347.6" stroke="#555" stroke-width="0.55"/>
<line x1="463.1" y1="346" x2="463.1" y2="347.6" stroke="#555" stroke-width="0.55"/>
<line x1="467.5" y1="346" x2="467.5" y2="347.6" stroke="#555" stroke-width="0.55"/>
<line x1="471.9" y1="346" x2="471.9" y2="347.6" stroke="#555" stroke-width="0.55"/>
<line x1="476.3" y1="346" x2="476.3" y2="347.6" stroke="#555" stroke-width="0.55"/>
<line x1="480.7" y1="346" x2="480.7" y2="347.6" stroke="#555" stroke-width="0.55"/>
<line x1="485.1" y1="346" x2="485.1" y2="347.6" stroke="#555" stroke-width="0.55"/>
<line x1="489.5" y1="346" x2="489.5" y2="347.6" stroke="#555" stroke-width="0.55"/>
<line x1="493.9" y1="346" x2="493.9" y2="347.6" stroke="#555" stroke-width="0.55"/>
<line x1="436.3" y1="347.5" x2="441.3" y2="347.5" stroke="#333" stroke-width="1.2"/>
<text x="34.6" y="274.2" font-size="10" fill="#222" text-anchor="start" stroke="#222" stroke-width="0.1" textLength="54.5" lengthAdjust="spacingAndGlyphs" >CD4<tspan font-size="8" dy="-3.6">+</tspan><tspan dy="3.6">FoxP3</tspan><tspan font-size="8" dy="-3.6">-</tspan></text>
<text x="107" y="274.4" font-size="10" fill="#222" text-anchor="start" stroke="#222" stroke-width="0.1" textLength="55.8" lengthAdjust="spacingAndGlyphs" >CD4<tspan font-size="8" dy="-3.6">+</tspan><tspan dy="3.6">FoxP3</tspan><tspan font-size="8" dy="-3.6">+</tspan></text>
<text x="196.2" y="274.4" font-size="10" fill="#222" text-anchor="start" stroke="#222" stroke-width="0.1" textLength="23.5" lengthAdjust="spacingAndGlyphs" >CD8<tspan font-size="8" dy="-3.6">+</tspan></text>
<text x="288.2" y="274.1" font-size="10" fill="#222" text-anchor="start" stroke="#222" stroke-width="0.1" textLength="54" lengthAdjust="spacingAndGlyphs" >CD4<tspan font-size="8" dy="-3.6">+</tspan><tspan dy="3.6">FoxP3</tspan><tspan font-size="8" dy="-3.6">-</tspan></text>
<text x="359.4" y="274.1" font-size="10" fill="#222" text-anchor="start" stroke="#222" stroke-width="0.1" textLength="56" lengthAdjust="spacingAndGlyphs" >CD4<tspan font-size="8" dy="-3.6">+</tspan><tspan dy="3.6">FoxP3</tspan><tspan font-size="8" dy="-3.6">+</tspan></text>
<text x="449.9" y="274.1" font-size="10" fill="#222" text-anchor="start" stroke="#222" stroke-width="0.1" textLength="23.4" lengthAdjust="spacingAndGlyphs" >CD8<tspan font-size="8" dy="-3.6">+</tspan></text>
<text x="22" y="344.4" font-size="10" fill="#333" text-anchor="start" textLength="63.4" lengthAdjust="spacingAndGlyphs" transform="rotate(-90 22 344.4)" >Normalized to mode</text>
<text x="272.6" y="347" font-size="10.4" fill="#333" text-anchor="start" textLength="68.6" lengthAdjust="spacingAndGlyphs" transform="rotate(-90 272.6 347)" >Normalized to mode</text>
<line x1="29.2" y1="354.6" x2="42.2" y2="354.6" stroke="#222" stroke-width="1.2"/>
<path d="M41.2 352.8 L45.8 354.6 L41.2 356.4 Z" fill="#222"/>
<text x="29.2" y="365.8" font-size="9.2" fill="#333" text-anchor="start" textLength="15.8" lengthAdjust="spacingAndGlyphs" >TIGIT</text>
<line x1="281.2" y1="354.1" x2="294.2" y2="354.1" stroke="#222" stroke-width="1.2"/>
<path d="M293.2 352.3 L297.8 354.1 L293.2 355.9 Z" fill="#222"/>
<text x="281.2" y="365.8" font-size="9.2" fill="#333" text-anchor="start" textLength="15" lengthAdjust="spacingAndGlyphs" >PD-1</text>
<rect x="208.4" y="285.4" width="5" height="5" fill="#745590" stroke="#553573" stroke-width="0.9"/>
<rect x="208.4" y="294.5" width="5" height="5" fill="#e9e2ef" stroke="#6a4a88" stroke-width="0.9"/>
<text x="215.4" y="290.5" font-size="7.9" fill="#333" text-anchor="start" stroke="#333" stroke-width="0.1" >IL-10<tspan font-size="6" dy="-5">+</tspan></text>
<text x="215.4" y="299.7" font-size="7.9" fill="#333" text-anchor="start" stroke="#333" stroke-width="0.1" >IL-10<tspan font-size="6" dy="-5">-</tspan></text>
<rect x="462.2" y="285.4" width="5" height="5" fill="#745590" stroke="#553573" stroke-width="0.9"/>
<rect x="462.2" y="294.5" width="5" height="5" fill="#e9e2ef" stroke="#6a4a88" stroke-width="0.9"/>
<text x="469.2" y="290.5" font-size="7.9" fill="#333" text-anchor="start" stroke="#333" stroke-width="0.1" >IL-10<tspan font-size="6" dy="-5">+</tspan></text>
<text x="469.2" y="299.7" font-size="7.9" fill="#333" text-anchor="start" stroke="#333" stroke-width="0.1" >IL-10<tspan font-size="6" dy="-5">-</tspan></text>
<line x1="71.5" y1="392" x2="71.5" y2="478.5" stroke="#3a3a3a" stroke-width="1"/>
<line x1="68.8" y1="478.5" x2="71.8" y2="478.5" stroke="#3a3a3a" stroke-width="0.9"/>
<text x="66.6" y="480.7" font-size="7.9" fill="#333" text-anchor="end" stroke="#333" stroke-width="0.05" >0</text>
<line x1="68.8" y1="461.5" x2="71.8" y2="461.5" stroke="#3a3a3a" stroke-width="0.9"/>
<text x="66.6" y="463.85" font-size="7.9" fill="#333" text-anchor="end" stroke="#333" stroke-width="0.05" >200</text>
<line x1="68.8" y1="444.5" x2="71.8" y2="444.5" stroke="#3a3a3a" stroke-width="0.9"/>
<text x="66.6" y="447" font-size="7.9" fill="#333" text-anchor="end" stroke="#333" stroke-width="0.05" >400</text>
<line x1="68.8" y1="427.5" x2="71.8" y2="427.5" stroke="#3a3a3a" stroke-width="0.9"/>
<text x="66.6" y="430.15" font-size="7.9" fill="#333" text-anchor="end" stroke="#333" stroke-width="0.05" >600</text>
<line x1="68.8" y1="410.5" x2="71.8" y2="410.5" stroke="#3a3a3a" stroke-width="0.9"/>
<text x="66.6" y="413.3" font-size="7.9" fill="#333" text-anchor="end" stroke="#333" stroke-width="0.05" >800</text>
<line x1="68.8" y1="393.5" x2="71.8" y2="393.5" stroke="#3a3a3a" stroke-width="0.9"/>
<text x="66.6" y="396.45" font-size="7.9" fill="#333" text-anchor="end" stroke="#333" stroke-width="0.05" >1000</text>
<line x1="71.8" y1="478.5" x2="184.2" y2="478.5" stroke="#3a3a3a" stroke-width="1"/>
<rect x="77.5" y="427.5" width="13" height="51" fill="#fff" stroke="#3a3a3a" stroke-width="1"/>
<line x1="84.5" y1="423.6" x2="84.5" y2="431" stroke="#3a3a3a" stroke-width="0.9"/>
<line x1="81.8" y1="423.5" x2="86.2" y2="423.5" stroke="#3a3a3a" stroke-width="0.9"/>
<line x1="81.8" y1="431.5" x2="86.2" y2="431.5" stroke="#3a3a3a" stroke-width="0.9"/>
<rect x="93.5" y="456.5" width="13" height="22" fill="#fff" stroke="#3a3a3a" stroke-width="1"/>
<line x1="100.5" y1="453.2" x2="100.5" y2="459.8" stroke="#3a3a3a" stroke-width="0.9"/>
<line x1="97.8" y1="453.5" x2="102.2" y2="453.5" stroke="#3a3a3a" stroke-width="0.9"/>
<line x1="97.8" y1="459.5" x2="102.2" y2="459.5" stroke="#3a3a3a" stroke-width="0.9"/>
<rect x="113.5" y="416.5" width="13" height="62" fill="#fff" stroke="#3a3a3a" stroke-width="1"/>
<line x1="120.5" y1="412" x2="120.5" y2="420.4" stroke="#3a3a3a" stroke-width="0.9"/>
<line x1="117.8" y1="412.5" x2="122.2" y2="412.5" stroke="#3a3a3a" stroke-width="0.9"/>
<line x1="117.8" y1="420.5" x2="122.2" y2="420.5" stroke="#3a3a3a" stroke-width="0.9"/>
<rect x="128.5" y="455.5" width="13" height="23" fill="#fff" stroke="#3a3a3a" stroke-width="1"/>
<line x1="135.5" y1="452" x2="135.5" y2="458.5" stroke="#3a3a3a" stroke-width="0.9"/>
<line x1="132.8" y1="452.5" x2="137.2" y2="452.5" stroke="#3a3a3a" stroke-width="0.9"/>
<line x1="132.8" y1="458.5" x2="137.2" y2="458.5" stroke="#3a3a3a" stroke-width="0.9"/>
<rect x="148.5" y="428.5" width="13" height="50" fill="#fff" stroke="#3a3a3a" stroke-width="1"/>
<line x1="155.5" y1="422.7" x2="155.5" y2="433.6" stroke="#3a3a3a" stroke-width="0.9"/>
<line x1="152.8" y1="422.5" x2="157.2" y2="422.5" stroke="#3a3a3a" stroke-width="0.9"/>
<line x1="152.8" y1="433.5" x2="157.2" y2="433.5" stroke="#3a3a3a" stroke-width="0.9"/>
<rect x="163.5" y="460.5" width="13" height="18" fill="#fff" stroke="#3a3a3a" stroke-width="1"/>
<line x1="170.5" y1="458.5" x2="170.5" y2="462" stroke="#3a3a3a" stroke-width="0.9"/>
<line x1="167.8" y1="458.5" x2="172.2" y2="458.5" stroke="#3a3a3a" stroke-width="0.9"/>
<line x1="167.8" y1="462.5" x2="172.2" y2="462.5" stroke="#3a3a3a" stroke-width="0.9"/>
<rect x="97.6" y="444.9" width="3.2" height="3.2" fill="#b9a6cc" stroke="none" stroke-width="1"/>
<rect x="95.4" y="451.4" width="3.2" height="3.2" fill="#b9a6cc" stroke="none" stroke-width="1"/>
<rect x="103.1" y="456" width="3.2" height="3.2" fill="#b9a6cc" stroke="none" stroke-width="1"/>
<rect x="100.1" y="460" width="3.2" height="3.2" fill="#b9a6cc" stroke="none" stroke-width="1"/>
<rect x="95.6" y="462.5" width="3.2" height="3.2" fill="#b9a6cc" stroke="none" stroke-width="1"/>
<rect x="98.9" y="453.4" width="3.2" height="3.2" fill="#b9a6cc" stroke="none" stroke-width="1"/>
<rect x="129.3" y="448.9" width="3.2" height="3.2" fill="#b9a6cc" stroke="none" stroke-width="1"/>
<rect x="132.5" y="449.4" width="3.2" height="3.2" fill="#b9a6cc" stroke="none" stroke-width="1"/>
<rect x="136.1" y="446.5" width="3.2" height="3.2" fill="#b9a6cc" stroke="none" stroke-width="1"/>
<rect x="135" y="450.5" width="3.2" height="3.2" fill="#b9a6cc" stroke="none" stroke-width="1"/>
<rect x="130.9" y="464.2" width="3.2" height="3.2" fill="#b9a6cc" stroke="none" stroke-width="1"/>
<rect x="135.8" y="460.7" width="3.2" height="3.2" fill="#b9a6cc" stroke="none" stroke-width="1"/>
<rect x="136.1" y="454.6" width="3.2" height="3.2" fill="#b9a6cc" stroke="none" stroke-width="1"/>
<rect x="168.7" y="446.5" width="3.2" height="3.2" fill="#b9a6cc" stroke="none" stroke-width="1"/>
<rect x="166.3" y="454.6" width="3.2" height="3.2" fill="#b9a6cc" stroke="none" stroke-width="1"/>
<rect x="171.5" y="453.3" width="3.2" height="3.2" fill="#b9a6cc" stroke="none" stroke-width="1"/>
<rect x="168.7" y="460.2" width="3.2" height="3.2" fill="#b9a6cc" stroke="none" stroke-width="1"/>
<rect x="166" y="469" width="3.2" height="3.2" fill="#b9a6cc" stroke="none" stroke-width="1"/>
<rect x="171.5" y="467.4" width="3.2" height="3.2" fill="#b9a6cc" stroke="none" stroke-width="1"/>
<rect x="166.9" y="461.4" width="3.2" height="3.2" fill="#b9a6cc" stroke="none" stroke-width="1"/>
<circle cx="81.4" cy="414.9" r="1.8" fill="#3f0f5c"/>
<circle cx="84.4" cy="413.3" r="1.8" fill="#3f0f5c"/>
<circle cx="86.6" cy="419.1" r="1.8" fill="#3f0f5c"/>
<circle cx="84.4" cy="427.1" r="1.8" fill="#3f0f5c"/>
<circle cx="88.1" cy="430.4" r="1.8" fill="#3f0f5c"/>
<circle cx="80" cy="435.4" r="1.8" fill="#3f0f5c"/>
<circle cx="84.4" cy="435.4" r="1.8" fill="#3f0f5c"/>
<circle cx="84.4" cy="444.8" r="1.8" fill="#3f0f5c"/>
<circle cx="115.6" cy="405.5" r="1.8" fill="#3f0f5c"/>
<circle cx="119.7" cy="406" r="1.8" fill="#3f0f5c"/>
<circle cx="123.2" cy="401.1" r="1.8" fill="#3f0f5c"/>
<circle cx="119.7" cy="411.9" r="1.8" fill="#3f0f5c"/>
<circle cx="115.6" cy="422.4" r="1.8" fill="#3f0f5c"/>
<circle cx="119.7" cy="425.9" r="1.8" fill="#3f0f5c"/>
<circle cx="123.2" cy="421.1" r="1.8" fill="#3f0f5c"/>
<circle cx="119.7" cy="438.8" r="1.8" fill="#3f0f5c"/>
<circle cx="152.3" cy="410.3" r="1.8" fill="#3f0f5c"/>
<circle cx="157.5" cy="411.9" r="1.8" fill="#3f0f5c"/>
<circle cx="155.1" cy="421.1" r="1.8" fill="#3f0f5c"/>
<circle cx="152.2" cy="424" r="1.8" fill="#3f0f5c"/>
<circle cx="157.5" cy="428.5" r="1.8" fill="#3f0f5c"/>
<circle cx="155.1" cy="435.6" r="1.8" fill="#3f0f5c"/>
<circle cx="155.1" cy="442" r="1.8" fill="#3f0f5c"/>
<circle cx="155.1" cy="453.3" r="1.8" fill="#3f0f5c"/>
<line x1="82.2" y1="405.5" x2="97" y2="405.5" stroke="#444" stroke-width="1"/>
<text x="89.6" y="406.1" font-size="9" fill="#333" text-anchor="middle" stroke="#333" stroke-width="0.1" >**</text>
<line x1="119.8" y1="394.5" x2="134.6" y2="394.5" stroke="#444" stroke-width="1"/>
<text x="127.2" y="395.1" font-size="9" fill="#333" text-anchor="middle" stroke="#333" stroke-width="0.1" >***</text>
<line x1="157.9" y1="402.5" x2="172.3" y2="402.5" stroke="#444" stroke-width="1"/>
<text x="165.1" y="403.1" font-size="9" fill="#333" text-anchor="middle" stroke="#333" stroke-width="0.1" >**</text>
<text x="83.3" y="489.3" font-size="8.8" fill="#2a2a2a" text-anchor="start" stroke="#2a2a2a" stroke-width="0.1" textLength="17.5" lengthAdjust="spacingAndGlyphs" >CD4<tspan font-size="6.5" dy="-3.2">+</tspan></text>
<text x="120.3" y="489.3" font-size="8.8" fill="#2a2a2a" text-anchor="start" stroke="#2a2a2a" stroke-width="0.1" textLength="15.8" lengthAdjust="spacingAndGlyphs" >Treg</text>
<text x="155.2" y="489.3" font-size="8.8" fill="#2a2a2a" text-anchor="start" stroke="#2a2a2a" stroke-width="0.1" textLength="17.5" lengthAdjust="spacingAndGlyphs" >CD8<tspan font-size="6.5" dy="-3.2">+</tspan></text>
<text x="44.2" y="458.4" font-size="9.6" fill="#333" text-anchor="start" textLength="47.2" lengthAdjust="spacingAndGlyphs" transform="rotate(-90 44.2 458.4)" >TIGIT GMFI BM</text>
<circle cx="189.7" cy="388.5" r="1.9" fill="#3f0f5c"/>
<text x="194.5" y="391.4" font-size="7.9" fill="#333" text-anchor="start" stroke="#333" stroke-width="0.1" >IL-10<tspan font-size="6" dy="-5">+</tspan></text>
<rect x="187.9" y="396.6" width="3.6" height="3.6" fill="#b9a6cc" stroke="none" stroke-width="1"/>
<text x="194.5" y="401.3" font-size="7.9" fill="#333" text-anchor="start" stroke="#333" stroke-width="0.1" >IL-10<tspan font-size="6" dy="-5">-</tspan></text>
<line x1="327.5" y1="391" x2="327.5" y2="478.5" stroke="#3a3a3a" stroke-width="1"/>
<line x1="324.6" y1="478.5" x2="327.6" y2="478.5" stroke="#3a3a3a" stroke-width="0.9"/>
<text x="322.6" y="480.7" font-size="7.9" fill="#333" text-anchor="end" stroke="#333" stroke-width="0.05" >0</text>
<line x1="324.6" y1="450.5" x2="327.6" y2="450.5" stroke="#3a3a3a" stroke-width="0.9"/>
<text x="322.6" y="452.8" font-size="7.9" fill="#333" text-anchor="end" stroke="#333" stroke-width="0.05" >600</text>
<line x1="324.6" y1="422.5" x2="327.6" y2="422.5" stroke="#3a3a3a" stroke-width="0.9"/>
<text x="322.6" y="424.9" font-size="7.9" fill="#333" text-anchor="end" stroke="#333" stroke-width="0.05" >1200</text>
<line x1="324.6" y1="394.5" x2="327.6" y2="394.5" stroke="#3a3a3a" stroke-width="0.9"/>
<text x="322.6" y="397" font-size="7.9" fill="#333" text-anchor="end" stroke="#333" stroke-width="0.05" >1800</text>
<line x1="327.6" y1="478.5" x2="435" y2="478.5" stroke="#3a3a3a" stroke-width="1"/>
<rect x="333.5" y="433.5" width="12" height="45" fill="#fff" stroke="#3a3a3a" stroke-width="1"/>
<line x1="339.5" y1="428.2" x2="339.5" y2="440.2" stroke="#3a3a3a" stroke-width="0.9"/>
<line x1="337.3" y1="428.5" x2="341.7" y2="428.5" stroke="#3a3a3a" stroke-width="0.9"/>
<line x1="337.3" y1="440.5" x2="341.7" y2="440.5" stroke="#3a3a3a" stroke-width="0.9"/>
<rect x="350.5" y="465.5" width="12" height="13" fill="#fff" stroke="#3a3a3a" stroke-width="1"/>
<line x1="356.5" y1="463.5" x2="356.5" y2="466.5" stroke="#3a3a3a" stroke-width="0.9"/>
<line x1="354.3" y1="463.5" x2="358.7" y2="463.5" stroke="#3a3a3a" stroke-width="0.9"/>
<line x1="354.3" y1="466.5" x2="358.7" y2="466.5" stroke="#3a3a3a" stroke-width="0.9"/>
<rect x="368.5" y="429.5" width="12" height="49" fill="#fff" stroke="#3a3a3a" stroke-width="1"/>
<line x1="374.5" y1="423.8" x2="374.5" y2="435" stroke="#3a3a3a" stroke-width="0.9"/>
<line x1="372.3" y1="423.5" x2="376.7" y2="423.5" stroke="#3a3a3a" stroke-width="0.9"/>
<line x1="372.3" y1="435.5" x2="376.7" y2="435.5" stroke="#3a3a3a" stroke-width="0.9"/>
<rect x="386.5" y="456.5" width="12" height="22" fill="#fff" stroke="#3a3a3a" stroke-width="1"/>
<line x1="392.5" y1="453" x2="392.5" y2="459" stroke="#3a3a3a" stroke-width="0.9"/>
<line x1="390.3" y1="453.5" x2="394.7" y2="453.5" stroke="#3a3a3a" stroke-width="0.9"/>
<line x1="390.3" y1="459.5" x2="394.7" y2="459.5" stroke="#3a3a3a" stroke-width="0.9"/>
<rect x="404.5" y="438.5" width="12" height="40" fill="#fff" stroke="#3a3a3a" stroke-width="1"/>
<line x1="410.5" y1="431.3" x2="410.5" y2="444.5" stroke="#3a3a3a" stroke-width="0.9"/>
<line x1="408.3" y1="431.5" x2="412.7" y2="431.5" stroke="#3a3a3a" stroke-width="0.9"/>
<line x1="408.3" y1="444.5" x2="412.7" y2="444.5" stroke="#3a3a3a" stroke-width="0.9"/>
<rect x="421.5" y="466.5" width="12" height="12" fill="#fff" stroke="#3a3a3a" stroke-width="1"/>
<line x1="427.5" y1="464" x2="427.5" y2="468.5" stroke="#3a3a3a" stroke-width="0.9"/>
<line x1="425.3" y1="464.5" x2="429.7" y2="464.5" stroke="#3a3a3a" stroke-width="0.9"/>
<line x1="425.3" y1="468.5" x2="429.7" y2="468.5" stroke="#3a3a3a" stroke-width="0.9"/>
<rect x="350.9" y="460.4" width="3.2" height="3.2" fill="#b9a6cc" stroke="none" stroke-width="1"/>
<rect x="354.2" y="462.9" width="3.2" height="3.2" fill="#b9a6cc" stroke="none" stroke-width="1"/>
<rect x="356.7" y="462.4" width="3.2" height="3.2" fill="#b9a6cc" stroke="none" stroke-width="1"/>
<rect x="352.4" y="464.4" width="3.2" height="3.2" fill="#b9a6cc" stroke="none" stroke-width="1"/>
<rect x="355.4" y="464.9" width="3.2" height="3.2" fill="#b9a6cc" stroke="none" stroke-width="1"/>
<rect x="358.4" y="463.4" width="3.2" height="3.2" fill="#b9a6cc" stroke="none" stroke-width="1"/>
<rect x="392.7" y="445.9" width="3.2" height="3.2" fill="#b9a6cc" stroke="none" stroke-width="1"/>
<rect x="385.9" y="450.9" width="3.2" height="3.2" fill="#b9a6cc" stroke="none" stroke-width="1"/>
<rect x="388.9" y="452.9" width="3.2" height="3.2" fill="#b9a6cc" stroke="none" stroke-width="1"/>
<rect x="391.4" y="454.4" width="3.2" height="3.2" fill="#b9a6cc" stroke="none" stroke-width="1"/>
<rect x="387.9" y="463.4" width="3.2" height="3.2" fill="#b9a6cc" stroke="none" stroke-width="1"/>
<rect x="394.4" y="456.4" width="3.2" height="3.2" fill="#b9a6cc" stroke="none" stroke-width="1"/>
<rect x="389.4" y="458.4" width="3.2" height="3.2" fill="#b9a6cc" stroke="none" stroke-width="1"/>
<rect x="386.4" y="455.4" width="3.2" height="3.2" fill="#b9a6cc" stroke="none" stroke-width="1"/>
<rect x="425.7" y="455.7" width="3.2" height="3.2" fill="#b9a6cc" stroke="none" stroke-width="1"/>
<rect x="422.8" y="460.9" width="3.2" height="3.2" fill="#b9a6cc" stroke="none" stroke-width="1"/>
<rect x="428.6" y="462.1" width="3.2" height="3.2" fill="#b9a6cc" stroke="none" stroke-width="1"/>
<rect x="425.7" y="467.2" width="3.2" height="3.2" fill="#b9a6cc" stroke="none" stroke-width="1"/>
<rect x="423.4" y="465.4" width="3.2" height="3.2" fill="#b9a6cc" stroke="none" stroke-width="1"/>
<rect x="427.9" y="465.9" width="3.2" height="3.2" fill="#b9a6cc" stroke="none" stroke-width="1"/>
<rect x="421.9" y="464.9" width="3.2" height="3.2" fill="#b9a6cc" stroke="none" stroke-width="1"/>
<circle cx="339.2" cy="405.8" r="1.8" fill="#3f0f5c"/>
<circle cx="339.2" cy="413.9" r="1.8" fill="#3f0f5c"/>
<circle cx="341.7" cy="428" r="1.8" fill="#3f0f5c"/>
<circle cx="336.6" cy="431.3" r="1.8" fill="#3f0f5c"/>
<circle cx="344.3" cy="444.1" r="1.8" fill="#3f0f5c"/>
<circle cx="336.6" cy="444.1" r="1.8" fill="#3f0f5c"/>
<circle cx="341.7" cy="448.7" r="1.8" fill="#3f0f5c"/>
<circle cx="336.6" cy="453" r="1.8" fill="#3f0f5c"/>
<circle cx="374.4" cy="401.4" r="1.8" fill="#3f0f5c"/>
<circle cx="376.7" cy="412.1" r="1.8" fill="#3f0f5c"/>
<circle cx="371.6" cy="416.7" r="1.8" fill="#3f0f5c"/>
<circle cx="372.2" cy="436.5" r="1.8" fill="#3f0f5c"/>
<circle cx="371.5" cy="441.7" r="1.8" fill="#3f0f5c"/>
<circle cx="377.5" cy="441.3" r="1.8" fill="#3f0f5c"/>
<circle cx="374.7" cy="446.5" r="1.8" fill="#3f0f5c"/>
<circle cx="409.5" cy="398.3" r="1.8" fill="#3f0f5c"/>
<circle cx="409.5" cy="418.8" r="1.8" fill="#3f0f5c"/>
<circle cx="407.1" cy="440.6" r="1.8" fill="#3f0f5c"/>
<circle cx="414.6" cy="443.5" r="1.8" fill="#3f0f5c"/>
<circle cx="412.3" cy="448.1" r="1.8" fill="#3f0f5c"/>
<circle cx="407.7" cy="450.4" r="1.8" fill="#3f0f5c"/>
<circle cx="411.7" cy="451.5" r="1.8" fill="#3f0f5c"/>
<circle cx="409.5" cy="452.7" r="1.8" fill="#3f0f5c"/>
<line x1="337.5" y1="397.5" x2="352" y2="397.5" stroke="#444" stroke-width="1"/>
<text x="344.75" y="398.1" font-size="9" fill="#333" text-anchor="middle" stroke="#333" stroke-width="0.1" >**</text>
<line x1="372.5" y1="394.5" x2="387.5" y2="394.5" stroke="#444" stroke-width="1"/>
<text x="380" y="395.1" font-size="9" fill="#333" text-anchor="middle" stroke="#333" stroke-width="0.1" >***</text>
<line x1="408.8" y1="391.5" x2="423.3" y2="391.5" stroke="#444" stroke-width="1"/>
<text x="416.05" y="392.1" font-size="9" fill="#333" text-anchor="middle" stroke="#333" stroke-width="0.1" >***</text>
<text x="339" y="489.3" font-size="8.8" fill="#2a2a2a" text-anchor="start" stroke="#2a2a2a" stroke-width="0.1" textLength="17.5" lengthAdjust="spacingAndGlyphs" >CD4<tspan font-size="6.5" dy="-3.2">+</tspan></text>
<text x="375.5" y="489.3" font-size="8.8" fill="#2a2a2a" text-anchor="start" stroke="#2a2a2a" stroke-width="0.1" textLength="15.8" lengthAdjust="spacingAndGlyphs" >Treg</text>
<text x="410.5" y="489.3" font-size="8.8" fill="#2a2a2a" text-anchor="start" stroke="#2a2a2a" stroke-width="0.1" textLength="17.5" lengthAdjust="spacingAndGlyphs" >CD8<tspan font-size="6.5" dy="-3.2">+</tspan></text>
<text x="299.3" y="463.2" font-size="9.6" fill="#333" text-anchor="start" textLength="57.4" lengthAdjust="spacingAndGlyphs" transform="rotate(-90 299.3 463.2)" >PD-1 GMFI in BM</text>
<circle cx="440.2" cy="393.7" r="1.9" fill="#3f0f5c"/>
<text x="446" y="396.6" font-size="7.9" fill="#333" text-anchor="start" stroke="#333" stroke-width="0.1" >IL-10<tspan font-size="6" dy="-5">+</tspan></text>
<rect x="438.4" y="402.8" width="3.6" height="3.6" fill="#b9a6cc" stroke="none" stroke-width="1"/>
<text x="446" y="407.4" font-size="7.9" fill="#333" text-anchor="start" stroke="#333" stroke-width="0.1" >IL-10<tspan font-size="6" dy="-5">-</tspan></text>
<rect x="0.5" y="0.5" width="519" height="496" fill="none" stroke="#111" stroke-width="1.2"/>
</svg></body></html>
